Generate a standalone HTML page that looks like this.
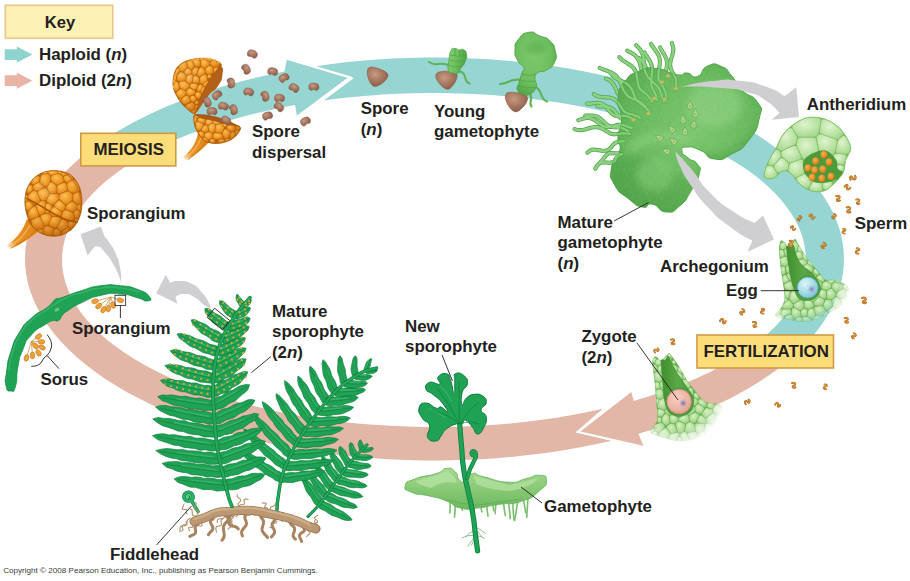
<!DOCTYPE html>
<html><head><meta charset="utf-8"><title>Fern life cycle</title>
<style>
html,body{margin:0;padding:0;background:#fff;}
body{width:910px;height:581px;overflow:hidden;position:relative;}
svg{position:absolute;left:0;top:0;display:block;}
svg text{font-family:"Liberation Sans",sans-serif;fill:#231f20;}
</style></head><body>
<svg width="910" height="581" viewBox="0 0 910 581">
<path d="M611.7 440.7L595.6 444.2L579.2 447.5L562.6 450.4L545.7 452.9L528.5 455.1L511.3 456.9L493.8 458.4L476.3 459.4L458.7 460.1L441.0 460.5L423.3 460.4L405.7 460.0L388.1 459.2L370.6 458.0L353.2 456.5L335.9 454.6L318.9 452.3L302.0 449.7L285.4 446.7L269.1 443.3L253.1 439.7L237.4 435.6L222.1 431.3L207.2 426.6L192.7 421.6L178.7 416.4L165.1 410.8L152.1 404.9L139.6 398.8L127.6 392.4L116.2 385.7L105.3 378.9L95.1 371.8L85.6 364.5L76.6 357.0L68.4 349.3L60.8 341.4L53.9 333.4L47.8 325.2L42.3 317.0L37.6 308.6L33.6 300.1L30.4 291.6L27.9 283.0L26.2 274.3L25.2 265.6L25.0 256.9L25.6 248.2L26.9 239.6L29.0 230.9L31.8 222.3L35.4 213.8L39.8 205.4L44.8 197.1L50.6 188.8L57.1 180.8L64.3 172.8L72.2 165.0L80.8 157.4L90.1 150.0L143.6 155.6L133.4 161.6L123.8 167.8L114.8 174.2L106.5 180.8L98.8 187.5L91.9 194.4L85.6 201.4L80.1 208.6L75.2 215.8L71.2 223.2L67.8 230.6L65.2 238.1L63.4 245.6L62.3 253.1L62.0 260.7L62.5 268.2L63.7 275.8L65.6 283.3L68.4 290.7L71.8 298.1L76.1 305.5L81.0 312.7L86.7 319.8L93.1 326.8L100.2 333.7L107.9 340.4L116.4 346.9L125.5 353.3L135.2 359.5L145.5 365.4L156.4 371.2L167.9 376.7L180.0 382.0L192.5 387.0L205.6 391.8L219.1 396.3L233.1 400.5L247.5 404.5L262.2 408.1L277.3 411.5L292.8 414.5L308.5 417.2L324.5 419.6L340.7 421.7L357.1 423.4L373.6 424.8L390.3 425.8L407.1 426.6L423.9 426.9L440.7 427.0L457.6 426.7L474.4 426.0L491.1 425.0L507.6 423.7L524.1 422.0L540.3 420.0L556.3 417.7L572.1 415.1L587.6 412.1L602.8 408.8L576 432Z" fill="#e2b7a7"/>
<path d="M314.5 66.4L329.8 64.2L345.3 62.3L361.0 60.8L376.8 59.5L392.6 58.6L408.5 57.9L424.5 57.6L440.4 57.5L456.4 57.8L472.3 58.4L488.2 59.2L504.0 60.4L519.7 61.9L535.2 63.7L550.6 65.8L565.8 68.1L580.9 70.8L595.7 73.8L610.2 77.0L624.5 80.5L638.5 84.3L652.2 88.3L665.6 92.6L678.6 97.2L691.2 102.0L703.4 107.0L715.3 112.3L726.7 117.8L737.7 123.5L748.2 129.5L758.2 135.6L767.7 141.9L776.7 148.4L785.2 155.0L793.2 161.8L800.7 168.8L807.5 175.9L813.8 183.1L819.6 190.4L824.7 197.9L829.2 205.4L833.2 213.0L836.5 220.7L839.3 228.4L841.4 236.2L842.9 244.0L843.7 251.9L844.0 259.7L843.6 267.6L842.6 275.4L841.0 283.3L838.8 291.0L835.9 298.8L832.5 306.4L828.4 314.0L823.8 321.6L818.5 329.0L812.7 336.3L806.3 343.5L799.3 350.6L747.5 349.9L755.4 344.1L762.8 338.1L769.6 332.1L775.8 325.9L781.5 319.6L786.6 313.2L791.1 306.7L795.1 300.2L798.4 293.5L801.2 286.9L803.3 280.1L804.8 273.4L805.7 266.6L806.0 259.8L805.7 253.0L804.7 246.2L803.2 239.5L801.0 232.8L798.2 226.1L794.9 219.5L790.9 212.9L786.3 206.4L781.2 200.0L775.5 193.8L769.2 187.6L762.4 181.5L755.0 175.6L747.1 169.8L738.7 164.2L729.7 158.7L720.3 153.4L710.4 148.2L700.1 143.3L689.3 138.5L678.1 134.0L666.4 129.6L654.4 125.5L642.1 121.6L629.4 117.9L616.3 114.4L603.0 111.2L589.4 108.3L575.5 105.6L561.4 103.1L547.1 100.9L532.6 99.0L517.9 97.3L503.1 95.9L488.2 94.8L473.2 93.9L458.1 93.4L443.0 93.0L427.9 93.0L412.8 93.3L397.7 93.8L382.7 94.6L367.7 95.7L352.9 97.0L338.2 98.6L323.7 100.5L354 78Z" fill="#96d5d1"/>
<path d="M748.9 348.9L744.5 352.0L739.9 355.0L735.1 358.1L730.2 361.0L725.2 363.9L720.0 366.8L714.6 369.6L709.2 372.4L703.5 375.1L697.8 377.7L691.9 380.3L685.9 382.9L679.8 385.3L673.6 387.8L667.2 390.1L660.8 392.4L654.2 394.6L647.5 396.8L640.7 398.8L633.8 400.9L631 391L578 432L644 447L638.4 433.8L648.6 430.8L658.6 427.7L668.4 424.4L678.0 421.0L687.4 417.5L696.6 413.8L705.6 410.0L714.3 406.1L722.8 402.1L731.1 397.9L739.2 393.6L746.9 389.3L754.5 384.8L761.7 380.2L768.7 375.5L775.4 370.7L781.8 365.8L787.9 360.8L793.8 355.7L799.3 350.6Z" fill="#e2b7a7"/>
<path d="M631 391L578 432L644 447" fill="none" stroke="#fff" stroke-width="2.2" stroke-linejoin="miter"/>
<path d="M104.4 139.8L111.3 135.3L118.5 130.8L126.0 126.5L133.7 122.3L141.6 118.2L149.7 114.2L158.1 110.3L166.7 106.5L175.6 102.9L184.6 99.4L193.8 96.0L203.2 92.7L212.8 89.6L222.6 86.6L232.5 83.7L242.6 81.0L252.8 78.4L263.2 76.0L273.8 73.7L284.4 71.5L287 58.6L350 77.5L297 117L295.2 105.1L285.8 106.8L276.5 108.7L267.3 110.7L258.3 112.8L249.4 115.0L240.6 117.3L231.9 119.8L223.5 122.3L215.1 125.0L207.0 127.7L199.0 130.5L191.2 133.5L183.5 136.5L176.1 139.6L168.9 142.9L161.8 146.2L155.0 149.6L148.3 153.0L141.9 156.6L135.7 160.2Z" fill="#96d5d1"/>
<path d="M287 58.6L350 77.5L297 117" fill="none" stroke="#fff" stroke-width="2.2" stroke-linejoin="miter"/>
<defs>
<radialGradient id="gMG" cx="0.55" cy="0.45" r="0.65"><stop offset="0" stop-color="#7bc66d"/><stop offset="0.6" stop-color="#66b95b"/><stop offset="1" stop-color="#4fa348"/></radialGradient>
<filter id="fTex" x="0" y="0" width="1" height="1"><feTurbulence type="fractalNoise" baseFrequency="0.35" numOctaves="2" seed="3" result="n"/><feColorMatrix in="n" type="matrix" values="0 0 0 0 1  0 0 0 0 1  0 0 0 0 1  0.9 0 0 0 -0.32" result="a"/><feComposite in="a" in2="SourceGraphic" operator="in"/></filter>
<filter id="fBlur2"><feGaussianBlur stdDeviation="2"/></filter>
<filter id="fBlur1"><feGaussianBlur stdDeviation="1"/></filter>
<filter id="fBlur3"><feGaussianBlur stdDeviation="3.5"/></filter>
</defs>
<defs>
<radialGradient id="gSpA" gradientUnits="userSpaceOnUse" cx="46" cy="192" r="42"><stop offset="0" stop-color="#f7b545"/><stop offset="0.55" stop-color="#ec9422"/><stop offset="1" stop-color="#c96f10"/></radialGradient>
<radialGradient id="gSpB" gradientUnits="userSpaceOnUse" cx="190" cy="78" r="42"><stop offset="0" stop-color="#f7b545"/><stop offset="0.55" stop-color="#ec9422"/><stop offset="1" stop-color="#c96f10"/></radialGradient>
<radialGradient id="gSpC" gradientUnits="userSpaceOnUse" cx="212" cy="124" r="30"><stop offset="0" stop-color="#f5ad3c"/><stop offset="0.6" stop-color="#e88f20"/><stop offset="1" stop-color="#c2690e"/></radialGradient>
<radialGradient id="gCellO" cx="0.4" cy="0.35" r="0.75"><stop offset="0" stop-color="#fbc258"/><stop offset="0.55" stop-color="#f09c28"/><stop offset="1" stop-color="#d97f14"/></radialGradient>
<radialGradient id="shA" gradientUnits="userSpaceOnUse" cx="47" cy="193" r="44"><stop offset="0" stop-color="#fff" stop-opacity="0.12"/><stop offset="0.5" stop-color="#c06008" stop-opacity="0"/><stop offset="1" stop-color="#a04c04" stop-opacity="0.55"/></radialGradient>
<radialGradient id="shB" gradientUnits="userSpaceOnUse" cx="190" cy="76" r="40"><stop offset="0" stop-color="#fff" stop-opacity="0.12"/><stop offset="0.5" stop-color="#c06008" stop-opacity="0"/><stop offset="1" stop-color="#a04c04" stop-opacity="0.55"/></radialGradient>
<radialGradient id="shC" gradientUnits="userSpaceOnUse" cx="212" cy="122" r="30"><stop offset="0" stop-color="#fff" stop-opacity="0.1"/><stop offset="0.5" stop-color="#c06008" stop-opacity="0"/><stop offset="1" stop-color="#a04c04" stop-opacity="0.55"/></radialGradient>
<linearGradient id="gStalk" x1="0" y1="0" x2="1" y2="1"><stop offset="0" stop-color="#f0a030"/><stop offset="1" stop-color="#d07a14"/></linearGradient>
</defs>
<g fill="none" stroke="#4f9f49" stroke-width="4.1" stroke-linecap="round"><path d="M676.0 90.0C676.0 89.3 676.0 89.3 676.0 88.0C676.0 86.7 676.0 87.4 676.1 86.0C676.2 84.7 676.2 85.4 676.2 84.1C676.3 82.7 676.3 83.4 676.2 82.1C676.2 80.8 676.3 81.4 676.1 80.1C675.8 78.8 676.0 79.5 675.6 78.2C675.2 76.9 675.4 77.6 674.8 76.3C674.2 75.1 674.5 75.7 673.8 74.5C673.1 73.3 673.4 73.9 672.7 72.7C672.0 71.4 672.3 72.1 671.7 70.8C671.1 69.6 671.4 70.2 670.9 68.9C670.5 67.7 670.7 68.3 670.4 67.0C670.2 65.7 670.3 66.4 670.2 65.1C670.2 63.8 670.2 64.4 670.3 63.1C670.4 61.8 670.4 62.4 670.6 61.1C670.9 59.7 670.8 60.4 671.1 59.0C671.5 57.7 671.3 58.4 671.8 57.0C672.2 55.6 672.0 56.3 672.4 54.9C672.7 53.6 672.6 54.3 672.9 52.9C673.2 51.5 673.1 52.2 673.2 50.9C673.3 49.6 673.3 50.2 673.3 48.9C673.2 47.6 673.3 48.2 673.1 47.0C672.8 45.7 673.0 46.3 672.5 45.0C672.1 43.8 672.0 43.8 671.8 43.2"/><path d="M666.4 99.0C666.3 98.2 666.4 98.2 666.2 96.6C666.0 95.0 666.1 95.8 665.8 94.2C665.5 92.7 665.7 93.4 665.3 91.9C664.8 90.4 665.1 91.2 664.4 89.7C663.7 88.2 664.1 88.9 663.3 87.5C662.5 86.1 662.9 86.8 662.0 85.4C661.1 83.9 661.5 84.7 660.6 83.2C659.7 81.8 660.0 82.6 659.3 81.1C658.7 79.6 659.0 80.4 658.7 78.8C658.3 77.2 658.5 78.0 658.4 76.4C658.3 74.8 658.3 75.6 658.4 74.0C658.5 72.3 658.4 73.1 658.7 71.4C658.9 69.8 658.8 70.6 659.1 68.9C659.4 67.2 659.3 68.0 659.5 66.3C659.8 64.7 659.7 65.5 659.8 63.8C659.9 62.2 659.9 63.0 659.9 61.4C659.8 59.7 659.9 60.5 659.6 59.0C659.3 57.4 659.5 58.2 659.0 56.7C658.5 55.2 658.8 55.9 658.0 54.4C657.3 53.0 657.7 53.7 656.8 52.3C655.8 50.9 656.3 51.6 655.3 50.2C654.3 48.8 654.8 49.5 653.7 48.1C652.7 46.7 653.2 47.4 652.2 46.0C651.3 44.6 651.4 44.6 650.9 43.9"/><path d="M664.0 102.0C663.7 101.2 663.6 101.2 663.0 99.6C662.3 97.9 662.7 98.7 662.1 97.0C661.6 95.3 661.9 96.2 661.3 94.5C660.8 92.8 661.1 93.6 660.5 91.9C659.9 90.3 660.2 91.1 659.5 89.5C658.7 88.0 659.1 88.7 658.1 87.3C657.1 85.8 657.6 86.5 656.4 85.2C655.2 83.8 655.8 84.5 654.4 83.3C653.0 82.0 653.6 82.7 652.2 81.4C650.8 80.2 651.4 80.8 650.2 79.5C648.9 78.2 649.4 78.9 648.3 77.5C647.2 76.1 647.7 76.8 646.9 75.3C646.0 73.7 646.4 74.5 645.7 72.9C645.1 71.2 645.3 72.1 644.9 70.3C644.5 68.6 644.7 69.5 644.4 67.6C644.1 65.8 644.3 66.7 644.1 64.8C643.9 63.0 644.0 63.9 643.9 62.0C643.7 60.1 643.8 61.0 643.6 59.2C643.3 57.3 643.5 58.2 643.1 56.4C642.7 54.7 643.0 55.5 642.4 53.9C641.8 52.2 642.1 53.0 641.3 51.5C640.5 49.9 640.9 50.7 639.9 49.2C638.8 47.8 639.4 48.5 638.1 47.2C636.9 45.8 636.8 45.9 636.1 45.2"/><path d="M657.0 100.0C656.9 99.3 656.9 99.3 656.6 98.0C656.3 96.6 656.5 97.3 656.0 96.0C655.6 94.7 655.8 95.3 655.3 94.1C654.7 92.8 655.0 93.4 654.4 92.2C653.8 90.9 654.1 91.5 653.5 90.3C652.8 89.0 653.1 89.6 652.5 88.4C652.0 87.1 652.2 87.7 651.8 86.4C651.3 85.1 651.4 85.8 651.2 84.5C651.0 83.1 651.1 83.8 651.1 82.4C651.1 81.0 651.1 81.7 651.2 80.2C651.3 78.8 651.3 79.5 651.4 78.1C651.6 76.6 651.5 77.3 651.7 75.9C651.9 74.5 651.8 75.2 652.0 73.7C652.1 72.3 652.1 73.0 652.1 71.6C652.2 70.2 652.2 70.9 652.1 69.5C652.1 68.1 652.1 68.8 651.9 67.4C651.7 66.1 651.9 66.7 651.5 65.4C651.2 64.1 651.4 64.7 650.9 63.4C650.4 62.1 650.7 62.8 650.1 61.5C649.4 60.3 649.8 60.9 649.0 59.6C648.3 58.4 648.7 59.0 647.9 57.8C647.1 56.6 647.5 57.2 646.7 56.0C645.9 54.7 646.3 55.3 645.5 54.1C644.8 52.9 644.8 52.9 644.5 52.3"/><path d="M652.0 102.0C651.7 101.3 651.7 101.3 651.0 99.9C650.2 98.6 650.6 99.2 649.7 98.0C648.8 96.7 649.3 97.3 648.3 96.2C647.2 95.0 647.8 95.6 646.6 94.5C645.4 93.4 646.0 94.0 644.7 93.0C643.5 91.9 644.0 92.5 642.8 91.4C641.6 90.4 642.1 91.0 641.0 89.9C639.9 88.7 640.3 89.4 639.5 88.1C638.7 86.8 639.1 87.4 638.6 85.9C638.1 84.4 638.3 85.2 638.0 83.6C637.6 82.0 637.8 82.8 637.5 81.1C637.3 79.4 637.4 80.2 637.2 78.6C636.9 76.9 637.1 77.7 636.8 76.1C636.5 74.4 636.7 75.2 636.3 73.6C635.8 72.1 636.1 72.8 635.5 71.4C634.9 70.0 635.2 70.7 634.4 69.4C633.5 68.1 634.0 68.7 632.9 67.5C631.9 66.4 632.4 66.9 631.2 65.9C630.0 64.9 630.6 65.4 629.2 64.5C627.8 63.5 628.5 64.0 627.1 63.1C625.6 62.2 626.3 62.7 624.9 61.8C623.5 60.8 624.1 61.3 622.8 60.3C621.5 59.4 622.1 59.9 620.9 58.8C619.8 57.7 619.9 57.7 619.3 57.1"/><path d="M649.5 112.0C648.9 111.3 648.9 111.3 647.7 109.8C646.6 108.4 647.2 109.1 646.0 107.6C644.9 106.2 645.5 106.8 644.2 105.5C643.0 104.1 643.7 104.8 642.2 103.6C640.8 102.4 641.6 102.9 640.0 101.9C638.4 101.0 639.2 101.4 637.4 100.6C635.7 99.8 636.5 100.2 634.7 99.5C632.8 98.8 633.6 99.3 631.9 98.4C630.1 97.6 630.9 98.1 629.4 97.0C627.8 96.0 628.5 96.6 627.2 95.3C625.9 94.0 626.5 94.7 625.4 93.2C624.3 91.7 624.8 92.5 623.9 90.8C622.9 89.1 623.4 89.9 622.6 88.1C621.8 86.3 622.2 87.2 621.4 85.3C620.6 83.4 621.1 84.3 620.2 82.5C619.4 80.7 619.9 81.5 618.9 79.9C618.0 78.2 618.5 79.0 617.4 77.5C616.3 76.0 616.9 76.7 615.6 75.4C614.2 74.1 614.9 74.7 613.4 73.7C611.8 72.7 612.6 73.1 610.9 72.3C609.1 71.5 610.0 71.9 608.1 71.2C606.3 70.4 607.2 70.8 605.3 70.1C603.4 69.5 604.3 69.8 602.4 69.1C600.6 68.4 600.6 68.4 599.7 68.0"/><path d="M646.0 108.0C645.5 107.5 645.5 107.5 644.4 106.6C643.4 105.7 643.9 106.1 642.8 105.3C641.7 104.4 642.2 104.9 641.1 104.0C639.9 103.2 640.5 103.6 639.4 102.7C638.3 101.8 638.8 102.3 637.8 101.3C636.8 100.3 637.3 100.9 636.4 99.7C635.6 98.6 636.0 99.2 635.3 97.9C634.6 96.7 634.9 97.3 634.4 95.9C633.8 94.6 634.1 95.2 633.6 93.8C633.1 92.4 633.4 93.1 632.8 91.7C632.2 90.3 632.5 91.0 631.9 89.7C631.2 88.4 631.6 89.0 630.8 87.9C630.0 86.7 630.4 87.2 629.5 86.2C628.6 85.2 629.1 85.6 628.0 84.7C626.9 83.8 627.5 84.3 626.3 83.5C625.1 82.7 625.7 83.1 624.4 82.4C623.1 81.7 623.7 82.0 622.4 81.4C621.0 80.7 621.7 81.1 620.3 80.4C618.9 79.8 619.6 80.1 618.3 79.5C616.9 78.8 617.6 79.2 616.3 78.4C615.1 77.7 615.7 78.1 614.5 77.2C613.4 76.4 613.9 76.8 612.9 75.8C611.9 74.8 612.4 75.4 611.6 74.3C610.7 73.1 610.8 73.1 610.4 72.5"/><path d="M640.0 118.0C639.4 117.6 639.4 117.5 638.2 116.8C636.9 116.1 637.6 116.4 636.2 115.9C634.9 115.3 635.6 115.6 634.2 115.1C632.7 114.7 633.4 114.9 632.0 114.5C630.5 114.2 631.2 114.4 629.8 114.0C628.4 113.6 629.0 113.9 627.7 113.3C626.3 112.8 627.0 113.2 625.7 112.4C624.5 111.7 625.0 112.2 624.0 111.1C622.9 110.1 623.4 110.6 622.5 109.3C621.6 108.0 622.1 108.7 621.2 107.3C620.3 106.0 620.8 106.6 619.9 105.3C619.0 103.9 619.5 104.5 618.5 103.3C617.6 102.1 618.1 102.6 617.1 101.6C616.0 100.5 616.6 101.0 615.4 100.1C614.3 99.2 614.9 99.6 613.6 98.9C612.3 98.3 613.0 98.6 611.5 98.1C610.1 97.7 610.8 97.9 609.3 97.6C607.8 97.4 608.6 97.5 607.0 97.4C605.4 97.2 606.2 97.3 604.6 97.2C602.9 97.1 603.7 97.2 602.1 97.0C600.6 96.9 601.3 97.0 599.8 96.7C598.3 96.4 599.0 96.6 597.6 96.1C596.2 95.7 596.9 96.0 595.6 95.3C594.4 94.6 594.4 94.5 593.8 94.1"/><path d="M634.0 120.0C633.4 119.6 633.4 119.6 632.2 118.9C631.0 118.1 631.7 118.5 630.4 117.8C629.2 117.1 629.9 117.4 628.6 116.8C627.3 116.3 628.0 116.5 626.6 116.1C625.3 115.8 626.0 115.9 624.5 115.8C623.1 115.7 623.8 115.7 622.3 115.8C620.8 115.8 621.6 115.8 620.0 115.9C618.5 116.0 619.2 116.2 617.7 116.1C616.3 116.0 617.0 116.1 615.6 115.7C614.3 115.3 614.9 115.6 613.7 114.9C612.5 114.3 613.1 114.6 612.0 113.7C610.9 112.8 611.4 113.3 610.4 112.2C609.4 111.0 609.9 111.6 608.9 110.4C607.9 109.1 608.4 109.7 607.4 108.5C606.4 107.3 606.9 107.8 605.9 106.7C604.9 105.6 605.4 106.1 604.3 105.2C603.2 104.3 603.8 104.7 602.5 104.0C601.3 103.4 601.9 103.6 600.6 103.3C599.3 102.9 600.0 103.0 598.5 102.9C597.1 102.8 597.8 102.8 596.3 102.9C594.8 103.0 595.5 103.0 594.0 103.1C592.4 103.3 593.2 103.3 591.6 103.5C590.0 103.6 590.8 103.6 589.3 103.7C587.8 103.7 587.8 103.6 587.0 103.6"/><path d="M632.0 128.0C631.3 127.8 631.3 127.9 629.8 127.4C628.4 126.9 629.1 127.2 627.6 126.6C626.2 126.1 626.9 126.3 625.5 125.8C624.0 125.3 624.8 125.5 623.3 125.1C621.8 124.8 622.6 124.9 621.1 124.8C619.6 124.6 620.3 124.6 618.8 124.8C617.2 124.9 618.0 124.8 616.4 125.2C614.8 125.6 615.6 125.5 614.0 126.0C612.4 126.4 613.2 126.3 611.6 126.6C610.0 127.0 610.8 126.9 609.2 127.0C607.7 127.1 608.5 127.1 607.0 127.0C605.5 126.8 606.2 126.9 604.7 126.5C603.3 126.0 604.0 126.3 602.6 125.6C601.2 124.8 601.9 125.2 600.5 124.3C599.1 123.4 599.8 123.8 598.5 122.8C597.1 121.8 597.8 122.3 596.4 121.3C595.0 120.4 595.7 120.8 594.3 119.9C592.9 119.1 593.7 119.4 592.2 118.9C590.8 118.3 591.5 118.5 590.0 118.2C588.6 117.9 589.3 117.9 587.8 117.9C586.3 117.9 587.0 117.9 585.5 118.1C583.9 118.3 584.7 118.2 583.1 118.6C581.5 119.1 582.3 118.9 580.7 119.4C579.1 119.9 579.1 119.9 578.3 120.2"/><path d="M630.0 134.0C629.2 133.8 629.3 133.8 627.7 133.5C626.2 133.3 627.0 133.4 625.4 133.3C623.9 133.3 624.6 133.3 623.1 133.4C621.5 133.4 622.3 133.4 620.7 133.6C619.1 133.8 619.9 133.7 618.3 133.9C616.7 134.1 617.5 134.1 616.0 134.2C614.4 134.2 615.2 134.3 613.6 134.2C612.1 134.0 612.8 134.2 611.3 133.8C609.8 133.3 610.6 133.5 609.1 132.7C607.7 132.0 608.4 132.3 606.9 131.5C605.5 130.6 606.2 131.0 604.8 130.2C603.3 129.4 604.1 129.7 602.6 129.0C601.1 128.3 601.9 128.5 600.4 128.0C598.9 127.5 599.6 127.7 598.1 127.4C596.6 127.1 597.4 127.2 595.8 127.1C594.3 127.1 595.0 127.1 593.5 127.2C591.9 127.4 592.7 127.3 591.1 127.7C589.5 128.1 590.3 127.9 588.7 128.3C587.0 128.8 587.8 128.6 586.2 129.1C584.6 129.5 585.4 129.3 583.8 129.7C582.2 130.0 583.0 129.9 581.4 130.1C579.8 130.2 580.6 130.2 579.1 130.1C577.5 130.0 578.3 130.1 576.8 129.8C575.3 129.5 575.3 129.3 574.5 129.1"/><path d="M628.0 131.0C627.4 130.7 627.5 130.7 626.3 130.1C625.2 129.4 625.8 129.7 624.7 129.1C623.5 128.6 624.1 128.8 622.9 128.4C621.8 127.9 622.4 128.1 621.1 127.8C619.9 127.5 620.5 127.6 619.2 127.4C618.0 127.3 618.6 127.3 617.3 127.3C615.9 127.2 616.6 127.3 615.3 127.2C613.9 127.2 614.5 127.4 613.2 127.2C611.9 127.1 612.6 127.2 611.4 126.8C610.1 126.5 610.7 126.7 609.6 126.2C608.4 125.6 609.0 125.9 607.9 125.2C606.8 124.5 607.4 124.9 606.3 124.0C605.3 123.2 605.8 123.6 604.8 122.7C603.8 121.8 604.3 122.2 603.4 121.3C602.4 120.3 602.9 120.8 601.9 119.9C600.9 119.0 601.4 119.4 600.4 118.6C599.3 117.8 599.9 118.1 598.8 117.4C597.7 116.8 598.2 117.1 597.1 116.6C595.9 116.1 596.5 116.3 595.3 116.0C594.0 115.7 594.7 115.8 593.4 115.7C592.1 115.5 592.7 115.6 591.4 115.5C590.1 115.5 590.7 115.5 589.4 115.5C588.0 115.6 588.7 115.6 587.3 115.6C585.9 115.6 585.9 115.6 585.3 115.6"/><path d="M624.0 141.0C623.5 141.1 623.5 141.1 622.4 141.3C621.3 141.4 621.9 141.3 620.8 141.5C619.7 141.6 620.2 141.5 619.1 141.7C618.1 141.9 618.6 141.7 617.6 142.0C616.5 142.3 617.0 142.1 616.0 142.5C615.1 143.0 615.5 142.7 614.7 143.4C613.8 144.0 614.2 143.7 613.4 144.5C612.5 145.4 613.0 145.0 612.2 145.9C611.4 146.8 611.8 146.4 611.0 147.3C610.2 148.2 610.6 147.8 609.7 148.5C608.9 149.3 609.3 149.0 608.4 149.5C607.5 150.1 608.0 149.9 607.0 150.3C606.0 150.7 606.5 150.5 605.4 150.7C604.4 150.9 604.9 150.8 603.8 150.8C602.6 150.9 603.2 150.9 602.0 150.7C600.8 150.6 601.4 150.7 600.2 150.5C599.0 150.3 599.6 150.4 598.4 150.2C597.2 149.9 597.8 150.0 596.6 149.8C595.4 149.7 596.0 149.7 594.8 149.7C593.7 149.6 594.2 149.6 593.1 149.7C592.0 149.8 592.6 149.7 591.5 150.0C590.5 150.3 591.0 150.1 590.1 150.6C589.1 151.1 589.6 150.9 588.7 151.5C587.8 152.2 587.8 152.3 587.4 152.7"/><path d="M622.0 154.0C621.6 154.1 621.6 154.1 620.8 154.4C620.0 154.7 620.3 154.5 619.6 154.9C618.8 155.3 619.2 155.1 618.5 155.6C617.8 156.1 618.2 155.8 617.6 156.5C616.9 157.1 617.2 156.8 616.7 157.5C616.1 158.3 616.4 157.9 615.9 158.7C615.4 159.5 615.6 159.1 615.1 159.9C614.6 160.7 614.9 160.5 614.3 161.1C613.7 161.7 614.0 161.4 613.2 161.8C612.5 162.2 612.9 162.0 612.1 162.3C611.2 162.5 611.7 162.4 610.8 162.6C609.9 162.7 610.3 162.6 609.4 162.7C608.4 162.7 608.9 162.7 607.9 162.6C606.9 162.6 607.4 162.6 606.4 162.5C605.4 162.5 605.9 162.5 604.9 162.5C603.9 162.4 604.4 162.4 603.4 162.4C602.5 162.5 603.0 162.4 602.1 162.5C601.2 162.7 601.6 162.6 600.8 162.8C600.0 163.1 600.3 162.9 599.6 163.4C598.9 163.8 599.2 163.5 598.6 164.1C597.9 164.7 598.2 164.4 597.6 165.0C597.0 165.7 597.3 165.4 596.8 166.2C596.3 167.0 596.5 166.6 596.0 167.4C595.5 168.3 595.6 168.3 595.3 168.7"/><path d="M626.0 148.0C625.6 148.2 625.6 148.1 624.9 148.5C624.3 149.0 624.6 148.7 623.9 149.2C623.3 149.7 623.6 149.5 623.0 150.0C622.4 150.6 622.7 150.3 622.1 150.9C621.5 151.5 621.8 151.2 621.2 151.7C620.5 152.3 620.9 152.0 620.2 152.5C619.5 152.9 619.9 152.7 619.1 153.0C618.4 153.3 618.8 153.3 618.0 153.4C617.2 153.5 617.5 153.4 616.7 153.4C615.8 153.3 616.2 153.4 615.3 153.3C614.4 153.2 614.8 153.2 613.9 153.2C613.0 153.1 613.5 153.1 612.6 153.1C611.7 153.0 612.1 153.0 611.3 153.1C610.4 153.1 610.8 153.1 610.0 153.2C609.2 153.4 609.6 153.2 608.8 153.5C608.1 153.8 608.4 153.6 607.8 154.0C607.1 154.4 607.4 154.2 606.8 154.7C606.1 155.3 606.4 155.0 605.9 155.6C605.3 156.2 605.6 155.9 605.0 156.6C604.5 157.3 604.7 157.0 604.2 157.7C603.7 158.5 603.9 158.1 603.4 158.8C602.9 159.6 603.2 159.2 602.6 159.9C602.0 160.6 602.3 160.3 601.7 160.9C601.2 161.6 601.1 161.5 600.8 161.8"/><path d="M660.0 92.0C659.6 91.4 659.6 91.4 658.9 90.1C658.2 88.8 658.6 89.4 657.8 88.1C657.1 86.8 657.5 87.4 656.7 86.2C655.8 85.0 656.3 85.6 655.3 84.5C654.3 83.4 654.9 83.9 653.7 83.0C652.6 82.0 653.2 82.4 651.9 81.6C650.6 80.7 651.3 81.1 649.9 80.3C648.6 79.5 649.1 80.0 647.9 79.1C646.6 78.2 647.2 78.7 646.1 77.7C645.0 76.7 645.5 77.2 644.6 76.1C643.7 74.9 644.1 75.5 643.4 74.2C642.6 73.0 643.0 73.6 642.4 72.2C641.8 70.8 642.1 71.5 641.6 70.0C641.2 68.5 641.4 69.3 641.0 67.7C640.6 66.2 640.8 66.9 640.4 65.4C640.0 63.9 640.3 64.6 639.8 63.1C639.3 61.7 639.6 62.4 639.0 61.0C638.4 59.6 638.8 60.2 638.0 59.0C637.2 57.7 637.7 58.3 636.7 57.2C635.8 56.1 636.3 56.6 635.2 55.6C634.1 54.6 634.6 55.1 633.4 54.2C632.1 53.3 632.7 53.8 631.4 52.9C630.0 52.1 630.7 52.5 629.3 51.8C627.9 51.0 627.9 51.0 627.2 50.6"/><path d="M643.0 112.0C642.5 111.5 642.5 111.6 641.5 110.6C640.5 109.6 641.0 110.1 640.1 109.0C639.3 107.9 639.7 108.4 638.9 107.3C638.0 106.2 638.5 106.7 637.6 105.6C636.7 104.5 637.2 105.0 636.2 104.0C635.2 103.1 635.7 103.5 634.6 102.7C633.5 101.9 634.1 102.3 632.8 101.6C631.5 101.0 632.1 101.3 630.7 100.9C629.3 100.5 629.9 100.7 628.5 100.3C627.0 100.0 627.7 100.2 626.3 99.7C624.8 99.3 625.5 99.6 624.2 99.0C622.9 98.4 623.5 98.8 622.3 98.0C621.1 97.3 621.6 97.7 620.6 96.8C619.6 95.9 620.1 96.4 619.2 95.3C618.3 94.2 618.7 94.8 618.0 93.5C617.2 92.3 617.6 92.9 616.9 91.5C616.3 90.2 616.6 90.8 616.0 89.4C615.4 88.0 615.7 88.7 615.1 87.3C614.4 86.0 614.8 86.6 614.1 85.3C613.3 84.0 613.7 84.6 612.9 83.5C612.1 82.3 612.5 82.9 611.5 81.9C610.5 80.9 611.1 81.4 609.9 80.6C608.8 79.8 609.4 80.1 608.1 79.5C606.8 78.9 606.7 79.0 606.1 78.7"/><path d="M670.0 94.0C669.9 93.3 670.0 93.3 669.8 92.0C669.7 90.7 669.8 91.3 669.5 90.1C669.2 88.8 669.4 89.4 668.9 88.1C668.5 86.9 668.7 87.5 668.2 86.2C667.6 85.0 667.9 85.6 667.3 84.4C666.7 83.1 667.0 83.8 666.4 82.5C665.9 81.3 666.1 81.9 665.6 80.6C665.1 79.4 665.2 80.0 665.0 78.7C664.8 77.4 664.9 78.1 665.0 76.7C665.0 75.4 665.0 76.0 665.2 74.7C665.4 73.3 665.3 74.0 665.5 72.6C665.8 71.2 665.7 71.9 666.0 70.5C666.3 69.1 666.2 69.8 666.5 68.4C666.7 67.0 666.6 67.7 666.8 66.3C667.0 65.0 667.0 65.6 667.0 64.3C667.1 62.9 667.1 63.6 667.0 62.3C666.9 60.9 667.0 61.6 666.7 60.3C666.4 59.0 666.6 59.7 666.1 58.4C665.6 57.1 665.9 57.8 665.3 56.5C664.7 55.3 665.0 55.9 664.3 54.7C663.6 53.4 663.9 54.1 663.2 52.8C662.4 51.6 662.8 52.2 662.1 51.0C661.3 49.8 661.6 50.4 661.0 49.2C660.3 48.0 660.4 47.9 660.1 47.3"/><path d="M655.0 104.0C654.9 103.3 654.9 103.3 654.7 102.0C654.5 100.6 654.6 101.3 654.4 100.0C654.1 98.6 654.3 99.3 654.0 98.0C653.6 96.7 653.9 97.3 653.4 96.1C652.9 94.8 653.2 95.4 652.5 94.2C651.8 93.0 652.2 93.6 651.3 92.5C650.5 91.3 650.9 91.9 649.9 90.8C649.0 89.7 649.3 90.3 648.4 89.2C647.5 88.1 647.9 88.6 647.2 87.5C646.5 86.3 646.8 86.9 646.3 85.6C645.8 84.4 646.0 85.0 645.7 83.7C645.4 82.4 645.5 83.1 645.4 81.7C645.4 80.3 645.4 81.0 645.4 79.6C645.5 78.1 645.5 78.8 645.6 77.4C645.8 75.9 645.7 76.6 645.9 75.2C646.1 73.7 646.0 74.4 646.1 73.0C646.3 71.5 646.3 72.2 646.2 70.8C646.2 69.4 646.3 70.1 646.1 68.7C645.9 67.4 646.0 68.1 645.6 66.8C645.2 65.5 645.4 66.1 644.8 64.9C644.2 63.7 644.5 64.3 643.7 63.2C642.9 62.0 643.3 62.6 642.4 61.5C641.4 60.4 641.9 60.9 640.9 59.8C639.9 58.8 639.8 58.8 639.3 58.2"/><path d="M637.0 124.0C636.5 123.6 636.5 123.6 635.5 122.9C634.5 122.3 635.0 122.6 633.9 122.0C632.9 121.4 633.4 121.7 632.3 121.2C631.1 120.8 631.7 121.0 630.5 120.7C629.3 120.4 629.9 120.5 628.6 120.3C627.3 120.1 628.0 120.3 626.7 120.1C625.4 119.9 626.0 120.1 624.8 119.9C623.5 119.6 624.1 119.9 622.9 119.5C621.8 119.0 622.3 119.2 621.3 118.5C620.3 117.8 620.8 118.2 619.9 117.4C619.0 116.5 619.4 116.9 618.6 116.0C617.7 115.0 618.1 115.4 617.3 114.4C616.5 113.3 616.9 113.8 616.1 112.8C615.2 111.7 615.7 112.2 614.8 111.2C614.0 110.2 614.4 110.7 613.5 109.8C612.6 108.9 613.1 109.3 612.0 108.6C611.0 107.9 611.6 108.2 610.5 107.7C609.4 107.2 609.9 107.4 608.7 107.1C607.5 106.7 608.2 106.9 606.9 106.7C605.6 106.5 606.2 106.6 604.9 106.5C603.6 106.4 604.3 106.5 602.9 106.4C601.6 106.4 602.2 106.5 600.9 106.4C599.6 106.3 600.2 106.4 598.9 106.2C597.6 106.1 597.7 106.0 597.0 105.9"/></g>
<g fill="none" stroke="#8ad27f" stroke-width="2.7" stroke-linecap="round"><path d="M676.0 90.0C676.0 89.3 676.0 89.3 676.0 88.0C676.0 86.7 676.0 87.4 676.1 86.0C676.2 84.7 676.2 85.4 676.2 84.1C676.3 82.7 676.3 83.4 676.2 82.1C676.2 80.8 676.3 81.4 676.1 80.1C675.8 78.8 676.0 79.5 675.6 78.2C675.2 76.9 675.4 77.6 674.8 76.3C674.2 75.1 674.5 75.7 673.8 74.5C673.1 73.3 673.4 73.9 672.7 72.7C672.0 71.4 672.3 72.1 671.7 70.8C671.1 69.6 671.4 70.2 670.9 68.9C670.5 67.7 670.7 68.3 670.4 67.0C670.2 65.7 670.3 66.4 670.2 65.1C670.2 63.8 670.2 64.4 670.3 63.1C670.4 61.8 670.4 62.4 670.6 61.1C670.9 59.7 670.8 60.4 671.1 59.0C671.5 57.7 671.3 58.4 671.8 57.0C672.2 55.6 672.0 56.3 672.4 54.9C672.7 53.6 672.6 54.3 672.9 52.9C673.2 51.5 673.1 52.2 673.2 50.9C673.3 49.6 673.3 50.2 673.3 48.9C673.2 47.6 673.3 48.2 673.1 47.0C672.8 45.7 673.0 46.3 672.5 45.0C672.1 43.8 672.0 43.8 671.8 43.2"/><path d="M666.4 99.0C666.3 98.2 666.4 98.2 666.2 96.6C666.0 95.0 666.1 95.8 665.8 94.2C665.5 92.7 665.7 93.4 665.3 91.9C664.8 90.4 665.1 91.2 664.4 89.7C663.7 88.2 664.1 88.9 663.3 87.5C662.5 86.1 662.9 86.8 662.0 85.4C661.1 83.9 661.5 84.7 660.6 83.2C659.7 81.8 660.0 82.6 659.3 81.1C658.7 79.6 659.0 80.4 658.7 78.8C658.3 77.2 658.5 78.0 658.4 76.4C658.3 74.8 658.3 75.6 658.4 74.0C658.5 72.3 658.4 73.1 658.7 71.4C658.9 69.8 658.8 70.6 659.1 68.9C659.4 67.2 659.3 68.0 659.5 66.3C659.8 64.7 659.7 65.5 659.8 63.8C659.9 62.2 659.9 63.0 659.9 61.4C659.8 59.7 659.9 60.5 659.6 59.0C659.3 57.4 659.5 58.2 659.0 56.7C658.5 55.2 658.8 55.9 658.0 54.4C657.3 53.0 657.7 53.7 656.8 52.3C655.8 50.9 656.3 51.6 655.3 50.2C654.3 48.8 654.8 49.5 653.7 48.1C652.7 46.7 653.2 47.4 652.2 46.0C651.3 44.6 651.4 44.6 650.9 43.9"/><path d="M664.0 102.0C663.7 101.2 663.6 101.2 663.0 99.6C662.3 97.9 662.7 98.7 662.1 97.0C661.6 95.3 661.9 96.2 661.3 94.5C660.8 92.8 661.1 93.6 660.5 91.9C659.9 90.3 660.2 91.1 659.5 89.5C658.7 88.0 659.1 88.7 658.1 87.3C657.1 85.8 657.6 86.5 656.4 85.2C655.2 83.8 655.8 84.5 654.4 83.3C653.0 82.0 653.6 82.7 652.2 81.4C650.8 80.2 651.4 80.8 650.2 79.5C648.9 78.2 649.4 78.9 648.3 77.5C647.2 76.1 647.7 76.8 646.9 75.3C646.0 73.7 646.4 74.5 645.7 72.9C645.1 71.2 645.3 72.1 644.9 70.3C644.5 68.6 644.7 69.5 644.4 67.6C644.1 65.8 644.3 66.7 644.1 64.8C643.9 63.0 644.0 63.9 643.9 62.0C643.7 60.1 643.8 61.0 643.6 59.2C643.3 57.3 643.5 58.2 643.1 56.4C642.7 54.7 643.0 55.5 642.4 53.9C641.8 52.2 642.1 53.0 641.3 51.5C640.5 49.9 640.9 50.7 639.9 49.2C638.8 47.8 639.4 48.5 638.1 47.2C636.9 45.8 636.8 45.9 636.1 45.2"/><path d="M657.0 100.0C656.9 99.3 656.9 99.3 656.6 98.0C656.3 96.6 656.5 97.3 656.0 96.0C655.6 94.7 655.8 95.3 655.3 94.1C654.7 92.8 655.0 93.4 654.4 92.2C653.8 90.9 654.1 91.5 653.5 90.3C652.8 89.0 653.1 89.6 652.5 88.4C652.0 87.1 652.2 87.7 651.8 86.4C651.3 85.1 651.4 85.8 651.2 84.5C651.0 83.1 651.1 83.8 651.1 82.4C651.1 81.0 651.1 81.7 651.2 80.2C651.3 78.8 651.3 79.5 651.4 78.1C651.6 76.6 651.5 77.3 651.7 75.9C651.9 74.5 651.8 75.2 652.0 73.7C652.1 72.3 652.1 73.0 652.1 71.6C652.2 70.2 652.2 70.9 652.1 69.5C652.1 68.1 652.1 68.8 651.9 67.4C651.7 66.1 651.9 66.7 651.5 65.4C651.2 64.1 651.4 64.7 650.9 63.4C650.4 62.1 650.7 62.8 650.1 61.5C649.4 60.3 649.8 60.9 649.0 59.6C648.3 58.4 648.7 59.0 647.9 57.8C647.1 56.6 647.5 57.2 646.7 56.0C645.9 54.7 646.3 55.3 645.5 54.1C644.8 52.9 644.8 52.9 644.5 52.3"/><path d="M652.0 102.0C651.7 101.3 651.7 101.3 651.0 99.9C650.2 98.6 650.6 99.2 649.7 98.0C648.8 96.7 649.3 97.3 648.3 96.2C647.2 95.0 647.8 95.6 646.6 94.5C645.4 93.4 646.0 94.0 644.7 93.0C643.5 91.9 644.0 92.5 642.8 91.4C641.6 90.4 642.1 91.0 641.0 89.9C639.9 88.7 640.3 89.4 639.5 88.1C638.7 86.8 639.1 87.4 638.6 85.9C638.1 84.4 638.3 85.2 638.0 83.6C637.6 82.0 637.8 82.8 637.5 81.1C637.3 79.4 637.4 80.2 637.2 78.6C636.9 76.9 637.1 77.7 636.8 76.1C636.5 74.4 636.7 75.2 636.3 73.6C635.8 72.1 636.1 72.8 635.5 71.4C634.9 70.0 635.2 70.7 634.4 69.4C633.5 68.1 634.0 68.7 632.9 67.5C631.9 66.4 632.4 66.9 631.2 65.9C630.0 64.9 630.6 65.4 629.2 64.5C627.8 63.5 628.5 64.0 627.1 63.1C625.6 62.2 626.3 62.7 624.9 61.8C623.5 60.8 624.1 61.3 622.8 60.3C621.5 59.4 622.1 59.9 620.9 58.8C619.8 57.7 619.9 57.7 619.3 57.1"/><path d="M649.5 112.0C648.9 111.3 648.9 111.3 647.7 109.8C646.6 108.4 647.2 109.1 646.0 107.6C644.9 106.2 645.5 106.8 644.2 105.5C643.0 104.1 643.7 104.8 642.2 103.6C640.8 102.4 641.6 102.9 640.0 101.9C638.4 101.0 639.2 101.4 637.4 100.6C635.7 99.8 636.5 100.2 634.7 99.5C632.8 98.8 633.6 99.3 631.9 98.4C630.1 97.6 630.9 98.1 629.4 97.0C627.8 96.0 628.5 96.6 627.2 95.3C625.9 94.0 626.5 94.7 625.4 93.2C624.3 91.7 624.8 92.5 623.9 90.8C622.9 89.1 623.4 89.9 622.6 88.1C621.8 86.3 622.2 87.2 621.4 85.3C620.6 83.4 621.1 84.3 620.2 82.5C619.4 80.7 619.9 81.5 618.9 79.9C618.0 78.2 618.5 79.0 617.4 77.5C616.3 76.0 616.9 76.7 615.6 75.4C614.2 74.1 614.9 74.7 613.4 73.7C611.8 72.7 612.6 73.1 610.9 72.3C609.1 71.5 610.0 71.9 608.1 71.2C606.3 70.4 607.2 70.8 605.3 70.1C603.4 69.5 604.3 69.8 602.4 69.1C600.6 68.4 600.6 68.4 599.7 68.0"/><path d="M646.0 108.0C645.5 107.5 645.5 107.5 644.4 106.6C643.4 105.7 643.9 106.1 642.8 105.3C641.7 104.4 642.2 104.9 641.1 104.0C639.9 103.2 640.5 103.6 639.4 102.7C638.3 101.8 638.8 102.3 637.8 101.3C636.8 100.3 637.3 100.9 636.4 99.7C635.6 98.6 636.0 99.2 635.3 97.9C634.6 96.7 634.9 97.3 634.4 95.9C633.8 94.6 634.1 95.2 633.6 93.8C633.1 92.4 633.4 93.1 632.8 91.7C632.2 90.3 632.5 91.0 631.9 89.7C631.2 88.4 631.6 89.0 630.8 87.9C630.0 86.7 630.4 87.2 629.5 86.2C628.6 85.2 629.1 85.6 628.0 84.7C626.9 83.8 627.5 84.3 626.3 83.5C625.1 82.7 625.7 83.1 624.4 82.4C623.1 81.7 623.7 82.0 622.4 81.4C621.0 80.7 621.7 81.1 620.3 80.4C618.9 79.8 619.6 80.1 618.3 79.5C616.9 78.8 617.6 79.2 616.3 78.4C615.1 77.7 615.7 78.1 614.5 77.2C613.4 76.4 613.9 76.8 612.9 75.8C611.9 74.8 612.4 75.4 611.6 74.3C610.7 73.1 610.8 73.1 610.4 72.5"/><path d="M640.0 118.0C639.4 117.6 639.4 117.5 638.2 116.8C636.9 116.1 637.6 116.4 636.2 115.9C634.9 115.3 635.6 115.6 634.2 115.1C632.7 114.7 633.4 114.9 632.0 114.5C630.5 114.2 631.2 114.4 629.8 114.0C628.4 113.6 629.0 113.9 627.7 113.3C626.3 112.8 627.0 113.2 625.7 112.4C624.5 111.7 625.0 112.2 624.0 111.1C622.9 110.1 623.4 110.6 622.5 109.3C621.6 108.0 622.1 108.7 621.2 107.3C620.3 106.0 620.8 106.6 619.9 105.3C619.0 103.9 619.5 104.5 618.5 103.3C617.6 102.1 618.1 102.6 617.1 101.6C616.0 100.5 616.6 101.0 615.4 100.1C614.3 99.2 614.9 99.6 613.6 98.9C612.3 98.3 613.0 98.6 611.5 98.1C610.1 97.7 610.8 97.9 609.3 97.6C607.8 97.4 608.6 97.5 607.0 97.4C605.4 97.2 606.2 97.3 604.6 97.2C602.9 97.1 603.7 97.2 602.1 97.0C600.6 96.9 601.3 97.0 599.8 96.7C598.3 96.4 599.0 96.6 597.6 96.1C596.2 95.7 596.9 96.0 595.6 95.3C594.4 94.6 594.4 94.5 593.8 94.1"/><path d="M634.0 120.0C633.4 119.6 633.4 119.6 632.2 118.9C631.0 118.1 631.7 118.5 630.4 117.8C629.2 117.1 629.9 117.4 628.6 116.8C627.3 116.3 628.0 116.5 626.6 116.1C625.3 115.8 626.0 115.9 624.5 115.8C623.1 115.7 623.8 115.7 622.3 115.8C620.8 115.8 621.6 115.8 620.0 115.9C618.5 116.0 619.2 116.2 617.7 116.1C616.3 116.0 617.0 116.1 615.6 115.7C614.3 115.3 614.9 115.6 613.7 114.9C612.5 114.3 613.1 114.6 612.0 113.7C610.9 112.8 611.4 113.3 610.4 112.2C609.4 111.0 609.9 111.6 608.9 110.4C607.9 109.1 608.4 109.7 607.4 108.5C606.4 107.3 606.9 107.8 605.9 106.7C604.9 105.6 605.4 106.1 604.3 105.2C603.2 104.3 603.8 104.7 602.5 104.0C601.3 103.4 601.9 103.6 600.6 103.3C599.3 102.9 600.0 103.0 598.5 102.9C597.1 102.8 597.8 102.8 596.3 102.9C594.8 103.0 595.5 103.0 594.0 103.1C592.4 103.3 593.2 103.3 591.6 103.5C590.0 103.6 590.8 103.6 589.3 103.7C587.8 103.7 587.8 103.6 587.0 103.6"/><path d="M632.0 128.0C631.3 127.8 631.3 127.9 629.8 127.4C628.4 126.9 629.1 127.2 627.6 126.6C626.2 126.1 626.9 126.3 625.5 125.8C624.0 125.3 624.8 125.5 623.3 125.1C621.8 124.8 622.6 124.9 621.1 124.8C619.6 124.6 620.3 124.6 618.8 124.8C617.2 124.9 618.0 124.8 616.4 125.2C614.8 125.6 615.6 125.5 614.0 126.0C612.4 126.4 613.2 126.3 611.6 126.6C610.0 127.0 610.8 126.9 609.2 127.0C607.7 127.1 608.5 127.1 607.0 127.0C605.5 126.8 606.2 126.9 604.7 126.5C603.3 126.0 604.0 126.3 602.6 125.6C601.2 124.8 601.9 125.2 600.5 124.3C599.1 123.4 599.8 123.8 598.5 122.8C597.1 121.8 597.8 122.3 596.4 121.3C595.0 120.4 595.7 120.8 594.3 119.9C592.9 119.1 593.7 119.4 592.2 118.9C590.8 118.3 591.5 118.5 590.0 118.2C588.6 117.9 589.3 117.9 587.8 117.9C586.3 117.9 587.0 117.9 585.5 118.1C583.9 118.3 584.7 118.2 583.1 118.6C581.5 119.1 582.3 118.9 580.7 119.4C579.1 119.9 579.1 119.9 578.3 120.2"/><path d="M630.0 134.0C629.2 133.8 629.3 133.8 627.7 133.5C626.2 133.3 627.0 133.4 625.4 133.3C623.9 133.3 624.6 133.3 623.1 133.4C621.5 133.4 622.3 133.4 620.7 133.6C619.1 133.8 619.9 133.7 618.3 133.9C616.7 134.1 617.5 134.1 616.0 134.2C614.4 134.2 615.2 134.3 613.6 134.2C612.1 134.0 612.8 134.2 611.3 133.8C609.8 133.3 610.6 133.5 609.1 132.7C607.7 132.0 608.4 132.3 606.9 131.5C605.5 130.6 606.2 131.0 604.8 130.2C603.3 129.4 604.1 129.7 602.6 129.0C601.1 128.3 601.9 128.5 600.4 128.0C598.9 127.5 599.6 127.7 598.1 127.4C596.6 127.1 597.4 127.2 595.8 127.1C594.3 127.1 595.0 127.1 593.5 127.2C591.9 127.4 592.7 127.3 591.1 127.7C589.5 128.1 590.3 127.9 588.7 128.3C587.0 128.8 587.8 128.6 586.2 129.1C584.6 129.5 585.4 129.3 583.8 129.7C582.2 130.0 583.0 129.9 581.4 130.1C579.8 130.2 580.6 130.2 579.1 130.1C577.5 130.0 578.3 130.1 576.8 129.8C575.3 129.5 575.3 129.3 574.5 129.1"/><path d="M628.0 131.0C627.4 130.7 627.5 130.7 626.3 130.1C625.2 129.4 625.8 129.7 624.7 129.1C623.5 128.6 624.1 128.8 622.9 128.4C621.8 127.9 622.4 128.1 621.1 127.8C619.9 127.5 620.5 127.6 619.2 127.4C618.0 127.3 618.6 127.3 617.3 127.3C615.9 127.2 616.6 127.3 615.3 127.2C613.9 127.2 614.5 127.4 613.2 127.2C611.9 127.1 612.6 127.2 611.4 126.8C610.1 126.5 610.7 126.7 609.6 126.2C608.4 125.6 609.0 125.9 607.9 125.2C606.8 124.5 607.4 124.9 606.3 124.0C605.3 123.2 605.8 123.6 604.8 122.7C603.8 121.8 604.3 122.2 603.4 121.3C602.4 120.3 602.9 120.8 601.9 119.9C600.9 119.0 601.4 119.4 600.4 118.6C599.3 117.8 599.9 118.1 598.8 117.4C597.7 116.8 598.2 117.1 597.1 116.6C595.9 116.1 596.5 116.3 595.3 116.0C594.0 115.7 594.7 115.8 593.4 115.7C592.1 115.5 592.7 115.6 591.4 115.5C590.1 115.5 590.7 115.5 589.4 115.5C588.0 115.6 588.7 115.6 587.3 115.6C585.9 115.6 585.9 115.6 585.3 115.6"/><path d="M624.0 141.0C623.5 141.1 623.5 141.1 622.4 141.3C621.3 141.4 621.9 141.3 620.8 141.5C619.7 141.6 620.2 141.5 619.1 141.7C618.1 141.9 618.6 141.7 617.6 142.0C616.5 142.3 617.0 142.1 616.0 142.5C615.1 143.0 615.5 142.7 614.7 143.4C613.8 144.0 614.2 143.7 613.4 144.5C612.5 145.4 613.0 145.0 612.2 145.9C611.4 146.8 611.8 146.4 611.0 147.3C610.2 148.2 610.6 147.8 609.7 148.5C608.9 149.3 609.3 149.0 608.4 149.5C607.5 150.1 608.0 149.9 607.0 150.3C606.0 150.7 606.5 150.5 605.4 150.7C604.4 150.9 604.9 150.8 603.8 150.8C602.6 150.9 603.2 150.9 602.0 150.7C600.8 150.6 601.4 150.7 600.2 150.5C599.0 150.3 599.6 150.4 598.4 150.2C597.2 149.9 597.8 150.0 596.6 149.8C595.4 149.7 596.0 149.7 594.8 149.7C593.7 149.6 594.2 149.6 593.1 149.7C592.0 149.8 592.6 149.7 591.5 150.0C590.5 150.3 591.0 150.1 590.1 150.6C589.1 151.1 589.6 150.9 588.7 151.5C587.8 152.2 587.8 152.3 587.4 152.7"/><path d="M622.0 154.0C621.6 154.1 621.6 154.1 620.8 154.4C620.0 154.7 620.3 154.5 619.6 154.9C618.8 155.3 619.2 155.1 618.5 155.6C617.8 156.1 618.2 155.8 617.6 156.5C616.9 157.1 617.2 156.8 616.7 157.5C616.1 158.3 616.4 157.9 615.9 158.7C615.4 159.5 615.6 159.1 615.1 159.9C614.6 160.7 614.9 160.5 614.3 161.1C613.7 161.7 614.0 161.4 613.2 161.8C612.5 162.2 612.9 162.0 612.1 162.3C611.2 162.5 611.7 162.4 610.8 162.6C609.9 162.7 610.3 162.6 609.4 162.7C608.4 162.7 608.9 162.7 607.9 162.6C606.9 162.6 607.4 162.6 606.4 162.5C605.4 162.5 605.9 162.5 604.9 162.5C603.9 162.4 604.4 162.4 603.4 162.4C602.5 162.5 603.0 162.4 602.1 162.5C601.2 162.7 601.6 162.6 600.8 162.8C600.0 163.1 600.3 162.9 599.6 163.4C598.9 163.8 599.2 163.5 598.6 164.1C597.9 164.7 598.2 164.4 597.6 165.0C597.0 165.7 597.3 165.4 596.8 166.2C596.3 167.0 596.5 166.6 596.0 167.4C595.5 168.3 595.6 168.3 595.3 168.7"/><path d="M626.0 148.0C625.6 148.2 625.6 148.1 624.9 148.5C624.3 149.0 624.6 148.7 623.9 149.2C623.3 149.7 623.6 149.5 623.0 150.0C622.4 150.6 622.7 150.3 622.1 150.9C621.5 151.5 621.8 151.2 621.2 151.7C620.5 152.3 620.9 152.0 620.2 152.5C619.5 152.9 619.9 152.7 619.1 153.0C618.4 153.3 618.8 153.3 618.0 153.4C617.2 153.5 617.5 153.4 616.7 153.4C615.8 153.3 616.2 153.4 615.3 153.3C614.4 153.2 614.8 153.2 613.9 153.2C613.0 153.1 613.5 153.1 612.6 153.1C611.7 153.0 612.1 153.0 611.3 153.1C610.4 153.1 610.8 153.1 610.0 153.2C609.2 153.4 609.6 153.2 608.8 153.5C608.1 153.8 608.4 153.6 607.8 154.0C607.1 154.4 607.4 154.2 606.8 154.7C606.1 155.3 606.4 155.0 605.9 155.6C605.3 156.2 605.6 155.9 605.0 156.6C604.5 157.3 604.7 157.0 604.2 157.7C603.7 158.5 603.9 158.1 603.4 158.8C602.9 159.6 603.2 159.2 602.6 159.9C602.0 160.6 602.3 160.3 601.7 160.9C601.2 161.6 601.1 161.5 600.8 161.8"/><path d="M660.0 92.0C659.6 91.4 659.6 91.4 658.9 90.1C658.2 88.8 658.6 89.4 657.8 88.1C657.1 86.8 657.5 87.4 656.7 86.2C655.8 85.0 656.3 85.6 655.3 84.5C654.3 83.4 654.9 83.9 653.7 83.0C652.6 82.0 653.2 82.4 651.9 81.6C650.6 80.7 651.3 81.1 649.9 80.3C648.6 79.5 649.1 80.0 647.9 79.1C646.6 78.2 647.2 78.7 646.1 77.7C645.0 76.7 645.5 77.2 644.6 76.1C643.7 74.9 644.1 75.5 643.4 74.2C642.6 73.0 643.0 73.6 642.4 72.2C641.8 70.8 642.1 71.5 641.6 70.0C641.2 68.5 641.4 69.3 641.0 67.7C640.6 66.2 640.8 66.9 640.4 65.4C640.0 63.9 640.3 64.6 639.8 63.1C639.3 61.7 639.6 62.4 639.0 61.0C638.4 59.6 638.8 60.2 638.0 59.0C637.2 57.7 637.7 58.3 636.7 57.2C635.8 56.1 636.3 56.6 635.2 55.6C634.1 54.6 634.6 55.1 633.4 54.2C632.1 53.3 632.7 53.8 631.4 52.9C630.0 52.1 630.7 52.5 629.3 51.8C627.9 51.0 627.9 51.0 627.2 50.6"/><path d="M643.0 112.0C642.5 111.5 642.5 111.6 641.5 110.6C640.5 109.6 641.0 110.1 640.1 109.0C639.3 107.9 639.7 108.4 638.9 107.3C638.0 106.2 638.5 106.7 637.6 105.6C636.7 104.5 637.2 105.0 636.2 104.0C635.2 103.1 635.7 103.5 634.6 102.7C633.5 101.9 634.1 102.3 632.8 101.6C631.5 101.0 632.1 101.3 630.7 100.9C629.3 100.5 629.9 100.7 628.5 100.3C627.0 100.0 627.7 100.2 626.3 99.7C624.8 99.3 625.5 99.6 624.2 99.0C622.9 98.4 623.5 98.8 622.3 98.0C621.1 97.3 621.6 97.7 620.6 96.8C619.6 95.9 620.1 96.4 619.2 95.3C618.3 94.2 618.7 94.8 618.0 93.5C617.2 92.3 617.6 92.9 616.9 91.5C616.3 90.2 616.6 90.8 616.0 89.4C615.4 88.0 615.7 88.7 615.1 87.3C614.4 86.0 614.8 86.6 614.1 85.3C613.3 84.0 613.7 84.6 612.9 83.5C612.1 82.3 612.5 82.9 611.5 81.9C610.5 80.9 611.1 81.4 609.9 80.6C608.8 79.8 609.4 80.1 608.1 79.5C606.8 78.9 606.7 79.0 606.1 78.7"/><path d="M670.0 94.0C669.9 93.3 670.0 93.3 669.8 92.0C669.7 90.7 669.8 91.3 669.5 90.1C669.2 88.8 669.4 89.4 668.9 88.1C668.5 86.9 668.7 87.5 668.2 86.2C667.6 85.0 667.9 85.6 667.3 84.4C666.7 83.1 667.0 83.8 666.4 82.5C665.9 81.3 666.1 81.9 665.6 80.6C665.1 79.4 665.2 80.0 665.0 78.7C664.8 77.4 664.9 78.1 665.0 76.7C665.0 75.4 665.0 76.0 665.2 74.7C665.4 73.3 665.3 74.0 665.5 72.6C665.8 71.2 665.7 71.9 666.0 70.5C666.3 69.1 666.2 69.8 666.5 68.4C666.7 67.0 666.6 67.7 666.8 66.3C667.0 65.0 667.0 65.6 667.0 64.3C667.1 62.9 667.1 63.6 667.0 62.3C666.9 60.9 667.0 61.6 666.7 60.3C666.4 59.0 666.6 59.7 666.1 58.4C665.6 57.1 665.9 57.8 665.3 56.5C664.7 55.3 665.0 55.9 664.3 54.7C663.6 53.4 663.9 54.1 663.2 52.8C662.4 51.6 662.8 52.2 662.1 51.0C661.3 49.8 661.6 50.4 661.0 49.2C660.3 48.0 660.4 47.9 660.1 47.3"/><path d="M655.0 104.0C654.9 103.3 654.9 103.3 654.7 102.0C654.5 100.6 654.6 101.3 654.4 100.0C654.1 98.6 654.3 99.3 654.0 98.0C653.6 96.7 653.9 97.3 653.4 96.1C652.9 94.8 653.2 95.4 652.5 94.2C651.8 93.0 652.2 93.6 651.3 92.5C650.5 91.3 650.9 91.9 649.9 90.8C649.0 89.7 649.3 90.3 648.4 89.2C647.5 88.1 647.9 88.6 647.2 87.5C646.5 86.3 646.8 86.9 646.3 85.6C645.8 84.4 646.0 85.0 645.7 83.7C645.4 82.4 645.5 83.1 645.4 81.7C645.4 80.3 645.4 81.0 645.4 79.6C645.5 78.1 645.5 78.8 645.6 77.4C645.8 75.9 645.7 76.6 645.9 75.2C646.1 73.7 646.0 74.4 646.1 73.0C646.3 71.5 646.3 72.2 646.2 70.8C646.2 69.4 646.3 70.1 646.1 68.7C645.9 67.4 646.0 68.1 645.6 66.8C645.2 65.5 645.4 66.1 644.8 64.9C644.2 63.7 644.5 64.3 643.7 63.2C642.9 62.0 643.3 62.6 642.4 61.5C641.4 60.4 641.9 60.9 640.9 59.8C639.9 58.8 639.8 58.8 639.3 58.2"/><path d="M637.0 124.0C636.5 123.6 636.5 123.6 635.5 122.9C634.5 122.3 635.0 122.6 633.9 122.0C632.9 121.4 633.4 121.7 632.3 121.2C631.1 120.8 631.7 121.0 630.5 120.7C629.3 120.4 629.9 120.5 628.6 120.3C627.3 120.1 628.0 120.3 626.7 120.1C625.4 119.9 626.0 120.1 624.8 119.9C623.5 119.6 624.1 119.9 622.9 119.5C621.8 119.0 622.3 119.2 621.3 118.5C620.3 117.8 620.8 118.2 619.9 117.4C619.0 116.5 619.4 116.9 618.6 116.0C617.7 115.0 618.1 115.4 617.3 114.4C616.5 113.3 616.9 113.8 616.1 112.8C615.2 111.7 615.7 112.2 614.8 111.2C614.0 110.2 614.4 110.7 613.5 109.8C612.6 108.9 613.1 109.3 612.0 108.6C611.0 107.9 611.6 108.2 610.5 107.7C609.4 107.2 609.9 107.4 608.7 107.1C607.5 106.7 608.2 106.9 606.9 106.7C605.6 106.5 606.2 106.6 604.9 106.5C603.6 106.4 604.3 106.5 602.9 106.4C601.6 106.4 602.2 106.5 600.9 106.4C599.6 106.3 600.2 106.4 598.9 106.2C597.6 106.1 597.7 106.0 597.0 105.9"/></g>
<path d="M687.0 147.0C693.3 146.8 691.6 146.5 700.8 150.5C710.0 154.5 704.3 157.8 714.6 159.0C724.9 160.2 720.3 160.3 731.8 154.0C743.3 147.7 739.8 152.0 749.0 140.0C758.2 128.0 756.4 130.6 759.3 118.0C762.2 105.4 763.4 111.6 757.6 102.3C751.8 93.0 750.6 98.8 742.0 90.0C733.4 81.2 738.6 83.8 731.8 76.0C725.0 68.2 729.5 69.8 721.5 66.5C713.5 63.2 715.7 62.7 707.7 66.0C699.7 69.3 704.3 74.2 697.4 76.5C690.5 78.8 693.9 73.6 687.0 73.0C680.1 72.4 687.0 76.2 676.7 74.7C666.4 73.2 668.6 69.6 656.0 68.5C643.4 67.4 649.1 66.9 638.8 71.3C628.5 75.7 631.9 72.4 625.0 81.6C618.1 90.8 619.1 86.2 618.0 98.8C616.9 111.4 621.6 106.9 621.6 119.5C621.6 132.1 618.7 125.9 618.0 136.7C617.3 147.5 621.8 141.7 619.6 152.0C617.4 162.3 613.1 156.7 611.5 167.7C609.9 178.7 609.0 174.7 614.7 185.0C620.4 195.3 619.3 191.4 628.5 198.7C637.7 206.0 634.3 205.2 642.3 207.0C650.3 208.8 644.6 202.5 652.6 204.2C660.6 205.9 657.3 211.5 666.4 212.0C675.5 212.5 672.0 212.3 680.0 205.6C688.0 198.9 684.2 202.1 690.5 191.8C696.8 181.5 696.7 183.8 699.0 174.6C701.3 165.4 701.1 169.7 697.4 164.2C693.7 158.7 693.1 162.4 688.0 158.0C682.9 153.6 682.3 154.7 682.0 151.0C681.7 147.3 680.7 147.2 687.0 147.0Z" fill="url(#gMG)" stroke="#4fa548" stroke-width="1"/>
<clipPath id="cMG"><path d="M687.0 147.0C693.3 146.8 691.6 146.5 700.8 150.5C710.0 154.5 704.3 157.8 714.6 159.0C724.9 160.2 720.3 160.3 731.8 154.0C743.3 147.7 739.8 152.0 749.0 140.0C758.2 128.0 756.4 130.6 759.3 118.0C762.2 105.4 763.4 111.6 757.6 102.3C751.8 93.0 750.6 98.8 742.0 90.0C733.4 81.2 738.6 83.8 731.8 76.0C725.0 68.2 729.5 69.8 721.5 66.5C713.5 63.2 715.7 62.7 707.7 66.0C699.7 69.3 704.3 74.2 697.4 76.5C690.5 78.8 693.9 73.6 687.0 73.0C680.1 72.4 687.0 76.2 676.7 74.7C666.4 73.2 668.6 69.6 656.0 68.5C643.4 67.4 649.1 66.9 638.8 71.3C628.5 75.7 631.9 72.4 625.0 81.6C618.1 90.8 619.1 86.2 618.0 98.8C616.9 111.4 621.6 106.9 621.6 119.5C621.6 132.1 618.7 125.9 618.0 136.7C617.3 147.5 621.8 141.7 619.6 152.0C617.4 162.3 613.1 156.7 611.5 167.7C609.9 178.7 609.0 174.7 614.7 185.0C620.4 195.3 619.3 191.4 628.5 198.7C637.7 206.0 634.3 205.2 642.3 207.0C650.3 208.8 644.6 202.5 652.6 204.2C660.6 205.9 657.3 211.5 666.4 212.0C675.5 212.5 672.0 212.3 680.0 205.6C688.0 198.9 684.2 202.1 690.5 191.8C696.8 181.5 696.7 183.8 699.0 174.6C701.3 165.4 701.1 169.7 697.4 164.2C693.7 158.7 693.1 162.4 688.0 158.0C682.9 153.6 682.3 154.7 682.0 151.0C681.7 147.3 680.7 147.2 687.0 147.0Z"/></clipPath>
<g clip-path="url(#cMG)"><g filter="url(#fBlur3)"><path d="M612 160Q640 150 660 165Q690 185 700 170L700 215L610 215Z" fill="#4ea148" opacity="0.45"/><path d="M700 152Q730 160 760 120L765 160L700 170Z" fill="#4ea148" opacity="0.5"/><ellipse cx="715" cy="105" rx="28" ry="22" fill="#93d486" opacity="0.55"/><ellipse cx="655" cy="175" rx="18" ry="16" fill="#8fd182" opacity="0.45"/><path d="M628 150Q650 130 690 140" stroke="#93d486" stroke-width="10" fill="none" opacity="0.5"/></g><rect x="600" y="55" width="170" height="165" fill="#fff" opacity="0.16" filter="url(#fTex)"/></g>
<g clip-path="url(#cMG)" fill="none" stroke="#4f9f49" stroke-width="3.4" stroke-linecap="round" opacity="0.75"><path d="M676.0 90.0C676.0 89.3 676.0 89.3 676.0 88.0C676.0 86.7 676.0 87.4 676.1 86.0C676.2 84.7 676.2 85.4 676.2 84.1C676.3 82.7 676.3 83.4 676.2 82.1C676.2 80.8 676.3 81.4 676.1 80.1C675.8 78.8 676.0 79.5 675.6 78.2C675.2 76.9 675.4 77.6 674.8 76.3C674.2 75.1 674.5 75.7 673.8 74.5C673.1 73.3 673.4 73.9 672.7 72.7C672.0 71.4 672.3 72.1 671.7 70.8C671.1 69.6 671.4 70.2 670.9 68.9C670.5 67.7 670.7 68.3 670.4 67.0C670.2 65.7 670.3 66.4 670.2 65.1C670.2 63.8 670.2 64.4 670.3 63.1C670.4 61.8 670.4 62.4 670.6 61.1C670.9 59.7 670.8 60.4 671.1 59.0C671.5 57.7 671.3 58.4 671.8 57.0C672.2 55.6 672.0 56.3 672.4 54.9C672.7 53.6 672.6 54.3 672.9 52.9C673.2 51.5 673.1 52.2 673.2 50.9C673.3 49.6 673.3 50.2 673.3 48.9C673.2 47.6 673.3 48.2 673.1 47.0C672.8 45.7 673.0 46.3 672.5 45.0C672.1 43.8 672.0 43.8 671.8 43.2"/><path d="M666.4 99.0C666.3 98.2 666.4 98.2 666.2 96.6C666.0 95.0 666.1 95.8 665.8 94.2C665.5 92.7 665.7 93.4 665.3 91.9C664.8 90.4 665.1 91.2 664.4 89.7C663.7 88.2 664.1 88.9 663.3 87.5C662.5 86.1 662.9 86.8 662.0 85.4C661.1 83.9 661.5 84.7 660.6 83.2C659.7 81.8 660.0 82.6 659.3 81.1C658.7 79.6 659.0 80.4 658.7 78.8C658.3 77.2 658.5 78.0 658.4 76.4C658.3 74.8 658.3 75.6 658.4 74.0C658.5 72.3 658.4 73.1 658.7 71.4C658.9 69.8 658.8 70.6 659.1 68.9C659.4 67.2 659.3 68.0 659.5 66.3C659.8 64.7 659.7 65.5 659.8 63.8C659.9 62.2 659.9 63.0 659.9 61.4C659.8 59.7 659.9 60.5 659.6 59.0C659.3 57.4 659.5 58.2 659.0 56.7C658.5 55.2 658.8 55.9 658.0 54.4C657.3 53.0 657.7 53.7 656.8 52.3C655.8 50.9 656.3 51.6 655.3 50.2C654.3 48.8 654.8 49.5 653.7 48.1C652.7 46.7 653.2 47.4 652.2 46.0C651.3 44.6 651.4 44.6 650.9 43.9"/><path d="M664.0 102.0C663.7 101.2 663.6 101.2 663.0 99.6C662.3 97.9 662.7 98.7 662.1 97.0C661.6 95.3 661.9 96.2 661.3 94.5C660.8 92.8 661.1 93.6 660.5 91.9C659.9 90.3 660.2 91.1 659.5 89.5C658.7 88.0 659.1 88.7 658.1 87.3C657.1 85.8 657.6 86.5 656.4 85.2C655.2 83.8 655.8 84.5 654.4 83.3C653.0 82.0 653.6 82.7 652.2 81.4C650.8 80.2 651.4 80.8 650.2 79.5C648.9 78.2 649.4 78.9 648.3 77.5C647.2 76.1 647.7 76.8 646.9 75.3C646.0 73.7 646.4 74.5 645.7 72.9C645.1 71.2 645.3 72.1 644.9 70.3C644.5 68.6 644.7 69.5 644.4 67.6C644.1 65.8 644.3 66.7 644.1 64.8C643.9 63.0 644.0 63.9 643.9 62.0C643.7 60.1 643.8 61.0 643.6 59.2C643.3 57.3 643.5 58.2 643.1 56.4C642.7 54.7 643.0 55.5 642.4 53.9C641.8 52.2 642.1 53.0 641.3 51.5C640.5 49.9 640.9 50.7 639.9 49.2C638.8 47.8 639.4 48.5 638.1 47.2C636.9 45.8 636.8 45.9 636.1 45.2"/><path d="M657.0 100.0C656.9 99.3 656.9 99.3 656.6 98.0C656.3 96.6 656.5 97.3 656.0 96.0C655.6 94.7 655.8 95.3 655.3 94.1C654.7 92.8 655.0 93.4 654.4 92.2C653.8 90.9 654.1 91.5 653.5 90.3C652.8 89.0 653.1 89.6 652.5 88.4C652.0 87.1 652.2 87.7 651.8 86.4C651.3 85.1 651.4 85.8 651.2 84.5C651.0 83.1 651.1 83.8 651.1 82.4C651.1 81.0 651.1 81.7 651.2 80.2C651.3 78.8 651.3 79.5 651.4 78.1C651.6 76.6 651.5 77.3 651.7 75.9C651.9 74.5 651.8 75.2 652.0 73.7C652.1 72.3 652.1 73.0 652.1 71.6C652.2 70.2 652.2 70.9 652.1 69.5C652.1 68.1 652.1 68.8 651.9 67.4C651.7 66.1 651.9 66.7 651.5 65.4C651.2 64.1 651.4 64.7 650.9 63.4C650.4 62.1 650.7 62.8 650.1 61.5C649.4 60.3 649.8 60.9 649.0 59.6C648.3 58.4 648.7 59.0 647.9 57.8C647.1 56.6 647.5 57.2 646.7 56.0C645.9 54.7 646.3 55.3 645.5 54.1C644.8 52.9 644.8 52.9 644.5 52.3"/><path d="M652.0 102.0C651.7 101.3 651.7 101.3 651.0 99.9C650.2 98.6 650.6 99.2 649.7 98.0C648.8 96.7 649.3 97.3 648.3 96.2C647.2 95.0 647.8 95.6 646.6 94.5C645.4 93.4 646.0 94.0 644.7 93.0C643.5 91.9 644.0 92.5 642.8 91.4C641.6 90.4 642.1 91.0 641.0 89.9C639.9 88.7 640.3 89.4 639.5 88.1C638.7 86.8 639.1 87.4 638.6 85.9C638.1 84.4 638.3 85.2 638.0 83.6C637.6 82.0 637.8 82.8 637.5 81.1C637.3 79.4 637.4 80.2 637.2 78.6C636.9 76.9 637.1 77.7 636.8 76.1C636.5 74.4 636.7 75.2 636.3 73.6C635.8 72.1 636.1 72.8 635.5 71.4C634.9 70.0 635.2 70.7 634.4 69.4C633.5 68.1 634.0 68.7 632.9 67.5C631.9 66.4 632.4 66.9 631.2 65.9C630.0 64.9 630.6 65.4 629.2 64.5C627.8 63.5 628.5 64.0 627.1 63.1C625.6 62.2 626.3 62.7 624.9 61.8C623.5 60.8 624.1 61.3 622.8 60.3C621.5 59.4 622.1 59.9 620.9 58.8C619.8 57.7 619.9 57.7 619.3 57.1"/><path d="M649.5 112.0C648.9 111.3 648.9 111.3 647.7 109.8C646.6 108.4 647.2 109.1 646.0 107.6C644.9 106.2 645.5 106.8 644.2 105.5C643.0 104.1 643.7 104.8 642.2 103.6C640.8 102.4 641.6 102.9 640.0 101.9C638.4 101.0 639.2 101.4 637.4 100.6C635.7 99.8 636.5 100.2 634.7 99.5C632.8 98.8 633.6 99.3 631.9 98.4C630.1 97.6 630.9 98.1 629.4 97.0C627.8 96.0 628.5 96.6 627.2 95.3C625.9 94.0 626.5 94.7 625.4 93.2C624.3 91.7 624.8 92.5 623.9 90.8C622.9 89.1 623.4 89.9 622.6 88.1C621.8 86.3 622.2 87.2 621.4 85.3C620.6 83.4 621.1 84.3 620.2 82.5C619.4 80.7 619.9 81.5 618.9 79.9C618.0 78.2 618.5 79.0 617.4 77.5C616.3 76.0 616.9 76.7 615.6 75.4C614.2 74.1 614.9 74.7 613.4 73.7C611.8 72.7 612.6 73.1 610.9 72.3C609.1 71.5 610.0 71.9 608.1 71.2C606.3 70.4 607.2 70.8 605.3 70.1C603.4 69.5 604.3 69.8 602.4 69.1C600.6 68.4 600.6 68.4 599.7 68.0"/><path d="M646.0 108.0C645.5 107.5 645.5 107.5 644.4 106.6C643.4 105.7 643.9 106.1 642.8 105.3C641.7 104.4 642.2 104.9 641.1 104.0C639.9 103.2 640.5 103.6 639.4 102.7C638.3 101.8 638.8 102.3 637.8 101.3C636.8 100.3 637.3 100.9 636.4 99.7C635.6 98.6 636.0 99.2 635.3 97.9C634.6 96.7 634.9 97.3 634.4 95.9C633.8 94.6 634.1 95.2 633.6 93.8C633.1 92.4 633.4 93.1 632.8 91.7C632.2 90.3 632.5 91.0 631.9 89.7C631.2 88.4 631.6 89.0 630.8 87.9C630.0 86.7 630.4 87.2 629.5 86.2C628.6 85.2 629.1 85.6 628.0 84.7C626.9 83.8 627.5 84.3 626.3 83.5C625.1 82.7 625.7 83.1 624.4 82.4C623.1 81.7 623.7 82.0 622.4 81.4C621.0 80.7 621.7 81.1 620.3 80.4C618.9 79.8 619.6 80.1 618.3 79.5C616.9 78.8 617.6 79.2 616.3 78.4C615.1 77.7 615.7 78.1 614.5 77.2C613.4 76.4 613.9 76.8 612.9 75.8C611.9 74.8 612.4 75.4 611.6 74.3C610.7 73.1 610.8 73.1 610.4 72.5"/><path d="M640.0 118.0C639.4 117.6 639.4 117.5 638.2 116.8C636.9 116.1 637.6 116.4 636.2 115.9C634.9 115.3 635.6 115.6 634.2 115.1C632.7 114.7 633.4 114.9 632.0 114.5C630.5 114.2 631.2 114.4 629.8 114.0C628.4 113.6 629.0 113.9 627.7 113.3C626.3 112.8 627.0 113.2 625.7 112.4C624.5 111.7 625.0 112.2 624.0 111.1C622.9 110.1 623.4 110.6 622.5 109.3C621.6 108.0 622.1 108.7 621.2 107.3C620.3 106.0 620.8 106.6 619.9 105.3C619.0 103.9 619.5 104.5 618.5 103.3C617.6 102.1 618.1 102.6 617.1 101.6C616.0 100.5 616.6 101.0 615.4 100.1C614.3 99.2 614.9 99.6 613.6 98.9C612.3 98.3 613.0 98.6 611.5 98.1C610.1 97.7 610.8 97.9 609.3 97.6C607.8 97.4 608.6 97.5 607.0 97.4C605.4 97.2 606.2 97.3 604.6 97.2C602.9 97.1 603.7 97.2 602.1 97.0C600.6 96.9 601.3 97.0 599.8 96.7C598.3 96.4 599.0 96.6 597.6 96.1C596.2 95.7 596.9 96.0 595.6 95.3C594.4 94.6 594.4 94.5 593.8 94.1"/><path d="M634.0 120.0C633.4 119.6 633.4 119.6 632.2 118.9C631.0 118.1 631.7 118.5 630.4 117.8C629.2 117.1 629.9 117.4 628.6 116.8C627.3 116.3 628.0 116.5 626.6 116.1C625.3 115.8 626.0 115.9 624.5 115.8C623.1 115.7 623.8 115.7 622.3 115.8C620.8 115.8 621.6 115.8 620.0 115.9C618.5 116.0 619.2 116.2 617.7 116.1C616.3 116.0 617.0 116.1 615.6 115.7C614.3 115.3 614.9 115.6 613.7 114.9C612.5 114.3 613.1 114.6 612.0 113.7C610.9 112.8 611.4 113.3 610.4 112.2C609.4 111.0 609.9 111.6 608.9 110.4C607.9 109.1 608.4 109.7 607.4 108.5C606.4 107.3 606.9 107.8 605.9 106.7C604.9 105.6 605.4 106.1 604.3 105.2C603.2 104.3 603.8 104.7 602.5 104.0C601.3 103.4 601.9 103.6 600.6 103.3C599.3 102.9 600.0 103.0 598.5 102.9C597.1 102.8 597.8 102.8 596.3 102.9C594.8 103.0 595.5 103.0 594.0 103.1C592.4 103.3 593.2 103.3 591.6 103.5C590.0 103.6 590.8 103.6 589.3 103.7C587.8 103.7 587.8 103.6 587.0 103.6"/><path d="M632.0 128.0C631.3 127.8 631.3 127.9 629.8 127.4C628.4 126.9 629.1 127.2 627.6 126.6C626.2 126.1 626.9 126.3 625.5 125.8C624.0 125.3 624.8 125.5 623.3 125.1C621.8 124.8 622.6 124.9 621.1 124.8C619.6 124.6 620.3 124.6 618.8 124.8C617.2 124.9 618.0 124.8 616.4 125.2C614.8 125.6 615.6 125.5 614.0 126.0C612.4 126.4 613.2 126.3 611.6 126.6C610.0 127.0 610.8 126.9 609.2 127.0C607.7 127.1 608.5 127.1 607.0 127.0C605.5 126.8 606.2 126.9 604.7 126.5C603.3 126.0 604.0 126.3 602.6 125.6C601.2 124.8 601.9 125.2 600.5 124.3C599.1 123.4 599.8 123.8 598.5 122.8C597.1 121.8 597.8 122.3 596.4 121.3C595.0 120.4 595.7 120.8 594.3 119.9C592.9 119.1 593.7 119.4 592.2 118.9C590.8 118.3 591.5 118.5 590.0 118.2C588.6 117.9 589.3 117.9 587.8 117.9C586.3 117.9 587.0 117.9 585.5 118.1C583.9 118.3 584.7 118.2 583.1 118.6C581.5 119.1 582.3 118.9 580.7 119.4C579.1 119.9 579.1 119.9 578.3 120.2"/><path d="M630.0 134.0C629.2 133.8 629.3 133.8 627.7 133.5C626.2 133.3 627.0 133.4 625.4 133.3C623.9 133.3 624.6 133.3 623.1 133.4C621.5 133.4 622.3 133.4 620.7 133.6C619.1 133.8 619.9 133.7 618.3 133.9C616.7 134.1 617.5 134.1 616.0 134.2C614.4 134.2 615.2 134.3 613.6 134.2C612.1 134.0 612.8 134.2 611.3 133.8C609.8 133.3 610.6 133.5 609.1 132.7C607.7 132.0 608.4 132.3 606.9 131.5C605.5 130.6 606.2 131.0 604.8 130.2C603.3 129.4 604.1 129.7 602.6 129.0C601.1 128.3 601.9 128.5 600.4 128.0C598.9 127.5 599.6 127.7 598.1 127.4C596.6 127.1 597.4 127.2 595.8 127.1C594.3 127.1 595.0 127.1 593.5 127.2C591.9 127.4 592.7 127.3 591.1 127.7C589.5 128.1 590.3 127.9 588.7 128.3C587.0 128.8 587.8 128.6 586.2 129.1C584.6 129.5 585.4 129.3 583.8 129.7C582.2 130.0 583.0 129.9 581.4 130.1C579.8 130.2 580.6 130.2 579.1 130.1C577.5 130.0 578.3 130.1 576.8 129.8C575.3 129.5 575.3 129.3 574.5 129.1"/><path d="M628.0 131.0C627.4 130.7 627.5 130.7 626.3 130.1C625.2 129.4 625.8 129.7 624.7 129.1C623.5 128.6 624.1 128.8 622.9 128.4C621.8 127.9 622.4 128.1 621.1 127.8C619.9 127.5 620.5 127.6 619.2 127.4C618.0 127.3 618.6 127.3 617.3 127.3C615.9 127.2 616.6 127.3 615.3 127.2C613.9 127.2 614.5 127.4 613.2 127.2C611.9 127.1 612.6 127.2 611.4 126.8C610.1 126.5 610.7 126.7 609.6 126.2C608.4 125.6 609.0 125.9 607.9 125.2C606.8 124.5 607.4 124.9 606.3 124.0C605.3 123.2 605.8 123.6 604.8 122.7C603.8 121.8 604.3 122.2 603.4 121.3C602.4 120.3 602.9 120.8 601.9 119.9C600.9 119.0 601.4 119.4 600.4 118.6C599.3 117.8 599.9 118.1 598.8 117.4C597.7 116.8 598.2 117.1 597.1 116.6C595.9 116.1 596.5 116.3 595.3 116.0C594.0 115.7 594.7 115.8 593.4 115.7C592.1 115.5 592.7 115.6 591.4 115.5C590.1 115.5 590.7 115.5 589.4 115.5C588.0 115.6 588.7 115.6 587.3 115.6C585.9 115.6 585.9 115.6 585.3 115.6"/><path d="M624.0 141.0C623.5 141.1 623.5 141.1 622.4 141.3C621.3 141.4 621.9 141.3 620.8 141.5C619.7 141.6 620.2 141.5 619.1 141.7C618.1 141.9 618.6 141.7 617.6 142.0C616.5 142.3 617.0 142.1 616.0 142.5C615.1 143.0 615.5 142.7 614.7 143.4C613.8 144.0 614.2 143.7 613.4 144.5C612.5 145.4 613.0 145.0 612.2 145.9C611.4 146.8 611.8 146.4 611.0 147.3C610.2 148.2 610.6 147.8 609.7 148.5C608.9 149.3 609.3 149.0 608.4 149.5C607.5 150.1 608.0 149.9 607.0 150.3C606.0 150.7 606.5 150.5 605.4 150.7C604.4 150.9 604.9 150.8 603.8 150.8C602.6 150.9 603.2 150.9 602.0 150.7C600.8 150.6 601.4 150.7 600.2 150.5C599.0 150.3 599.6 150.4 598.4 150.2C597.2 149.9 597.8 150.0 596.6 149.8C595.4 149.7 596.0 149.7 594.8 149.7C593.7 149.6 594.2 149.6 593.1 149.7C592.0 149.8 592.6 149.7 591.5 150.0C590.5 150.3 591.0 150.1 590.1 150.6C589.1 151.1 589.6 150.9 588.7 151.5C587.8 152.2 587.8 152.3 587.4 152.7"/><path d="M622.0 154.0C621.6 154.1 621.6 154.1 620.8 154.4C620.0 154.7 620.3 154.5 619.6 154.9C618.8 155.3 619.2 155.1 618.5 155.6C617.8 156.1 618.2 155.8 617.6 156.5C616.9 157.1 617.2 156.8 616.7 157.5C616.1 158.3 616.4 157.9 615.9 158.7C615.4 159.5 615.6 159.1 615.1 159.9C614.6 160.7 614.9 160.5 614.3 161.1C613.7 161.7 614.0 161.4 613.2 161.8C612.5 162.2 612.9 162.0 612.1 162.3C611.2 162.5 611.7 162.4 610.8 162.6C609.9 162.7 610.3 162.6 609.4 162.7C608.4 162.7 608.9 162.7 607.9 162.6C606.9 162.6 607.4 162.6 606.4 162.5C605.4 162.5 605.9 162.5 604.9 162.5C603.9 162.4 604.4 162.4 603.4 162.4C602.5 162.5 603.0 162.4 602.1 162.5C601.2 162.7 601.6 162.6 600.8 162.8C600.0 163.1 600.3 162.9 599.6 163.4C598.9 163.8 599.2 163.5 598.6 164.1C597.9 164.7 598.2 164.4 597.6 165.0C597.0 165.7 597.3 165.4 596.8 166.2C596.3 167.0 596.5 166.6 596.0 167.4C595.5 168.3 595.6 168.3 595.3 168.7"/></g>
<g clip-path="url(#cMG)" fill="none" stroke="#86cf7b" stroke-width="2.2" stroke-linecap="round"><path d="M676.0 90.0C676.0 89.3 676.0 89.3 676.0 88.0C676.0 86.7 676.0 87.4 676.1 86.0C676.2 84.7 676.2 85.4 676.2 84.1C676.3 82.7 676.3 83.4 676.2 82.1C676.2 80.8 676.3 81.4 676.1 80.1C675.8 78.8 676.0 79.5 675.6 78.2C675.2 76.9 675.4 77.6 674.8 76.3C674.2 75.1 674.5 75.7 673.8 74.5C673.1 73.3 673.4 73.9 672.7 72.7C672.0 71.4 672.3 72.1 671.7 70.8C671.1 69.6 671.4 70.2 670.9 68.9C670.5 67.7 670.7 68.3 670.4 67.0C670.2 65.7 670.3 66.4 670.2 65.1C670.2 63.8 670.2 64.4 670.3 63.1C670.4 61.8 670.4 62.4 670.6 61.1C670.9 59.7 670.8 60.4 671.1 59.0C671.5 57.7 671.3 58.4 671.8 57.0C672.2 55.6 672.0 56.3 672.4 54.9C672.7 53.6 672.6 54.3 672.9 52.9C673.2 51.5 673.1 52.2 673.2 50.9C673.3 49.6 673.3 50.2 673.3 48.9C673.2 47.6 673.3 48.2 673.1 47.0C672.8 45.7 673.0 46.3 672.5 45.0C672.1 43.8 672.0 43.8 671.8 43.2"/><path d="M666.4 99.0C666.3 98.2 666.4 98.2 666.2 96.6C666.0 95.0 666.1 95.8 665.8 94.2C665.5 92.7 665.7 93.4 665.3 91.9C664.8 90.4 665.1 91.2 664.4 89.7C663.7 88.2 664.1 88.9 663.3 87.5C662.5 86.1 662.9 86.8 662.0 85.4C661.1 83.9 661.5 84.7 660.6 83.2C659.7 81.8 660.0 82.6 659.3 81.1C658.7 79.6 659.0 80.4 658.7 78.8C658.3 77.2 658.5 78.0 658.4 76.4C658.3 74.8 658.3 75.6 658.4 74.0C658.5 72.3 658.4 73.1 658.7 71.4C658.9 69.8 658.8 70.6 659.1 68.9C659.4 67.2 659.3 68.0 659.5 66.3C659.8 64.7 659.7 65.5 659.8 63.8C659.9 62.2 659.9 63.0 659.9 61.4C659.8 59.7 659.9 60.5 659.6 59.0C659.3 57.4 659.5 58.2 659.0 56.7C658.5 55.2 658.8 55.9 658.0 54.4C657.3 53.0 657.7 53.7 656.8 52.3C655.8 50.9 656.3 51.6 655.3 50.2C654.3 48.8 654.8 49.5 653.7 48.1C652.7 46.7 653.2 47.4 652.2 46.0C651.3 44.6 651.4 44.6 650.9 43.9"/><path d="M664.0 102.0C663.7 101.2 663.6 101.2 663.0 99.6C662.3 97.9 662.7 98.7 662.1 97.0C661.6 95.3 661.9 96.2 661.3 94.5C660.8 92.8 661.1 93.6 660.5 91.9C659.9 90.3 660.2 91.1 659.5 89.5C658.7 88.0 659.1 88.7 658.1 87.3C657.1 85.8 657.6 86.5 656.4 85.2C655.2 83.8 655.8 84.5 654.4 83.3C653.0 82.0 653.6 82.7 652.2 81.4C650.8 80.2 651.4 80.8 650.2 79.5C648.9 78.2 649.4 78.9 648.3 77.5C647.2 76.1 647.7 76.8 646.9 75.3C646.0 73.7 646.4 74.5 645.7 72.9C645.1 71.2 645.3 72.1 644.9 70.3C644.5 68.6 644.7 69.5 644.4 67.6C644.1 65.8 644.3 66.7 644.1 64.8C643.9 63.0 644.0 63.9 643.9 62.0C643.7 60.1 643.8 61.0 643.6 59.2C643.3 57.3 643.5 58.2 643.1 56.4C642.7 54.7 643.0 55.5 642.4 53.9C641.8 52.2 642.1 53.0 641.3 51.5C640.5 49.9 640.9 50.7 639.9 49.2C638.8 47.8 639.4 48.5 638.1 47.2C636.9 45.8 636.8 45.9 636.1 45.2"/><path d="M657.0 100.0C656.9 99.3 656.9 99.3 656.6 98.0C656.3 96.6 656.5 97.3 656.0 96.0C655.6 94.7 655.8 95.3 655.3 94.1C654.7 92.8 655.0 93.4 654.4 92.2C653.8 90.9 654.1 91.5 653.5 90.3C652.8 89.0 653.1 89.6 652.5 88.4C652.0 87.1 652.2 87.7 651.8 86.4C651.3 85.1 651.4 85.8 651.2 84.5C651.0 83.1 651.1 83.8 651.1 82.4C651.1 81.0 651.1 81.7 651.2 80.2C651.3 78.8 651.3 79.5 651.4 78.1C651.6 76.6 651.5 77.3 651.7 75.9C651.9 74.5 651.8 75.2 652.0 73.7C652.1 72.3 652.1 73.0 652.1 71.6C652.2 70.2 652.2 70.9 652.1 69.5C652.1 68.1 652.1 68.8 651.9 67.4C651.7 66.1 651.9 66.7 651.5 65.4C651.2 64.1 651.4 64.7 650.9 63.4C650.4 62.1 650.7 62.8 650.1 61.5C649.4 60.3 649.8 60.9 649.0 59.6C648.3 58.4 648.7 59.0 647.9 57.8C647.1 56.6 647.5 57.2 646.7 56.0C645.9 54.7 646.3 55.3 645.5 54.1C644.8 52.9 644.8 52.9 644.5 52.3"/><path d="M652.0 102.0C651.7 101.3 651.7 101.3 651.0 99.9C650.2 98.6 650.6 99.2 649.7 98.0C648.8 96.7 649.3 97.3 648.3 96.2C647.2 95.0 647.8 95.6 646.6 94.5C645.4 93.4 646.0 94.0 644.7 93.0C643.5 91.9 644.0 92.5 642.8 91.4C641.6 90.4 642.1 91.0 641.0 89.9C639.9 88.7 640.3 89.4 639.5 88.1C638.7 86.8 639.1 87.4 638.6 85.9C638.1 84.4 638.3 85.2 638.0 83.6C637.6 82.0 637.8 82.8 637.5 81.1C637.3 79.4 637.4 80.2 637.2 78.6C636.9 76.9 637.1 77.7 636.8 76.1C636.5 74.4 636.7 75.2 636.3 73.6C635.8 72.1 636.1 72.8 635.5 71.4C634.9 70.0 635.2 70.7 634.4 69.4C633.5 68.1 634.0 68.7 632.9 67.5C631.9 66.4 632.4 66.9 631.2 65.9C630.0 64.9 630.6 65.4 629.2 64.5C627.8 63.5 628.5 64.0 627.1 63.1C625.6 62.2 626.3 62.7 624.9 61.8C623.5 60.8 624.1 61.3 622.8 60.3C621.5 59.4 622.1 59.9 620.9 58.8C619.8 57.7 619.9 57.7 619.3 57.1"/><path d="M649.5 112.0C648.9 111.3 648.9 111.3 647.7 109.8C646.6 108.4 647.2 109.1 646.0 107.6C644.9 106.2 645.5 106.8 644.2 105.5C643.0 104.1 643.7 104.8 642.2 103.6C640.8 102.4 641.6 102.9 640.0 101.9C638.4 101.0 639.2 101.4 637.4 100.6C635.7 99.8 636.5 100.2 634.7 99.5C632.8 98.8 633.6 99.3 631.9 98.4C630.1 97.6 630.9 98.1 629.4 97.0C627.8 96.0 628.5 96.6 627.2 95.3C625.9 94.0 626.5 94.7 625.4 93.2C624.3 91.7 624.8 92.5 623.9 90.8C622.9 89.1 623.4 89.9 622.6 88.1C621.8 86.3 622.2 87.2 621.4 85.3C620.6 83.4 621.1 84.3 620.2 82.5C619.4 80.7 619.9 81.5 618.9 79.9C618.0 78.2 618.5 79.0 617.4 77.5C616.3 76.0 616.9 76.7 615.6 75.4C614.2 74.1 614.9 74.7 613.4 73.7C611.8 72.7 612.6 73.1 610.9 72.3C609.1 71.5 610.0 71.9 608.1 71.2C606.3 70.4 607.2 70.8 605.3 70.1C603.4 69.5 604.3 69.8 602.4 69.1C600.6 68.4 600.6 68.4 599.7 68.0"/><path d="M646.0 108.0C645.5 107.5 645.5 107.5 644.4 106.6C643.4 105.7 643.9 106.1 642.8 105.3C641.7 104.4 642.2 104.9 641.1 104.0C639.9 103.2 640.5 103.6 639.4 102.7C638.3 101.8 638.8 102.3 637.8 101.3C636.8 100.3 637.3 100.9 636.4 99.7C635.6 98.6 636.0 99.2 635.3 97.9C634.6 96.7 634.9 97.3 634.4 95.9C633.8 94.6 634.1 95.2 633.6 93.8C633.1 92.4 633.4 93.1 632.8 91.7C632.2 90.3 632.5 91.0 631.9 89.7C631.2 88.4 631.6 89.0 630.8 87.9C630.0 86.7 630.4 87.2 629.5 86.2C628.6 85.2 629.1 85.6 628.0 84.7C626.9 83.8 627.5 84.3 626.3 83.5C625.1 82.7 625.7 83.1 624.4 82.4C623.1 81.7 623.7 82.0 622.4 81.4C621.0 80.7 621.7 81.1 620.3 80.4C618.9 79.8 619.6 80.1 618.3 79.5C616.9 78.8 617.6 79.2 616.3 78.4C615.1 77.7 615.7 78.1 614.5 77.2C613.4 76.4 613.9 76.8 612.9 75.8C611.9 74.8 612.4 75.4 611.6 74.3C610.7 73.1 610.8 73.1 610.4 72.5"/><path d="M640.0 118.0C639.4 117.6 639.4 117.5 638.2 116.8C636.9 116.1 637.6 116.4 636.2 115.9C634.9 115.3 635.6 115.6 634.2 115.1C632.7 114.7 633.4 114.9 632.0 114.5C630.5 114.2 631.2 114.4 629.8 114.0C628.4 113.6 629.0 113.9 627.7 113.3C626.3 112.8 627.0 113.2 625.7 112.4C624.5 111.7 625.0 112.2 624.0 111.1C622.9 110.1 623.4 110.6 622.5 109.3C621.6 108.0 622.1 108.7 621.2 107.3C620.3 106.0 620.8 106.6 619.9 105.3C619.0 103.9 619.5 104.5 618.5 103.3C617.6 102.1 618.1 102.6 617.1 101.6C616.0 100.5 616.6 101.0 615.4 100.1C614.3 99.2 614.9 99.6 613.6 98.9C612.3 98.3 613.0 98.6 611.5 98.1C610.1 97.7 610.8 97.9 609.3 97.6C607.8 97.4 608.6 97.5 607.0 97.4C605.4 97.2 606.2 97.3 604.6 97.2C602.9 97.1 603.7 97.2 602.1 97.0C600.6 96.9 601.3 97.0 599.8 96.7C598.3 96.4 599.0 96.6 597.6 96.1C596.2 95.7 596.9 96.0 595.6 95.3C594.4 94.6 594.4 94.5 593.8 94.1"/><path d="M634.0 120.0C633.4 119.6 633.4 119.6 632.2 118.9C631.0 118.1 631.7 118.5 630.4 117.8C629.2 117.1 629.9 117.4 628.6 116.8C627.3 116.3 628.0 116.5 626.6 116.1C625.3 115.8 626.0 115.9 624.5 115.8C623.1 115.7 623.8 115.7 622.3 115.8C620.8 115.8 621.6 115.8 620.0 115.9C618.5 116.0 619.2 116.2 617.7 116.1C616.3 116.0 617.0 116.1 615.6 115.7C614.3 115.3 614.9 115.6 613.7 114.9C612.5 114.3 613.1 114.6 612.0 113.7C610.9 112.8 611.4 113.3 610.4 112.2C609.4 111.0 609.9 111.6 608.9 110.4C607.9 109.1 608.4 109.7 607.4 108.5C606.4 107.3 606.9 107.8 605.9 106.7C604.9 105.6 605.4 106.1 604.3 105.2C603.2 104.3 603.8 104.7 602.5 104.0C601.3 103.4 601.9 103.6 600.6 103.3C599.3 102.9 600.0 103.0 598.5 102.9C597.1 102.8 597.8 102.8 596.3 102.9C594.8 103.0 595.5 103.0 594.0 103.1C592.4 103.3 593.2 103.3 591.6 103.5C590.0 103.6 590.8 103.6 589.3 103.7C587.8 103.7 587.8 103.6 587.0 103.6"/><path d="M632.0 128.0C631.3 127.8 631.3 127.9 629.8 127.4C628.4 126.9 629.1 127.2 627.6 126.6C626.2 126.1 626.9 126.3 625.5 125.8C624.0 125.3 624.8 125.5 623.3 125.1C621.8 124.8 622.6 124.9 621.1 124.8C619.6 124.6 620.3 124.6 618.8 124.8C617.2 124.9 618.0 124.8 616.4 125.2C614.8 125.6 615.6 125.5 614.0 126.0C612.4 126.4 613.2 126.3 611.6 126.6C610.0 127.0 610.8 126.9 609.2 127.0C607.7 127.1 608.5 127.1 607.0 127.0C605.5 126.8 606.2 126.9 604.7 126.5C603.3 126.0 604.0 126.3 602.6 125.6C601.2 124.8 601.9 125.2 600.5 124.3C599.1 123.4 599.8 123.8 598.5 122.8C597.1 121.8 597.8 122.3 596.4 121.3C595.0 120.4 595.7 120.8 594.3 119.9C592.9 119.1 593.7 119.4 592.2 118.9C590.8 118.3 591.5 118.5 590.0 118.2C588.6 117.9 589.3 117.9 587.8 117.9C586.3 117.9 587.0 117.9 585.5 118.1C583.9 118.3 584.7 118.2 583.1 118.6C581.5 119.1 582.3 118.9 580.7 119.4C579.1 119.9 579.1 119.9 578.3 120.2"/><path d="M630.0 134.0C629.2 133.8 629.3 133.8 627.7 133.5C626.2 133.3 627.0 133.4 625.4 133.3C623.9 133.3 624.6 133.3 623.1 133.4C621.5 133.4 622.3 133.4 620.7 133.6C619.1 133.8 619.9 133.7 618.3 133.9C616.7 134.1 617.5 134.1 616.0 134.2C614.4 134.2 615.2 134.3 613.6 134.2C612.1 134.0 612.8 134.2 611.3 133.8C609.8 133.3 610.6 133.5 609.1 132.7C607.7 132.0 608.4 132.3 606.9 131.5C605.5 130.6 606.2 131.0 604.8 130.2C603.3 129.4 604.1 129.7 602.6 129.0C601.1 128.3 601.9 128.5 600.4 128.0C598.9 127.5 599.6 127.7 598.1 127.4C596.6 127.1 597.4 127.2 595.8 127.1C594.3 127.1 595.0 127.1 593.5 127.2C591.9 127.4 592.7 127.3 591.1 127.7C589.5 128.1 590.3 127.9 588.7 128.3C587.0 128.8 587.8 128.6 586.2 129.1C584.6 129.5 585.4 129.3 583.8 129.7C582.2 130.0 583.0 129.9 581.4 130.1C579.8 130.2 580.6 130.2 579.1 130.1C577.5 130.0 578.3 130.1 576.8 129.8C575.3 129.5 575.3 129.3 574.5 129.1"/><path d="M628.0 131.0C627.4 130.7 627.5 130.7 626.3 130.1C625.2 129.4 625.8 129.7 624.7 129.1C623.5 128.6 624.1 128.8 622.9 128.4C621.8 127.9 622.4 128.1 621.1 127.8C619.9 127.5 620.5 127.6 619.2 127.4C618.0 127.3 618.6 127.3 617.3 127.3C615.9 127.2 616.6 127.3 615.3 127.2C613.9 127.2 614.5 127.4 613.2 127.2C611.9 127.1 612.6 127.2 611.4 126.8C610.1 126.5 610.7 126.7 609.6 126.2C608.4 125.6 609.0 125.9 607.9 125.2C606.8 124.5 607.4 124.9 606.3 124.0C605.3 123.2 605.8 123.6 604.8 122.7C603.8 121.8 604.3 122.2 603.4 121.3C602.4 120.3 602.9 120.8 601.9 119.9C600.9 119.0 601.4 119.4 600.4 118.6C599.3 117.8 599.9 118.1 598.8 117.4C597.7 116.8 598.2 117.1 597.1 116.6C595.9 116.1 596.5 116.3 595.3 116.0C594.0 115.7 594.7 115.8 593.4 115.7C592.1 115.5 592.7 115.6 591.4 115.5C590.1 115.5 590.7 115.5 589.4 115.5C588.0 115.6 588.7 115.6 587.3 115.6C585.9 115.6 585.9 115.6 585.3 115.6"/><path d="M624.0 141.0C623.5 141.1 623.5 141.1 622.4 141.3C621.3 141.4 621.9 141.3 620.8 141.5C619.7 141.6 620.2 141.5 619.1 141.7C618.1 141.9 618.6 141.7 617.6 142.0C616.5 142.3 617.0 142.1 616.0 142.5C615.1 143.0 615.5 142.7 614.7 143.4C613.8 144.0 614.2 143.7 613.4 144.5C612.5 145.4 613.0 145.0 612.2 145.9C611.4 146.8 611.8 146.4 611.0 147.3C610.2 148.2 610.6 147.8 609.7 148.5C608.9 149.3 609.3 149.0 608.4 149.5C607.5 150.1 608.0 149.9 607.0 150.3C606.0 150.7 606.5 150.5 605.4 150.7C604.4 150.9 604.9 150.8 603.8 150.8C602.6 150.9 603.2 150.9 602.0 150.7C600.8 150.6 601.4 150.7 600.2 150.5C599.0 150.3 599.6 150.4 598.4 150.2C597.2 149.9 597.8 150.0 596.6 149.8C595.4 149.7 596.0 149.7 594.8 149.7C593.7 149.6 594.2 149.6 593.1 149.7C592.0 149.8 592.6 149.7 591.5 150.0C590.5 150.3 591.0 150.1 590.1 150.6C589.1 151.1 589.6 150.9 588.7 151.5C587.8 152.2 587.8 152.3 587.4 152.7"/><path d="M622.0 154.0C621.6 154.1 621.6 154.1 620.8 154.4C620.0 154.7 620.3 154.5 619.6 154.9C618.8 155.3 619.2 155.1 618.5 155.6C617.8 156.1 618.2 155.8 617.6 156.5C616.9 157.1 617.2 156.8 616.7 157.5C616.1 158.3 616.4 157.9 615.9 158.7C615.4 159.5 615.6 159.1 615.1 159.9C614.6 160.7 614.9 160.5 614.3 161.1C613.7 161.7 614.0 161.4 613.2 161.8C612.5 162.2 612.9 162.0 612.1 162.3C611.2 162.5 611.7 162.4 610.8 162.6C609.9 162.7 610.3 162.6 609.4 162.7C608.4 162.7 608.9 162.7 607.9 162.6C606.9 162.6 607.4 162.6 606.4 162.5C605.4 162.5 605.9 162.5 604.9 162.5C603.9 162.4 604.4 162.4 603.4 162.4C602.5 162.5 603.0 162.4 602.1 162.5C601.2 162.7 601.6 162.6 600.8 162.8C600.0 163.1 600.3 162.9 599.6 163.4C598.9 163.8 599.2 163.5 598.6 164.1C597.9 164.7 598.2 164.4 597.6 165.0C597.0 165.7 597.3 165.4 596.8 166.2C596.3 167.0 596.5 166.6 596.0 167.4C595.5 168.3 595.6 168.3 595.3 168.7"/></g>
<ellipse cx="662.0" cy="82.0" rx="2.4" ry="2" fill="#bcbf62" stroke="#7fae55" stroke-width="0.6"/>
<ellipse cx="676.0" cy="88.5" rx="2.4" ry="2" fill="#bcbf62" stroke="#7fae55" stroke-width="0.6"/>
<ellipse cx="654.0" cy="98.5" rx="2.4" ry="2" fill="#bcbf62" stroke="#7fae55" stroke-width="0.6"/>
<ellipse cx="664.5" cy="99.5" rx="2.4" ry="2" fill="#bcbf62" stroke="#7fae55" stroke-width="0.6"/>
<ellipse cx="648.5" cy="113.5" rx="2.4" ry="2" fill="#bcbf62" stroke="#7fae55" stroke-width="0.6"/>
<ellipse cx="633.5" cy="119.8" rx="2.4" ry="2" fill="#bcbf62" stroke="#7fae55" stroke-width="0.6"/>
<ellipse cx="668.0" cy="76.0" rx="2.4" ry="2" fill="#bcbf62" stroke="#7fae55" stroke-width="0.6"/>
<g transform="translate(695.5 113.0) rotate(0)"><path d="M0 -4.5Q3.2 1 2.6 3.5Q0 4.6 -2.6 3.5Q-3.2 1 0 -4.5Z" fill="#a9dc8f" stroke="#5aa650" stroke-width="0.6"/><circle cx="0" cy="1.2" r="1" fill="#c9a040"/></g>
<g transform="translate(683.0 119.0) rotate(-10)"><path d="M0 -4.5Q3.2 1 2.6 3.5Q0 4.6 -2.6 3.5Q-3.2 1 0 -4.5Z" fill="#a9dc8f" stroke="#5aa650" stroke-width="0.6"/><circle cx="0" cy="1.2" r="1" fill="#c9a040"/></g>
<g transform="translate(694.0 124.0) rotate(10)"><path d="M0 -4.5Q3.2 1 2.6 3.5Q0 4.6 -2.6 3.5Q-3.2 1 0 -4.5Z" fill="#a9dc8f" stroke="#5aa650" stroke-width="0.6"/><circle cx="0" cy="1.2" r="1" fill="#c9a040"/></g>
<g transform="translate(671.5 129.0) rotate(-40)"><path d="M0 -4.5Q3.2 1 2.6 3.5Q0 4.6 -2.6 3.5Q-3.2 1 0 -4.5Z" fill="#a9dc8f" stroke="#5aa650" stroke-width="0.6"/><circle cx="0" cy="1.2" r="1" fill="#c9a040"/></g>
<g transform="translate(685.0 131.0) rotate(0)"><path d="M0 -4.5Q3.2 1 2.6 3.5Q0 4.6 -2.6 3.5Q-3.2 1 0 -4.5Z" fill="#a9dc8f" stroke="#5aa650" stroke-width="0.6"/><circle cx="0" cy="1.2" r="1" fill="#c9a040"/></g>
<g transform="translate(659.0 137.5) rotate(-60)"><path d="M0 -4.5Q3.2 1 2.6 3.5Q0 4.6 -2.6 3.5Q-3.2 1 0 -4.5Z" fill="#a9dc8f" stroke="#5aa650" stroke-width="0.6"/><circle cx="0" cy="1.2" r="1" fill="#c9a040"/></g>
<g transform="translate(673.0 141.0) rotate(-50)"><path d="M0 -4.5Q3.2 1 2.6 3.5Q0 4.6 -2.6 3.5Q-3.2 1 0 -4.5Z" fill="#a9dc8f" stroke="#5aa650" stroke-width="0.6"/><circle cx="0" cy="1.2" r="1" fill="#c9a040"/></g>
<g transform="translate(666.0 151.0) rotate(-70)"><path d="M0 -4.5Q3.2 1 2.6 3.5Q0 4.6 -2.6 3.5Q-3.2 1 0 -4.5Z" fill="#a9dc8f" stroke="#5aa650" stroke-width="0.6"/><circle cx="0" cy="1.2" r="1" fill="#c9a040"/></g>
<g transform="translate(690.0 105.0) rotate(5)"><path d="M0 -4.5Q3.2 1 2.6 3.5Q0 4.6 -2.6 3.5Q-3.2 1 0 -4.5Z" fill="#a9dc8f" stroke="#5aa650" stroke-width="0.6"/><circle cx="0" cy="1.2" r="1" fill="#c9a040"/></g>
<path d="M682.0 86.4C692.2 84.6 693.7 82.9 712.7 81.0C731.7 79.1 721.4 78.9 739.0 80.7C756.6 82.5 750.2 81.3 765.5 86.4C780.8 91.5 778.5 92.8 785.0 96.0L796.3 87.3L799 117L771.6 119.8L779.6 112.7C774.9 108.6 776.0 107.1 765.5 100.4C755.0 93.7 762.7 96.6 748.0 92.5C733.3 88.4 743.5 90.0 721.5 88.0C699.5 86.0 695.2 86.9 682.0 86.4Z" fill="#cfcfd1"/>
<path d="M675.3 151.2C680.5 157.0 679.4 154.8 691.0 168.6C702.6 182.4 695.7 178.2 710.0 192.7C724.3 207.2 719.2 201.9 734.0 212.0C748.8 222.1 747.7 219.3 754.5 223.0L763 215.5L774 239.6L747.6 251.7L752.4 240.8C744.8 236.0 744.4 237.7 729.5 226.4C714.6 215.1 720.6 220.7 707.8 207.0C695.0 193.3 700.3 199.1 691.0 185.4C681.7 171.7 685.2 177.4 680.0 166.0C674.8 154.6 676.9 156.1 675.3 151.2Z" fill="#cfcfd1"/>
<path d="M121.3 283.6C120.9 278.3 122.0 277.7 120.1 267.7C118.2 257.7 119.2 261.9 115.7 253.7C112.2 245.5 113.4 249.0 109.6 243.1C105.8 237.2 106.1 238.4 104.3 236.1L100.8 226.4L80.5 234.3L87.6 255.4L93.0 248.5C94.7 247.9 94.0 245.2 98.1 246.6C102.2 248.0 100.5 247.5 105.2 252.8C109.9 258.1 107.8 255.2 112.2 262.5C116.6 269.8 115.4 267.8 118.4 274.8C121.4 281.8 120.3 280.7 121.3 283.6Z" fill="#cfcfd1"/>
<path d="M210.7 308.2C208.3 307.0 208.9 308.2 203.6 304.7C198.3 301.2 201.2 301.1 194.8 297.6C188.4 294.1 190.7 294.4 184.3 294.1C177.9 293.8 178.4 295.9 175.5 296.8L177.3 303.8L156.2 293.2L165.8 274.8L170.2 282.7C173.1 282.1 172.0 280.7 179.0 281.0C186.0 281.3 183.7 279.8 191.3 283.6C198.9 287.4 196.0 286.0 201.9 292.4C207.8 298.8 206.0 297.6 208.9 302.9C211.8 308.2 210.1 306.4 210.7 308.2Z" fill="#cfcfd1"/>
<defs><linearGradient id="gStk" gradientUnits="userSpaceOnUse" x1="34" y1="226" x2="8" y2="247"><stop offset="0" stop-color="#e18618"/><stop offset="0.75" stop-color="#e9962a"/><stop offset="1" stop-color="#f2b866" stop-opacity="0.25"/></linearGradient><linearGradient id="gStk2" gradientUnits="userSpaceOnUse" x1="205" y1="138" x2="184" y2="158"><stop offset="0" stop-color="#e18618"/><stop offset="0.75" stop-color="#e9962a"/><stop offset="1" stop-color="#f2b866" stop-opacity="0.25"/></linearGradient></defs>
<path d="M27 219C23 231 15 240 6.500 245.500L9.500 249.500C20 245 31 238 40 230Z" fill="url(#gStk)"/>
<path d="M30 225C25 235 17 242 9 246.500" stroke="#f6be62" stroke-width="1.3" fill="none" opacity="0.8"/>
<path d="M36 230C28 238 19 244 11 248" stroke="#bf6a10" stroke-width="0.9" fill="none" opacity="0.8"/>
<path d="M25.0 205.0L24.9 199.2L25.6 193.5L27.1 188.3L29.6 183.5L32.8 179.2L36.6 175.8L41.2 173.3L46.0 171.5L51.2 170.6L58.3 170.8L64.8 172.2L69.4 174.2L73.2 177.1L76.3 180.9L78.8 185.4L80.6 190.3L81.8 197.4L81.9 204.8L81.0 212.4L78.7 219.3L75.1 225.4L71.8 229.2L66.4 233.0L60.5 235.5L53.9 236.3L47.4 235.7L41.2 233.5L35.8 230.0L31.5 225.4L29.0 221.0L26.4 213.3Z" fill="#b9620d"/>
<g fill="url(#gCellO)"><path d="M43.0 172.7L42.5 173.3L43.1 173.9L47.3 173.6L47.8 173.2L47.8 172.0L47.1 171.4Z"/><path d="M48.2 171.6L48.5 173.8L51.0 175.3L57.4 173.4L57.8 172.9L57.8 171.3L57.2 170.8L54.8 170.7L48.7 171.1Z"/><path d="M58.8 171.0L58.1 171.5L58.1 172.9L58.5 173.4L60.6 174.0L62.2 172.4L61.9 171.6Z"/><path d="M61.4 173.8L61.3 174.6L62.7 175.9L67.4 174.6L67.9 174.0L67.5 173.4L63.4 171.9Z"/><path d="M31.7 181.0L31.3 182.1L31.5 183.2L32.3 184.1L33.4 184.5L34.6 184.2L39.0 181.4L39.8 177.7L39.3 176.7L38.4 176.1L37.3 176.0L34.3 178.2Z"/><path d="M41.0 176.1L40.0 181.5L40.6 182.5L44.2 185.9L45.4 186.5L46.7 186.3L47.6 185.4L50.1 181.2L50.4 180.1L50.2 175.8L48.6 174.4L47.2 174.1L43.0 174.4L41.8 174.9Z"/><path d="M60.0 174.4L57.3 173.9L52.7 175.3L51.5 176.0L51.1 177.3L51.3 180.5L55.8 184.3L56.9 184.8L58.1 184.6L62.5 182.6L63.4 181.9L63.8 180.9L63.6 179.8L61.9 176.0Z"/><path d="M65.3 175.7L64.2 176.3L63.7 177.4L63.8 178.6L65.5 182.0L66.7 182.4L67.9 182.2L72.5 179.4L72.9 178.5L72.8 177.4L70.2 175.1L68.5 174.8Z"/><path d="M26.7 190.4L26.7 191.5L27.2 192.5L28.2 193.1L29.3 193.1L30.3 192.6L32.8 189.8L32.9 188.7L32.0 185.8L31.2 185.2L30.1 185.1L29.1 185.5L28.1 186.7Z"/><path d="M40.5 183.2L39.3 182.6L37.9 182.9L34.3 185.1L33.4 186.1L33.2 187.4L34.0 189.7L36.4 190.9L41.9 188.9L42.8 188.2L43.3 187.2L43.2 186.2Z"/><path d="M52.8 182.7L51.6 182.3L50.4 182.5L49.5 183.3L47.2 187.8L49.2 192.2L50.1 193.1L51.3 193.4L55.5 192.9L56.3 192.1L56.5 191.1L56.3 185.7Z"/><path d="M57.1 187.1L57.4 192.4L58.1 193.2L59.1 193.6L60.1 193.4L66.8 190.6L67.3 188.6L66.3 184.4L65.7 183.3L64.5 182.8L63.3 182.9L58.4 185.1L57.5 185.9Z"/><path d="M74.4 180.1L72.7 180.3L68.2 182.6L67.1 184.1L68.1 189.6L69.1 190.9L73.1 193.1L78.3 191.1L79.3 190.3L79.6 189.0L79.2 187.1L77.0 182.5L76.2 181.3Z"/><path d="M26.3 195.1L25.5 195.4L25.2 197.2L25.0 201.3L25.6 201.8L27.9 200.2L27.4 195.9Z"/><path d="M33.8 204.1L35.1 204.4L36.4 204.0L39.3 201.8L40.1 200.1L36.5 192.3L35.5 191.3L33.6 190.8L32.5 191.4L28.7 195.0L28.0 196.8L28.6 200.2Z"/><path d="M48.8 192.7L46.4 188.8L45.4 188.4L44.4 188.6L39.1 190.6L38.1 191.4L37.7 192.5L37.9 193.7L40.7 199.3L41.5 200.2L42.7 200.5L45.5 200.1L48.8 194.8L49.1 193.8Z"/><path d="M49.3 195.1L46.8 200.0L47.0 201.1L47.7 201.9L51.2 204.3L53.1 204.6L58.8 199.0L58.5 195.7L58.1 194.7L57.3 194.0L51.1 194.0L50.0 194.3Z"/><path d="M71.4 201.1L72.2 199.6L72.6 195.3L72.4 194.1L69.0 191.6L67.0 191.4L60.6 193.9L59.3 195.3L59.5 198.3L60.1 199.6L65.5 204.6L66.6 204.6L67.5 204.2Z"/><path d="M81.3 195.2L79.2 192.3L77.3 192.2L74.5 193.4L73.6 194.2L73.2 195.3L73.0 200.4L77.3 204.2L80.7 203.8L81.4 203.0L81.7 201.9Z"/><path d="M26.2 202.2L25.5 203.0L25.2 204.1L25.7 208.5L26.2 209.6L27.3 210.3L28.5 210.3L29.5 209.7L32.2 206.8L32.8 205.7L32.7 204.4L31.9 203.5L29.4 201.7L28.1 201.3Z"/><path d="M41.9 201.1L40.7 201.5L37.2 204.1L36.4 205.3L36.5 206.7L38.9 213.2L39.6 214.2L40.7 214.6L41.9 214.5L44.1 213.2L44.5 212.2L45.6 203.5L45.4 202.3L44.5 201.4Z"/><path d="M49.4 203.8L48.4 203.4L47.3 203.6L46.4 204.3L46.0 205.3L45.2 210.9L45.4 212.1L46.2 213.0L47.3 213.4L48.8 213.1L49.7 212.1L51.6 207.4L51.5 205.5Z"/><path d="M64.8 208.7L65.3 206.0L64.7 205.0L59.9 200.6L58.8 200.6L57.8 201.2L55.2 203.8L54.6 204.9L54.7 206.2L55.5 207.2L61.7 211.1L63.6 210.4Z"/><path d="M71.7 211.6L72.9 211.7L74.0 211.2L76.2 209.2L76.9 207.6L76.7 204.9L72.9 201.8L71.0 202.2L66.8 205.6L65.9 207.2L65.9 208.2L66.3 209.2Z"/><path d="M79.9 211.6L80.8 211.7L81.2 210.5L81.8 205.1L81.2 204.5L77.9 204.8L77.3 205.3L77.4 208.6Z"/><path d="M28.2 212.9L28.6 218.2L29.3 219.0L30.3 219.3L37.3 216.7L38.2 216.0L38.6 215.0L38.5 213.9L35.7 207.0L34.7 206.6L33.6 206.6L28.8 211.3Z"/><path d="M41.9 215.1L41.0 215.8L40.6 217.0L40.9 218.1L44.2 224.4L45.1 225.2L46.3 225.5L47.4 225.1L48.2 224.2L51.0 217.8L51.1 216.5L49.8 214.7L48.4 214.1L45.2 213.9Z"/><path d="M55.1 207.6L53.8 207.2L52.6 207.6L51.8 208.6L50.2 212.3L50.1 213.6L50.8 214.8L52.9 216.1L60.3 216.0L61.6 214.5L61.6 212.5L60.8 211.5Z"/><path d="M63.0 211.9L61.9 216.0L62.1 217.4L63.0 218.6L66.8 220.8L68.5 221.1L72.8 220.0L73.8 219.4L74.4 218.4L74.3 217.2L72.6 212.8L66.5 210.2L65.2 210.1Z"/><path d="M73.8 213.9L75.4 217.6L76.4 218.1L78.0 217.9L79.5 216.6L80.2 213.1L78.6 210.8L77.7 210.2L76.5 210.1L75.5 210.6L73.8 212.6Z"/><path d="M32.4 225.8L35.2 229.1L37.0 229.7L42.5 228.6L43.7 227.2L44.1 226.1L43.8 224.9L40.3 218.2L39.5 217.4L38.5 217.1L37.5 217.2L31.7 220.0L31.2 220.9L31.3 222.0Z"/><path d="M60.6 220.2L60.9 219.1L60.7 218.0L59.9 217.2L53.6 216.7L52.4 217.0L51.6 218.0L49.2 223.4L49.0 224.5L49.5 225.6L53.9 227.6L56.0 227.3Z"/><path d="M57.6 226.2L57.4 228.1L58.0 228.9L59.9 230.7L61.8 231.3L66.9 227.5L67.6 226.6L67.7 225.5L67.1 221.9L64.0 219.9L63.0 219.6L61.9 219.8Z"/><path d="M69.4 227.8L70.4 228.5L71.6 228.5L72.6 228.0L74.9 225.3L75.5 224.0L75.3 222.9L74.4 221.2L72.4 220.7L68.9 221.8L68.3 222.7L68.1 223.8L68.4 226.1Z"/><path d="M75.6 219.1L74.8 220.3L75.7 222.6L76.4 222.9L78.5 219.0L77.8 218.5Z"/><path d="M37.8 230.0L37.3 230.8L38.4 231.8L42.8 234.1L43.7 233.9L42.5 229.4Z"/><path d="M50.0 235.8L51.8 235.1L52.3 234.3L53.5 230.3L53.6 229.2L53.1 228.2L48.4 226.2L45.1 226.6L43.3 229.2L44.3 233.4L44.8 234.4L45.7 234.9Z"/><path d="M53.3 233.1L53.3 234.2L53.7 235.2L54.6 235.8L55.6 235.9L59.0 235.5L60.1 234.9L60.7 233.9L60.7 232.7L60.1 231.7L56.7 229.0L55.6 229.0L54.7 229.5Z"/><path d="M68.6 227.6L67.7 227.4L61.7 232.2L61.5 232.8L62.1 234.4L62.7 234.6L64.9 233.6L70.2 230.3L70.3 229.6Z"/></g>
<path d="M25.0 205.0L24.9 199.2L25.6 193.5L27.1 188.3L29.6 183.5L32.8 179.2L36.6 175.8L41.2 173.3L46.0 171.5L51.2 170.6L58.3 170.8L64.8 172.2L69.4 174.2L73.2 177.1L76.3 180.9L78.8 185.4L80.6 190.3L81.8 197.4L81.9 204.8L81.0 212.4L78.7 219.3L75.1 225.4L71.8 229.2L66.4 233.0L60.5 235.5L53.9 236.3L47.4 235.7L41.2 233.5L35.8 230.0L31.5 225.4L29.0 221.0L26.4 213.3Z" fill="url(#shA)"/>
<path d="M26 198Q40 205 54 214Q68 222 78 222" stroke="#a9560a" stroke-width="1.5" fill="none"/>
<path d="M60 171Q78 178 81 201Q81 220 70 231" stroke="#c26a10" stroke-width="1.2" fill="none" opacity="0.7"/>
<path d="M25.0 205.0L24.9 199.2L25.6 193.5L27.1 188.3L29.6 183.5L32.8 179.2L36.6 175.8L41.2 173.3L46.0 171.5L51.2 170.6L58.3 170.8L64.8 172.2L69.4 174.2L73.2 177.1L76.3 180.9L78.8 185.4L80.6 190.3L81.8 197.4L81.9 204.8L81.0 212.4L78.7 219.3L75.1 225.4L71.8 229.2L66.4 233.0L60.5 235.5L53.9 236.3L47.4 235.7L41.2 233.5L35.8 230.0L31.5 225.4L29.0 221.0L26.4 213.3Z" fill="none" stroke="#b25c0c" stroke-width="0.8"/>
<path d="M198 133C196 144 190 152 182.500 157L186 161C196 155 204 148 211 140Z" fill="url(#gStk2)"/>
<path d="M201 138C198 147 192 153 185.500 158" stroke="#f6be62" stroke-width="1.3" fill="none" opacity="0.8"/>
<path d="M207 141C201 149 194 155 188 159.500" stroke="#bf6a10" stroke-width="0.9" fill="none" opacity="0.8"/>
<path d="M221.0 66.0C223.2 68.7 223.5 67.3 222.5 74.0C221.5 80.7 222.5 79.0 218.0 86.0C213.5 93.0 214.8 88.0 209.0 95.0C203.2 102.0 204.5 101.7 200.5 107.0C196.5 112.3 197.5 113.3 197.0 111.0C196.5 108.7 196.7 107.7 199.0 100.0C201.3 92.3 200.0 96.0 204.0 88.0C208.0 80.0 207.0 83.3 211.0 76.0C215.0 68.7 212.7 69.3 216.0 66.0C219.3 62.7 218.8 63.3 221.0 66.0Z" fill="#b2601a"/>
<path d="M194.4 113.7L192.6 113.1L190.4 111.7L183.2 105.3L179.0 100.0L175.5 93.8L173.7 88.8L172.9 83.8L173.4 77.2L174.9 71.5L176.7 67.9L180.1 64.5L183.9 62.0L188.9 60.1L195.5 58.8L202.1 58.4L209.0 59.2L215.1 60.6L220.3 63.3L221.3 64.4L221.4 65.6L217.0 70.0L214.1 73.7L206.4 85.4L202.9 92.1L200.0 99.0L196.3 111.8L195.6 113.2Z" fill="#b9620d"/>
<g fill="url(#gCellO)"><path d="M199.2 58.6L198.7 59.4L199.9 60.1L201.3 59.3L200.9 58.6Z"/><path d="M207.4 59.1L206.8 59.3L206.9 60.0L209.8 61.5L210.3 61.4L211.1 60.3L210.8 59.6Z"/><path d="M179.6 65.3L179.0 66.2L179.0 67.2L179.8 70.2L180.3 71.1L181.3 71.5L183.2 71.2L187.2 67.3L186.6 63.5L185.6 62.2L183.9 62.3Z"/><path d="M188.3 60.6L187.1 61.8L187.9 66.6L188.7 67.7L190.6 68.9L192.1 69.1L194.3 67.1L194.2 65.6L191.3 60.5L189.8 60.2Z"/><path d="M196.4 66.6L199.5 66.5L200.2 65.7L200.4 64.7L199.7 60.7L197.0 59.2L196.0 59.0L194.0 59.5L193.2 60.1L192.8 61.1L194.9 65.7Z"/><path d="M208.6 61.4L203.2 58.8L202.3 59.2L200.8 60.6L200.6 61.5L201.4 66.4L203.7 67.8L204.7 68.0L208.8 65.0L209.6 63.3L209.4 62.2Z"/><path d="M210.7 61.6L210.2 63.4L210.3 64.4L213.4 66.7L217.7 66.9L219.2 66.0L219.4 64.4L219.2 63.5L218.4 62.8L213.2 60.3L212.1 60.4Z"/><path d="M176.9 75.4L176.7 74.9L175.0 73.6L174.3 73.8L173.9 75.2L174.2 75.7L176.3 76.3Z"/><path d="M175.3 71.2L175.2 72.2L175.7 73.1L176.5 73.6L177.6 73.6L178.4 73.0L179.3 71.5L178.8 69.6L177.2 69.0L176.4 69.3Z"/><path d="M189.0 68.6L187.9 68.3L186.8 68.8L184.2 71.5L184.2 72.5L184.7 73.4L186.8 74.9L190.3 74.1L191.4 73.1L191.3 70.3Z"/><path d="M196.1 67.2L194.8 67.7L192.3 70.3L192.4 73.7L193.3 74.7L194.4 75.1L195.5 74.9L196.2 74.1L198.1 69.8L198.0 68.1L197.4 67.5Z"/><path d="M197.0 73.7L197.2 75.5L199.4 76.5L204.2 73.8L204.9 73.0L205.1 72.0L204.4 69.0L201.9 67.5L200.9 67.3L200.0 67.7Z"/><path d="M205.9 68.2L205.3 69.9L205.8 72.5L206.5 73.7L207.7 74.1L211.3 74.0L212.8 73.1L213.3 68.5L213.2 67.6L212.5 66.9L209.7 65.5L208.6 65.9Z"/><path d="M213.5 72.6L213.7 73.2L214.4 73.1L218.6 68.2L218.5 67.5L214.0 67.6Z"/><path d="M173.1 81.0L173.4 81.5L174.2 81.5L176.2 80.6L176.3 76.7L174.3 76.1L173.8 76.3Z"/><path d="M176.8 79.2L177.1 80.2L177.8 80.9L183.9 80.7L184.9 80.2L185.5 79.3L186.1 75.7L183.0 72.7L182.0 72.2L180.1 72.2L177.3 75.5Z"/><path d="M188.0 75.4L186.7 76.7L186.1 80.7L188.6 83.2L190.3 83.6L191.5 82.3L193.0 75.8L191.7 74.6Z"/><path d="M195.4 75.8L193.9 76.4L193.5 77.1L192.6 81.8L193.2 82.6L194.2 83.0L198.5 82.9L199.2 82.2L199.4 81.2L198.9 77.5Z"/><path d="M206.8 75.8L205.8 74.5L204.9 74.3L200.7 76.7L200.0 77.4L200.1 82.1L200.4 83.0L201.1 83.6L202.7 84.0L203.7 83.6L206.8 80.7L207.3 79.1Z"/><path d="M207.6 76.9L208.6 78.3L210.2 78.2L211.3 76.5L211.1 75.6L210.4 74.9L209.5 74.6L208.3 75.0L207.7 75.7Z"/><path d="M173.9 88.2L174.3 90.0L175.6 91.2L177.3 90.8L179.6 88.1L179.5 87.1L177.4 82.0L176.5 81.6L175.6 81.7L174.8 82.3Z"/><path d="M180.2 87.3L181.2 88.4L184.9 89.9L186.0 90.0L188.6 87.6L189.1 86.6L189.1 84.8L185.3 81.3L180.6 81.6L179.8 81.8L178.9 83.2Z"/><path d="M192.3 83.5L191.2 83.8L190.1 84.8L189.9 87.0L193.9 89.6L194.8 89.8L195.8 89.5L197.7 86.3L197.7 84.6L196.2 83.7Z"/><path d="M197.0 88.9L197.0 90.5L197.5 91.1L198.8 91.6L200.0 91.5L200.8 90.7L202.6 87.1L202.8 86.1L202.5 85.2L201.3 84.4L199.6 84.5Z"/><path d="M204.8 86.8L205.6 86.6L208.6 81.4L208.2 80.6L207.6 80.6L203.2 84.7L203.6 85.9Z"/><path d="M176.3 94.5L177.4 96.8L178.2 97.6L180.8 98.6L181.8 98.1L185.6 94.5L185.8 92.2L185.5 91.2L184.7 90.5L180.4 89.0L176.8 92.1L176.3 92.8Z"/><path d="M195.1 92.7L194.9 91.0L194.3 90.5L189.8 88.2L188.4 88.8L186.9 90.4L186.4 91.6L186.4 93.5L187.3 95.1L189.3 95.7L194.2 94.5Z"/><path d="M195.2 94.1L195.3 95.6L196.5 97.7L197.2 98.5L198.3 98.6L199.7 98.2L200.3 97.5L201.3 94.5L200.6 93.1L199.5 92.4L197.6 92.0L196.0 92.4Z"/><path d="M201.3 93.4L202.2 93.4L205.0 87.8L204.9 87.2L203.9 86.6L203.3 86.8L200.6 92.0Z"/><path d="M179.6 98.8L179.0 98.9L178.9 99.5L180.1 101.3L180.7 101.4L181.0 100.9L180.8 99.6Z"/><path d="M188.6 96.8L187.3 95.8L186.2 95.5L185.2 96.0L182.0 98.8L181.4 100.4L181.7 102.1L182.4 103.3L184.8 104.6L190.2 102.0L190.3 100.2Z"/><path d="M195.8 100.0L196.2 99.1L195.9 98.0L194.2 95.7L191.3 95.9L190.1 96.9L190.1 98.5L191.4 101.1L192.4 102.0L193.7 102.1Z"/><path d="M196.2 100.9L194.7 102.6L195.3 104.3L197.1 104.6L198.0 104.1L198.5 103.0L198.5 102.1L198.0 101.3L197.1 100.8Z"/><path d="M185.8 107.2L188.9 110.1L190.3 110.6L191.5 110.5L193.7 109.3L194.4 108.6L194.7 107.6L194.5 105.5L193.9 103.8L192.8 102.8L191.6 102.4L186.6 104.7L185.6 106.1Z"/><path d="M195.4 105.7L195.1 106.1L195.2 108.0L197.1 108.2L198.0 105.3L197.4 105.0Z"/><path d="M194.7 109.9L194.0 109.7L191.4 111.0L191.2 112.0L193.6 113.4L195.0 113.4L196.0 112.0Z"/><path d="M194.8 109.0L195.6 110.8L196.4 110.9L196.8 108.8L195.3 108.5Z"/></g>
<path d="M194.4 113.7L192.6 113.1L190.4 111.7L183.2 105.3L179.0 100.0L175.5 93.8L173.7 88.8L172.9 83.8L173.4 77.2L174.9 71.5L176.7 67.9L180.1 64.5L183.9 62.0L188.9 60.1L195.5 58.8L202.1 58.4L209.0 59.2L215.1 60.6L220.3 63.3L221.3 64.4L221.4 65.6L217.0 70.0L214.1 73.7L206.4 85.4L202.9 92.1L200.0 99.0L196.3 111.8L195.6 113.2Z" fill="url(#shB)"/>
<path d="M194.4 113.7L192.6 113.1L190.4 111.7L183.2 105.3L179.0 100.0L175.5 93.8L173.7 88.8L172.9 83.8L173.4 77.2L174.9 71.5L176.7 67.9L180.1 64.5L183.9 62.0L188.9 60.1L195.5 58.8L202.1 58.4L209.0 59.2L215.1 60.6L220.3 63.3L221.3 64.4L221.4 65.6L217.0 70.0L214.1 73.7L206.4 85.4L202.9 92.1L200.0 99.0L196.3 111.8L195.6 113.2Z" fill="none" stroke="#b25c0c" stroke-width="0.8"/>
<path d="M174 88Q172 66 195 59.500Q212 56.500 221 64" stroke="#f0a83c" stroke-width="2.2" fill="none" stroke-dasharray="3.2 1.2" opacity="0.9"/>
<path d="M195 114Q215 113 239.500 126L236 130Q214 119 197 119Z" fill="#a9581a"/>
<path d="M194.0 115.0L194.9 114.7L200.0 117.5L212.0 120.0L226.0 124.0L238.5 126.1L240.1 127.0L240.5 129.0L238.5 132.8L235.7 136.2L232.0 139.1L227.6 141.3L222.8 142.8L217.7 143.5L212.8 143.4L208.1 142.4L205.0 141.0L202.3 138.8L199.2 135.0L196.7 130.8L194.8 126.2L194.0 122.3L193.6 117.9Z" fill="#b9620d"/>
<g fill="url(#gCellO)"><path d="M195.6 115.2L195.0 115.3L194.8 115.9L196.7 118.3L197.2 118.4L198.3 117.7L198.3 116.9Z"/><path d="M194.1 122.2L194.5 122.7L195.3 122.5L196.5 120.7L196.7 119.1L194.6 116.6L193.7 117.2Z"/><path d="M198.5 118.2L197.9 118.9L197.7 119.8L198.0 120.7L198.7 121.3L203.4 123.2L204.8 122.4L205.2 120.7L204.6 119.0L200.1 117.8Z"/><path d="M205.5 122.7L206.0 124.2L207.7 125.0L211.9 122.9L212.2 121.2L210.9 120.0L207.0 119.5L206.2 120.0Z"/><path d="M213.9 120.7L213.2 121.1L213.5 122.6L215.7 124.2L220.3 123.2L220.0 122.5Z"/><path d="M223.1 123.4L222.6 123.6L222.5 124.2L225.0 127.0L228.1 125.2L227.7 124.5Z"/><path d="M196.3 129.4L197.1 130.2L198.2 130.5L200.0 130.1L203.0 126.3L203.4 125.3L203.1 124.3L202.3 123.6L198.2 121.7L196.6 121.8L195.9 122.4L195.6 123.6Z"/><path d="M201.9 128.8L201.5 129.7L201.7 130.7L204.4 132.4L207.1 131.7L208.3 130.5L207.6 126.6L207.3 125.8L206.3 125.2L204.7 125.2Z"/><path d="M209.2 130.5L210.1 131.7L211.9 132.7L212.7 132.9L214.2 132.1L215.3 125.7L215.2 124.7L214.6 124.0L213.3 123.4L212.4 123.5L208.7 125.5L208.4 127.0Z"/><path d="M222.2 124.5L220.5 123.9L217.3 124.5L216.4 125.0L215.9 126.0L215.3 130.5L215.4 131.4L216.0 132.2L220.6 132.8L221.6 132.5L222.3 131.9L224.3 127.6Z"/><path d="M227.6 126.2L227.0 126.8L227.0 128.5L230.5 131.2L231.9 131.5L234.0 130.9L235.2 129.8L235.0 126.9L234.5 125.9L233.4 125.4L230.2 125.0Z"/><path d="M238.1 126.3L236.4 126.7L235.8 128.3L236.4 129.5L238.0 130.0L239.0 129.8L239.8 129.2L240.0 128.2L239.7 127.2Z"/><path d="M203.1 132.5L200.3 131.2L199.4 131.5L198.8 132.2L198.6 133.1L200.7 136.6L202.3 137.3L203.7 136.4L204.0 134.1L203.8 133.2Z"/><path d="M212.6 135.1L212.5 134.0L211.7 133.3L209.7 132.2L208.3 132.0L205.0 133.4L204.5 136.0L205.2 137.4L207.6 139.4L209.1 139.8L212.1 137.5Z"/><path d="M221.5 138.4L222.4 137.9L222.9 136.9L222.8 135.9L221.5 133.7L215.4 133.0L214.2 133.3L213.6 134.0L213.1 137.6L214.6 139.1L216.1 139.5Z"/><path d="M222.7 132.4L222.6 134.0L224.6 138.2L226.3 138.7L228.2 138.1L230.2 133.4L230.3 132.6L229.6 131.3L225.8 129.0L224.8 129.2L224.1 129.9Z"/><path d="M231.5 132.4L229.6 137.3L230.6 138.7L232.4 138.6L233.7 137.6L235.5 135.7L234.8 132.3L234.0 131.8L233.1 131.8Z"/><path d="M236.2 130.3L235.3 131.2L236.0 134.5L236.5 134.9L237.8 133.5L239.3 131.0L238.8 130.6Z"/><path d="M202.6 137.9L202.4 138.7L204.2 140.2L207.1 141.9L208.0 141.8L208.3 140.5L204.4 137.4Z"/><path d="M210.5 139.6L209.9 140.5L209.8 141.5L210.4 142.4L213.3 143.1L214.9 142.4L215.1 140.7L213.6 139.1L212.1 138.7Z"/><path d="M223.3 138.9L218.8 139.8L218.2 141.5L219.3 142.8L223.2 142.4L224.1 141.9L224.5 141.0L224.5 140.1Z"/><path d="M225.0 141.2L225.3 141.9L226.3 141.6L229.9 140.1L230.2 139.5L228.5 138.7L225.6 139.4Z"/></g>
<path d="M194.0 115.0L194.9 114.7L200.0 117.5L212.0 120.0L226.0 124.0L238.5 126.1L240.1 127.0L240.5 129.0L238.5 132.8L235.7 136.2L232.0 139.1L227.6 141.3L222.8 142.8L217.7 143.5L212.8 143.4L208.1 142.4L205.0 141.0L202.3 138.8L199.2 135.0L196.7 130.8L194.8 126.2L194.0 122.3L193.6 117.9Z" fill="url(#shC)"/>
<path d="M194.0 115.0L194.9 114.7L200.0 117.5L212.0 120.0L226.0 124.0L238.5 126.1L240.1 127.0L240.5 129.0L238.5 132.8L235.7 136.2L232.0 139.1L227.6 141.3L222.8 142.8L217.7 143.5L212.8 143.4L208.1 142.4L205.0 141.0L202.3 138.8L199.2 135.0L196.7 130.8L194.8 126.2L194.0 122.3L193.6 117.9Z" fill="none" stroke="#b25c0c" stroke-width="0.8"/>
<defs><radialGradient id="gSpore" cx="0.4" cy="0.35" r="0.7"><stop offset="0" stop-color="#c79a82"/><stop offset="0.6" stop-color="#a3735c"/><stop offset="1" stop-color="#8a5a46"/></radialGradient><path id="spo" d="M-5 0C-5 -3.400 -2.400 -4.100 0 -3.900C2.600 -3.900 5.200 -3 5.200 0C5.200 3 3 4.100 1.300 3.100C0.400 2.500 -0.400 2.500 -1.300 3.100C-3 4.100 -5 3 -5 0Z" stroke="#80503e" stroke-width="0.4" fill="url(#gSpore)"/></defs>
<use href="#spo" transform="translate(252.3 54.0) rotate(20)"/>
<use href="#spo" transform="translate(246.0 69.2) rotate(60)"/>
<use href="#spo" transform="translate(272.6 71.7) rotate(10)"/>
<use href="#spo" transform="translate(284.0 78.0) rotate(-30)"/>
<use href="#spo" transform="translate(230.9 83.0) rotate(80)"/>
<use href="#spo" transform="translate(294.0 88.0) rotate(30)"/>
<use href="#spo" transform="translate(313.8 86.9) rotate(0)"/>
<use href="#spo" transform="translate(248.6 92.0) rotate(10)"/>
<use href="#spo" transform="translate(265.0 96.2) rotate(70)"/>
<use href="#spo" transform="translate(279.4 98.2) rotate(0)"/>
<use href="#spo" transform="translate(217.0 95.2) rotate(-40)"/>
<use href="#spo" transform="translate(206.9 102.0) rotate(60)"/>
<use href="#spo" transform="translate(223.3 106.3) rotate(10)"/>
<use href="#spo" transform="translate(233.4 109.6) rotate(70)"/>
<use href="#spo" transform="translate(212.0 111.4) rotate(0)"/>
<use href="#spo" transform="translate(278.9 107.0) rotate(40)"/>
<use href="#spo" transform="translate(267.5 116.0) rotate(-20)"/>
<use href="#spo" transform="translate(225.8 120.5) rotate(30)"/>
<use href="#spo" transform="translate(305.4 121.5) rotate(-30)"/>
<g transform="translate(376.3 77.2) rotate(18) scale(1.00)"><path d="M-10.600 -5C-10.200 -8.600 -6 -9 0 -8.800C6 -8.600 10.400 -8 10.800 -4.500C11.200 -0.500 6 7.500 1.500 9.300C-3 10.500 -11.200 0 -10.600 -5Z" fill="url(#gSpore)" stroke="#8a5a46" stroke-width="0.5"/></g>
<defs><linearGradient id="gYG" x1="0" y1="0" x2="1" y2="0.3"><stop offset="0" stop-color="#86d076"/><stop offset="0.5" stop-color="#6fc160"/><stop offset="1" stop-color="#4fa447"/></linearGradient><radialGradient id="gYG2" cx="0.45" cy="0.4" r="0.7"><stop offset="0" stop-color="#7cc86c"/><stop offset="0.6" stop-color="#6dbf5e"/><stop offset="1" stop-color="#4c9e44"/></radialGradient></defs>
<g fill="none" stroke="#5fb355" stroke-width="2" stroke-linecap="round"><path d="M451 66Q444 63 438 64Q433 65 429 62"/><path d="M459 71.500Q464 72 465 77Q466 82 469.500 83.500"/></g>
<g transform="translate(446.6 80.0) rotate(-4) scale(1.00)"><path d="M-10.600 -5C-10.200 -8.600 -6 -9 0 -8.800C6 -8.600 10.400 -8 10.800 -4.500C11.200 -0.500 6 7.500 1.500 9.300C-3 10.500 -11.200 0 -10.600 -5Z" fill="url(#gSpore)" stroke="#8a5a46" stroke-width="0.5"/></g>
<path d="M448.5 70.5C447.2 66.2 448.2 66.7 449.0 60.0C449.8 53.3 449.0 54.3 451.0 50.5C453.0 46.7 452.3 48.7 455.0 48.5C457.7 48.3 456.3 49.7 459.0 50.0C461.7 50.3 460.5 48.2 463.0 49.5C465.5 50.8 465.8 49.8 466.5 54.0C467.2 58.2 466.8 57.3 465.0 62.0C463.2 66.7 463.3 64.3 461.0 68.0C458.7 71.7 460.7 71.3 458.0 73.0C455.3 74.7 456.2 73.8 453.0 73.0C449.8 72.2 449.8 74.8 448.5 70.5Z" fill="url(#gYG)" stroke="#4c9e44" stroke-width="0.7"/>
<g fill="none" stroke="#4c9e44" stroke-width="0.8" opacity="0.8"><path d="M449 65.500Q456 68 462.500 66"/><path d="M449.500 60Q457 62.500 465 60.500"/><path d="M450.500 55Q458 57.500 466 55.500"/><path d="M455 49V55"/><path d="M459.500 50V56"/><path d="M463 50.500V56"/></g>
<g fill="none" stroke="#5fb355" stroke-width="2.2" stroke-linecap="round"><path d="M521 80Q514 79 509 81.500Q504 84 500 84"/><path d="M534 86Q539 88 541 94Q543 100 547 101.500"/><path d="M530 93Q532 98 530.500 102Q530 105 531.500 106.500"/></g>
<g transform="translate(515.8 102.0) rotate(7) scale(1.05)"><path d="M-10.600 -5C-10.200 -8.600 -6 -9 0 -8.800C6 -8.600 10.400 -8 10.800 -4.500C11.200 -0.500 6 7.500 1.500 9.300C-3 10.500 -11.200 0 -10.600 -5Z" fill="url(#gSpore)" stroke="#8a5a46" stroke-width="0.5"/></g>
<path d="M518.5 39.3C523.2 33.4 522.0 33.5 529.0 32.3C536.0 31.1 532.6 32.9 539.6 35.8C546.6 38.7 544.7 35.7 550.0 41.0C555.3 46.3 553.9 44.5 555.4 51.6C556.9 58.7 557.4 56.1 554.5 62.2C551.6 68.3 552.2 66.5 546.6 70.0C541.0 73.5 541.7 70.0 537.8 72.7C533.9 75.4 535.6 73.3 535.0 78.0C534.4 82.7 537.7 81.5 536.0 86.8C534.3 92.1 534.1 91.6 530.0 94.0C525.9 96.4 527.8 95.2 523.7 94.0C519.6 92.8 519.1 94.5 517.6 90.3C516.1 86.1 517.8 87.4 519.3 81.5C520.8 75.6 520.5 77.4 522.0 72.7C523.5 68.0 525.2 71.6 523.7 67.5C522.2 63.4 520.5 66.3 517.6 60.4C514.7 54.5 514.7 56.9 515.0 49.9C515.3 42.9 513.8 45.2 518.5 39.3Z" fill="url(#gYG2)" stroke="#4c9e44" stroke-width="0.8"/>
<ellipse cx="536" cy="48" rx="9" ry="6" fill="#4c9e44" opacity="0.35" filter="url(#fBlur2)"/>
<g fill="none" stroke="#4c9e44" stroke-width="0.8" opacity="0.8"><path d="M518.500 86Q526 89 534.500 87.500"/><path d="M520 80Q527 83 535.500 81"/><path d="M522 74Q529 77 536.500 74"/></g>
<defs>
<radialGradient id="gCellG" cx="0.42" cy="0.36" r="0.78"><stop offset="0" stop-color="#dff4d0"/><stop offset="0.5" stop-color="#bfe5a8"/><stop offset="1" stop-color="#9ed388"/></radialGradient>
<radialGradient id="gCellG2" cx="0.42" cy="0.36" r="0.78"><stop offset="0" stop-color="#d6f0c2"/><stop offset="0.5" stop-color="#b3de9b"/><stop offset="1" stop-color="#90cb79"/></radialGradient>
<radialGradient id="gEgg" cx="0.38" cy="0.32" r="0.75"><stop offset="0" stop-color="#dff4f6"/><stop offset="0.5" stop-color="#a9dfe8"/><stop offset="1" stop-color="#79c3d6"/></radialGradient>
<radialGradient id="gZyg" cx="0.4" cy="0.35" r="0.75"><stop offset="0" stop-color="#f6cfc2"/><stop offset="0.6" stop-color="#eeb5a4"/><stop offset="1" stop-color="#dc9886"/></radialGradient>
<radialGradient id="gSperm" cx="0.4" cy="0.35" r="0.7"><stop offset="0" stop-color="#f6b050"/><stop offset="0.7" stop-color="#e88a24"/><stop offset="1" stop-color="#c86e14"/></radialGradient>
<linearGradient id="gCanal" x1="0" y1="0" x2="1" y2="0"><stop offset="0" stop-color="#3f8f30"/><stop offset="0.5" stop-color="#5aa846"/><stop offset="1" stop-color="#47973a"/></linearGradient>
<radialGradient id="mFade"><stop offset="0.74" stop-color="#fff"/><stop offset="1" stop-color="#000"/></radialGradient>
<mask id="mkA" maskUnits="userSpaceOnUse" x="740" y="210" width="130" height="130"><rect x="746" y="214" width="108" height="114" fill="url(#mFade)"/></mask>
<mask id="mkZ" maskUnits="userSpaceOnUse" x="620" y="320" width="120" height="130"><rect x="624" y="323" width="104" height="122" fill="url(#mFade)"/></mask>
</defs>
<path d="M764.0 174.3L765.4 168.8L768.0 162.0L776.4 147.5L780.3 138.9L782.6 135.0L787.3 129.6L791.0 126.3L797.4 121.8L804.7 118.2L810.0 117.1L818.4 117.4L823.9 118.6L831.6 122.0L838.3 126.8L842.0 130.7L846.5 137.2L850.1 144.5L850.7 147.8L850.3 151.2L845.5 160.0L844.1 170.3L842.3 174.3L837.6 180.2L832.6 185.1L827.5 189.2L823.9 191.0L819.9 191.8L815.7 191.8L811.5 191.0L807.2 189.2L802.9 186.6L799.0 183.6L795.9 180.1L792.1 174.6L789.4 172.3L786.7 171.1L784.0 170.8L782.6 171.0L779.8 172.9L775.7 177.1L774.3 178.0L771.3 178.8L768.3 178.8L765.2 178.1L764.0 176.4Z" fill="#7dbb62"/>
<path d="M843.1 172.8L844.5 168.2L845.5 160.0L849.5 152.9L850.7 149.5L850.7 147.8L850.1 144.5L847.6 139.2L842.0 130.7L838.3 126.8L834.0 123.5L829.1 120.7L823.9 118.6L818.4 117.4L812.7 117.0L807.3 117.5L804.7 118.2L799.8 120.4L791.0 126.3L787.3 129.6L784.0 133.1L781.3 136.9L776.4 147.5L768.0 162.0L765.4 168.8L763.9 175.5L764.2 177.1L766.0 178.4L769.8 178.9L772.8 178.5L775.7 177.1L781.2 171.7L784.0 170.8L786.7 171.1L789.4 172.3L792.1 174.6L795.9 180.1L799.0 183.6L802.9 186.6L807.2 189.2L811.5 191.0L815.7 191.8L819.9 191.8L823.9 191.0L829.2 188.0L838.6 179.1L834.8 178.5L833.5 178.8L830.9 180.7L823.0 182.0L818.0 182.0L815.9 181.6L812.1 179.8L807.3 175.4L805.3 172.0L803.8 165.9L804.2 162.3L804.8 160.8L805.8 159.4L808.5 156.7L812.0 154.6L816.4 152.8L821.4 151.5L823.7 151.3L825.7 151.6L827.6 152.3L831.2 155.2L834.2 158.8L835.9 161.8L836.4 167.9L837.2 169.6L840.5 171.8Z" fill="#7dbb62"/>
<g fill="url(#gCellG)"><path d="M781.6 137.2L777.2 147.3L777.5 148.4L779.4 150.2L780.6 150.6L781.9 150.4L795.5 144.0L797.3 137.2L792.5 129.3L791.4 128.3L790.0 128.1L788.7 128.8L784.3 133.4Z"/><path d="M793.4 124.9L792.6 125.9L792.3 127.1L792.7 128.3L797.4 135.6L798.3 136.5L799.5 136.8L814.5 136.8L815.6 136.5L816.5 135.8L818.7 132.4L820.7 120.7L820.6 119.4L819.9 118.4L818.3 117.7L812.6 117.3L807.5 117.8L802.3 119.6Z"/><path d="M821.4 121.2L819.8 132.0L820.4 133.0L821.4 133.7L836.6 138.9L837.8 138.9L839.0 138.4L843.0 134.6L843.2 133.3L842.7 132.2L838.0 127.0L831.5 122.3L824.7 119.2L823.2 119.2L822.0 119.9Z"/><path d="M838.9 139.4L838.1 140.7L835.9 150.1L836.0 151.5L836.9 152.7L838.2 153.2L846.9 153.8L848.3 153.5L849.3 152.4L850.0 150.9L850.4 149.2L850.2 146.4L849.0 142.8L846.0 137.1L845.0 136.2L843.6 136.0L842.3 136.5Z"/><path d="M768.5 161.7L768.3 163.2L768.9 164.5L770.2 165.3L772.9 165.5L774.0 164.8L780.9 156.4L780.4 152.6L779.4 151.0L777.1 149.8L775.8 150.1L774.8 151.0Z"/><path d="M802.3 157.5L803.0 158.5L804.2 158.9L805.4 158.8L810.0 155.3L817.5 151.7L818.2 150.7L818.2 149.4L816.0 139.5L815.6 138.5L814.7 137.8L800.1 137.5L798.6 138.0L797.7 139.3L796.6 143.5L796.7 145.2Z"/><path d="M818.9 149.2L819.4 150.3L820.3 151.0L825.8 151.2L827.7 152.0L831.4 154.5L832.6 154.5L834.0 153.6L834.7 152.3L837.0 142.1L837.0 140.9L836.4 139.9L835.4 139.2L820.8 134.2L819.3 134.2L818.0 135.0L816.5 137.3Z"/><path d="M799.4 159.4L800.5 158.6L801.0 157.3L800.8 156.0L796.8 147.2L796.0 146.2L794.8 145.7L793.5 145.9L782.7 150.8L781.3 152.4L781.7 155.6L782.5 157.0L788.2 162.1L789.4 162.7L790.8 162.6Z"/><path d="M834.2 154.4L833.5 155.4L833.4 156.7L836.9 163.0L838.1 163.7L841.5 164.6L842.9 164.6L844.1 163.8L846.3 156.8L846.0 155.6L845.1 154.7L844.0 154.3L836.1 153.7Z"/><path d="M769.1 165.8L767.9 165.8L766.9 166.4L766.2 167.4L764.4 174.2L764.3 175.8L764.8 177.1L765.9 178.0L768.5 178.5L771.4 178.4L773.9 177.8L775.6 176.7L776.8 175.2L776.7 173.0L772.8 166.8Z"/><path d="M788.5 169.4L788.7 171.0L794.6 176.9L795.8 177.2L796.9 177.0L803.2 173.8L804.1 173.0L804.5 171.9L803.5 165.9L803.7 161.3L802.9 160.2L801.7 159.6L800.4 159.8L790.9 163.3L789.9 164.0L789.3 165.2Z"/><path d="M797.9 177.3L796.9 178.3L796.6 179.7L797.8 181.8L801.0 184.8L805.2 187.7L807.0 188.3L808.3 187.9L809.2 186.9L811.4 182.3L811.7 181.2L811.4 180.1L810.7 179.2L805.8 174.4L804.7 174.1Z"/><path d="M809.9 187.1L809.6 188.5L810.2 189.7L811.3 190.5L813.5 191.1L820.0 191.5L821.5 190.9L822.2 190.0L822.4 188.7L821.7 183.6L820.9 182.8L819.7 182.5L813.9 181.5L812.7 182.0Z"/><path d="M825.0 182.1L823.8 182.6L823.0 183.5L822.8 184.8L823.4 188.5L824.3 189.3L825.5 189.6L827.4 188.9L831.3 185.8L832.0 184.7L832.1 183.5L831.6 182.3L830.5 181.6Z"/><path d="M839.9 164.9L838.5 165.0L837.3 165.7L836.8 167.0L837.0 168.4L837.9 169.7L839.1 170.7L841.4 171.6L842.5 171.4L843.4 170.6L843.9 169.6L844.0 167.2L843.4 166.2L842.3 165.6Z"/><path d="M776.5 171.4L777.6 172.4L779.0 172.6L782.5 170.7L786.6 170.2L787.5 169.5L788.0 168.4L788.6 163.8L787.8 162.7L783.5 158.8L782.3 158.2L781.0 158.3L779.9 159.0L774.7 165.0L774.1 166.4L774.5 167.9Z"/></g>
<path d="M843.5 171.9L839.2 170.0L838.0 169.0L837.4 167.7L836.9 161.5L836.2 159.9L833.6 156.4L830.0 152.8L826.0 150.6L823.8 150.3L818.6 151.0L811.5 153.7L806.3 157.3L803.9 160.3L803.2 162.0L802.9 163.9L803.1 168.2L804.4 172.4L805.3 174.3L809.7 179.3L813.6 181.8L815.6 182.6L820.4 183.1L825.7 182.7L831.3 181.6L834.0 179.7L835.0 179.5L837.8 179.9L842.3 174.3Z" fill="#4e9a3a"/>
<ellipse cx="823.9" cy="154.7" rx="3.3" ry="3.7" fill="url(#gSperm)"/>
<ellipse cx="815.6" cy="160.9" rx="3.3" ry="3.7" fill="url(#gSperm)"/>
<ellipse cx="829.0" cy="162.0" rx="3.3" ry="3.7" fill="url(#gSperm)"/>
<ellipse cx="807.8" cy="168.0" rx="3.3" ry="3.7" fill="url(#gSperm)"/>
<ellipse cx="814.6" cy="170.0" rx="3.3" ry="3.7" fill="url(#gSperm)"/>
<ellipse cx="822.8" cy="169.2" rx="3.3" ry="3.7" fill="url(#gSperm)"/>
<ellipse cx="821.8" cy="178.4" rx="3.3" ry="3.7" fill="url(#gSperm)"/>
<ellipse cx="831.0" cy="176.4" rx="3.3" ry="3.7" fill="url(#gSperm)"/>
<ellipse cx="812.0" cy="177.5" rx="3.3" ry="3.7" fill="url(#gSperm)"/>
<path d="M764.0 174.3L765.4 168.8L768.0 162.0L776.4 147.5L780.3 138.9L782.6 135.0L787.3 129.6L791.0 126.3L797.4 121.8L804.7 118.2L810.0 117.1L818.4 117.4L823.9 118.6L831.6 122.0L838.3 126.8L842.0 130.7L846.5 137.2L850.1 144.5L850.7 147.8L850.3 151.2L845.5 160.0L844.1 170.3L842.3 174.3L837.6 180.2L832.6 185.1L827.5 189.2L823.9 191.0L819.9 191.8L815.7 191.8L811.5 191.0L807.2 189.2L802.9 186.6L799.0 183.6L795.9 180.1L792.1 174.6L789.4 172.3L786.7 171.1L784.0 170.8L782.6 171.0L779.8 172.9L775.7 177.1L774.3 178.0L771.3 178.8L768.3 178.8L765.2 178.1L764.0 176.4Z" fill="none" stroke="#86c46c" stroke-width="0.9"/>
<g mask="url(#mkA)">
<path d="M781.0 240.5L781.7 240.3L783.4 241.4L785.0 243.0L787.0 246.2L787.5 246.5L788.8 245.6L794.2 239.2L795.0 239.0L795.8 239.5L802.0 250.4L807.0 257.9L811.6 263.9L818.0 271.0L823.4 278.3L825.0 279.5L826.8 280.0L832.9 279.7L837.2 280.7L844.2 283.7L847.4 286.3L849.6 289.4L850.1 291.1L850.0 293.0L847.9 297.7L842.0 305.0L835.2 310.1L824.0 316.1L815.0 320.0L808.1 321.7L801.0 321.9L795.6 321.1L779.6 318.0L776.7 317.1L775.0 316.0L774.9 314.7L779.6 309.8L782.0 306.2L783.7 302.5L784.7 298.0L784.3 292.1L780.9 269.7L779.1 252.9L779.2 245.9L779.9 242.5Z" fill="#69b052"/>
<g fill="url(#gCellG2)"><path d="M781.2 242.8L780.3 244.2L780.1 247.5L780.7 248.8L783.2 249.6L785.8 248.3L786.7 246.8L784.8 243.3L783.3 242.2Z"/><path d="M789.3 245.6L789.0 247.1L789.4 247.7L793.6 251.8L795.0 252.3L796.8 251.2L797.4 250.1L798.3 245.1L797.5 243.2L795.0 241.0L793.4 240.8Z"/><path d="M797.8 250.5L798.1 251.0L802.0 252.4L802.7 252.1L799.1 245.8L798.6 246.2Z"/><path d="M781.4 249.8L780.0 250.0L779.3 251.4L779.7 255.8L780.0 256.6L780.8 257.1L783.8 256.4L784.9 255.1L783.3 250.9L782.9 250.4Z"/><path d="M786.0 255.4L786.7 256.1L788.6 256.9L789.5 256.5L793.0 253.4L792.6 251.7L789.2 248.4L788.3 248.0L784.9 249.4L784.1 250.7Z"/><path d="M802.1 253.7L801.1 252.5L798.4 251.6L797.0 251.8L795.9 252.8L795.8 254.2L798.1 259.0L799.5 259.3L802.3 258.5L802.8 257.0Z"/><path d="M807.4 260.9L808.0 259.6L803.3 252.8L802.6 252.7L802.4 253.2L803.6 258.7L807.0 261.0Z"/><path d="M781.1 257.9L780.1 258.9L780.0 259.6L780.9 264.8L785.4 266.2L787.9 264.4L788.5 263.1L788.4 258.7L787.6 257.3L785.9 256.5Z"/><path d="M797.5 259.4L794.9 254.3L793.9 254.1L793.0 254.4L789.2 257.8L789.1 262.6L789.5 263.6L790.3 264.1L794.6 265.2L795.4 265.2L796.5 264.1L797.6 260.5Z"/><path d="M803.9 259.5L802.7 259.3L798.5 260.4L797.2 264.0L797.5 265.5L801.2 266.8L806.2 263.7L806.7 263.2L806.7 261.6Z"/><path d="M807.6 262.9L812.6 266.8L813.2 266.7L813.3 266.0L808.5 260.4L808.0 260.5L807.5 261.4Z"/><path d="M783.1 266.3L781.6 266.6L781.0 268.0L781.7 273.2L782.6 274.4L783.4 274.6L784.7 274.0L785.5 272.5L784.9 267.1Z"/><path d="M794.3 271.9L795.0 266.7L793.9 265.7L789.7 264.6L788.3 264.9L786.0 266.9L786.2 272.0L787.5 272.7L793.4 273.0Z"/><path d="M800.8 267.7L796.9 266.4L796.1 266.8L795.7 267.7L794.7 272.9L794.9 274.1L796.8 277.0L798.2 277.7L802.1 275.5L802.7 274.7L802.7 273.7Z"/><path d="M808.4 264.2L807.5 263.9L806.6 264.2L802.6 266.8L801.9 267.6L801.9 268.6L803.4 273.8L804.6 274.9L806.2 274.9L811.9 271.9L812.7 270.6L812.8 267.8Z"/><path d="M816.1 269.4L815.4 268.9L814.5 268.9L813.7 269.5L813.4 271.5L816.0 274.6L816.8 275.1L817.7 275.0L818.6 274.5L819.0 273.1Z"/><path d="M782.4 276.4L783.2 282.5L784.4 283.2L788.7 281.1L789.0 280.2L788.7 279.3L785.5 275.1L784.0 275.1Z"/><path d="M788.6 273.4L787.0 274.2L786.8 275.1L790.1 280.3L793.0 281.6L794.7 281.2L796.3 279.6L796.7 278.3L794.5 274.6L793.3 273.8Z"/><path d="M803.0 275.6L799.0 278.5L798.9 279.4L802.7 283.5L804.4 283.8L807.4 282.4L807.7 280.8L805.4 275.9L804.1 275.4Z"/><path d="M816.5 278.3L815.9 275.5L813.7 273.0L812.4 272.4L807.4 274.9L806.6 276.1L808.7 281.8L809.4 282.6L811.5 283.7L812.9 283.2L816.1 279.4Z"/><path d="M818.1 275.6L817.3 276.2L817.0 277.2L817.3 278.7L817.8 279.3L822.5 281.9L824.0 281.2L824.3 279.6L821.0 275.8L820.2 275.1Z"/><path d="M832.9 279.9L827.0 280.5L827.1 281.0L831.7 283.7L834.5 281.6L834.7 280.6L834.4 280.1Z"/><path d="M835.6 280.3L835.0 280.6L835.2 281.6L840.9 283.3L841.4 283.0L841.2 282.3Z"/><path d="M785.0 288.3L791.1 290.9L793.0 289.9L793.7 288.6L793.7 283.7L793.4 282.7L790.9 281.5L789.7 281.6L784.8 283.9L783.9 285.1Z"/><path d="M794.3 283.1L794.5 289.2L795.2 289.8L796.1 289.9L801.0 289.2L801.9 288.8L802.4 287.9L802.8 284.7L798.6 280.4L797.1 280.0L794.8 281.9Z"/><path d="M811.9 285.5L811.1 284.4L808.6 283.0L804.4 284.4L803.4 285.6L803.1 289.1L807.0 291.9L808.0 292.2L808.9 291.8L812.2 288.7Z"/><path d="M820.3 289.4L821.1 288.3L821.8 282.7L818.0 280.1L816.6 280.0L812.5 284.8L812.8 287.8L813.8 289.0L817.5 290.3L818.8 290.2Z"/><path d="M830.5 288.2L831.4 286.8L831.3 284.3L830.7 283.7L826.4 281.3L822.9 282.7L821.8 287.5L822.3 289.0L825.7 290.0L826.7 289.9Z"/><path d="M837.0 291.7L842.4 288.0L842.5 287.1L842.2 285.1L841.8 284.3L841.1 283.8L834.8 282.2L832.3 284.2L832.0 287.2L832.4 288.3L835.5 291.8Z"/><path d="M845.6 285.1L844.7 284.8L843.8 285.0L843.2 285.7L843.2 287.4L844.0 288.5L846.4 289.6L847.9 288.7L848.0 287.8L847.3 286.6Z"/><path d="M789.4 291.0L785.9 289.7L784.6 290.7L785.0 296.4L785.3 297.3L786.1 297.9L787.8 298.2L789.0 297.1L790.4 292.2Z"/><path d="M789.3 298.0L789.6 299.6L792.6 302.8L793.9 303.2L799.0 300.5L799.8 299.2L795.7 291.0L794.9 290.3L794.0 290.2L791.9 291.3L791.2 292.2Z"/><path d="M802.9 290.0L801.8 289.7L798.4 290.2L797.2 291.1L797.0 291.8L800.5 298.8L801.1 299.4L803.3 299.7L806.8 298.0L807.6 294.1L807.4 293.2L806.9 292.5Z"/><path d="M818.1 292.0L817.1 290.8L813.6 289.6L812.0 289.9L808.8 292.7L808.2 293.7L807.8 298.0L812.0 301.2L812.6 301.5L814.0 301.1L818.7 296.4Z"/><path d="M823.9 298.8L825.5 298.7L826.1 298.1L826.0 291.8L825.6 290.9L824.8 290.4L821.9 289.7L820.7 289.8L818.9 291.2L819.3 295.6L820.2 296.8Z"/><path d="M834.9 296.7L835.5 295.4L835.5 293.5L835.1 292.5L832.3 289.2L831.5 288.7L830.5 288.8L826.8 290.8L826.9 297.6L827.6 298.9L831.4 299.4Z"/><path d="M839.5 298.1L840.6 298.3L844.8 297.1L845.8 291.4L845.7 290.5L843.9 289.1L842.2 289.2L836.3 293.1L836.3 296.0Z"/><path d="M846.2 293.5L846.7 294.9L848.2 295.2L848.8 294.8L849.7 292.7L849.5 290.9L848.8 290.3L847.9 290.2L846.8 290.7Z"/><path d="M784.0 302.1L784.2 302.6L784.8 302.6L787.9 299.6L787.9 299.0L785.0 298.2Z"/><path d="M782.1 306.6L782.2 308.2L782.8 308.8L791.0 308.5L792.7 307.2L793.1 304.8L792.6 303.7L789.8 300.7L788.2 300.2L783.2 304.7Z"/><path d="M793.7 305.8L794.5 307.2L799.4 310.1L800.3 310.3L801.2 309.9L803.6 307.8L803.3 301.0L802.1 300.2L800.4 300.4L794.5 303.8L793.9 304.3Z"/><path d="M808.0 299.2L806.3 299.1L804.4 300.4L804.3 306.7L804.6 307.6L805.4 308.1L808.7 308.9L813.5 307.1L813.8 305.5L812.4 302.2Z"/><path d="M820.3 297.5L819.3 297.3L818.4 297.7L814.2 301.7L813.7 302.5L813.7 303.4L814.8 305.6L815.8 305.8L821.6 305.6L823.0 304.6L824.3 301.3L824.2 299.8Z"/><path d="M823.4 305.0L823.6 306.5L825.3 309.2L826.0 309.7L827.6 309.6L832.3 306.2L831.5 301.2L831.1 300.4L830.1 299.9L826.1 299.8L825.2 300.7Z"/><path d="M833.0 305.6L833.8 306.6L837.1 308.2L840.0 306.4L840.5 304.9L839.6 299.0L836.8 297.2L835.9 297.0L832.6 299.3L832.1 300.9Z"/><path d="M840.8 302.1L841.9 303.4L843.5 302.9L845.6 300.1L845.1 298.7L843.7 298.2L841.1 299.0L840.5 300.4Z"/><path d="M779.8 314.4L781.9 309.4L781.4 308.3L776.1 313.3L775.1 314.9L775.6 315.4Z"/><path d="M781.9 310.6L780.9 314.3L781.4 315.1L782.8 316.0L789.9 314.1L790.7 313.6L791.1 312.7L791.1 310.1L790.5 309.4L789.6 309.2L783.4 309.6L782.5 309.9Z"/><path d="M792.4 308.6L791.6 313.5L791.8 314.4L793.7 317.7L795.1 317.9L800.3 316.0L800.8 314.6L800.0 311.3L794.6 308.0L793.2 307.9Z"/><path d="M801.5 315.1L802.4 316.2L803.2 316.4L806.1 315.9L806.7 315.0L807.5 311.0L807.1 309.5L804.1 308.5L801.4 310.5L800.9 312.0Z"/><path d="M815.0 316.1L815.4 314.7L813.7 308.8L812.1 308.4L808.6 309.8L807.3 315.0L807.6 316.4L811.6 318.3L812.6 318.5Z"/><path d="M821.7 306.1L815.1 306.8L814.5 307.5L814.4 308.4L815.8 314.1L816.4 315.0L817.3 315.4L822.2 315.4L825.1 311.9L825.4 311.0L823.1 306.9Z"/><path d="M832.9 307.1L827.9 310.3L827.9 311.8L829.3 312.8L834.2 310.3L835.0 308.9L834.2 307.5Z"/><path d="M776.1 315.6L775.8 316.2L776.8 317.0L782.5 318.4L783.0 318.1L782.5 316.6L780.2 314.7Z"/><path d="M786.0 315.9L784.9 317.1L785.4 318.6L791.0 319.9L791.9 319.8L792.6 319.3L793.0 318.5L792.8 317.6L791.2 315.0L789.8 314.8Z"/><path d="M796.8 318.0L795.7 319.2L796.3 320.7L800.2 321.5L801.0 321.3L801.7 320.7L801.9 318.5L801.2 317.2L799.8 317.0Z"/><path d="M802.5 320.1L803.4 321.5L805.9 321.6L810.1 320.9L810.7 319.4L809.7 318.2L807.0 316.9L804.0 316.9L802.7 317.8Z"/><path d="M822.0 316.9L822.3 316.4L821.9 316.0L816.0 315.8L813.0 319.2L812.9 320.0L813.4 320.3L814.9 319.9Z"/><path d="M822.9 315.5L822.9 316.1L823.5 316.2L828.4 313.7L828.5 313.1L826.0 311.5Z"/></g>
</g>
<path d="M786.5 247.0L786.8 246.0L787.5 246.0L790.0 247.5L792.1 245.0L792.8 244.6L793.5 245.0L796.1 255.4L798.1 260.1L800.8 263.7L804.0 267.0L812.2 273.1L814.0 275.0L818.9 282.5L820.5 287.6L820.4 289.9L818.6 294.2L816.0 297.5L814.6 298.6L813.0 299.4L809.4 300.3L804.0 300.4L800.5 299.4L799.0 298.5L796.8 295.7L793.0 285.9L790.4 276.5L787.4 257.2Z" fill="url(#gCanal)" stroke="#3c8a2e" stroke-width="0.6"/>
<circle cx="807.7" cy="287.6" r="12.3" fill="#4f9a40"/>
<circle cx="807.7" cy="287.6" r="10.5" fill="url(#gEgg)" stroke="#5aa7bd" stroke-width="0.7"/>
<circle cx="811.7" cy="289.1" r="2.6" fill="#9d7cc8" opacity="0.75" filter="url(#fBlur1)"/>
<circle cx="811.7" cy="289.1" r="1.2" fill="#9d7cc8"/>
<g mask="url(#mkZ)">
<path d="M654.2 357.0L655.4 356.6L657.5 357.5L660.1 360.3L660.8 360.5L662.4 359.6L668.6 353.5L669.4 353.3L670.2 353.7L677.9 364.6L687.3 380.7L702.7 400.4L704.4 401.6L706.5 402.4L715.8 403.5L719.8 404.8L723.1 406.6L724.0 408.0L724.4 410.0L724.3 412.4L723.1 417.6L720.6 422.2L716.6 426.2L709.6 431.8L701.4 436.7L692.2 440.1L685.4 441.3L678.4 441.3L671.0 439.9L657.1 436.0L651.4 433.6L650.0 432.0L650.2 430.1L651.6 427.9L655.7 423.2L657.0 421.0L657.6 417.6L655.0 385.4L652.3 362.7L652.7 359.4Z" fill="#69b052"/>
<g fill="url(#gCellG2)"><path d="M667.7 355.3L671.5 358.2L672.4 357.9L670.0 353.7L668.6 353.7L667.8 354.4Z"/><path d="M652.5 362.5L652.9 363.0L654.3 362.8L656.4 358.8L656.3 358.2L653.8 357.7L652.9 359.5Z"/><path d="M659.9 360.5L658.4 359.1L656.9 359.3L655.2 362.0L655.1 362.9L655.4 363.8L657.3 365.7L658.7 365.7L662.5 363.4L662.4 361.6L661.9 361.1Z"/><path d="M663.5 358.9L663.1 360.1L663.3 362.9L663.8 364.0L666.8 366.5L668.2 366.1L671.4 363.2L671.2 358.7L668.3 356.5L666.6 356.5Z"/><path d="M675.0 360.9L673.5 360.3L672.3 361.2L672.1 362.3L672.9 363.6L674.2 364.1L675.6 363.2L675.8 362.4Z"/><path d="M656.7 366.3L655.0 364.6L653.5 364.8L652.9 366.3L653.5 370.3L653.7 371.0L655.0 371.7L656.1 371.4L656.9 370.1L657.1 367.4Z"/><path d="M662.5 373.0L664.2 372.7L666.2 371.1L666.7 369.9L666.7 367.7L663.8 364.8L663.0 364.4L662.0 364.6L657.9 367.0L657.5 369.8L657.8 370.7L658.5 371.4Z"/><path d="M667.6 367.7L667.6 370.4L668.3 371.0L673.8 373.3L676.8 371.0L677.7 368.3L677.6 367.3L677.0 366.6L671.9 364.1L668.0 367.2Z"/><path d="M679.3 367.2L678.9 367.0L678.4 367.3L677.8 370.7L682.3 373.7L682.6 373.0Z"/><path d="M655.6 380.7L659.6 382.1L660.4 381.7L663.0 378.9L663.2 375.0L662.9 374.1L662.2 373.5L657.2 371.6L654.9 372.7L654.2 373.4L654.7 379.4Z"/><path d="M664.4 373.4L663.8 374.6L663.8 377.8L664.0 378.7L664.8 379.3L669.7 381.2L670.7 381.3L673.5 378.1L673.9 377.1L673.7 375.1L672.8 373.7L667.1 371.4Z"/><path d="M674.4 376.5L675.4 377.9L680.6 379.9L682.1 379.7L682.8 378.9L682.1 374.5L677.9 371.6L676.6 372.0L674.4 374.1Z"/><path d="M683.8 375.1L683.2 374.9L682.9 375.3L683.4 378.7L685.4 379.0L685.7 378.4Z"/><path d="M657.3 382.1L655.7 382.3L655.1 383.7L655.7 388.4L656.9 389.1L658.8 388.6L659.6 387.9L659.9 386.9L659.2 383.1Z"/><path d="M661.8 389.2L663.5 389.5L670.8 386.1L671.2 384.8L670.5 382.4L664.5 379.8L663.6 379.8L662.8 380.2L660.6 382.3L660.1 383.6L660.5 387.5Z"/><path d="M671.7 381.5L671.4 382.8L671.9 385.5L672.4 386.4L674.8 388.4L676.0 388.8L679.8 387.9L680.3 387.0L681.0 382.0L680.5 380.7L675.4 378.6L674.4 378.5Z"/><path d="M682.2 380.4L681.6 381.4L680.9 387.3L681.0 388.2L681.6 388.8L682.9 389.6L684.3 389.8L689.4 387.6L690.2 387.0L690.4 386.0L690.1 385.1L686.1 379.8L684.1 379.5Z"/><path d="M658.8 399.1L660.1 399.1L662.7 398.0L663.6 396.9L662.4 390.9L661.9 390.1L660.2 388.9L656.9 390.0L656.1 390.6L655.9 391.6L656.6 397.9Z"/><path d="M667.1 398.8L668.7 398.7L671.8 396.8L672.4 396.0L674.5 389.4L674.0 388.6L671.6 386.8L664.1 389.9L663.2 391.0L664.6 397.3Z"/><path d="M676.4 389.3L675.1 390.4L673.3 396.0L674.2 397.2L678.7 399.0L679.7 399.1L680.5 398.6L683.6 394.7L683.3 391.3L682.6 390.2L680.8 389.1L679.8 388.8Z"/><path d="M692.9 389.6L692.1 388.3L690.8 387.8L685.0 390.1L684.2 390.8L684.0 391.8L684.5 394.6L689.1 397.9L692.8 397.0L693.4 395.6Z"/><path d="M699.3 397.3L696.1 393.0L694.6 393.1L693.9 394.6L694.1 396.3L694.8 397.5L697.7 399.0L699.2 398.1Z"/><path d="M656.7 403.9L657.0 404.3L657.6 404.1L659.1 400.1L658.9 399.6L656.8 398.7L656.3 399.2Z"/><path d="M657.4 405.7L657.7 407.3L658.3 407.8L663.4 409.8L664.9 409.7L668.2 404.6L668.4 403.5L667.6 399.9L664.2 398.1L660.3 399.7L659.4 400.6Z"/><path d="M679.8 400.9L678.8 399.7L672.5 397.3L669.2 399.1L668.6 399.8L668.5 400.8L669.3 403.8L676.6 407.5L679.5 406.6L680.4 405.6Z"/><path d="M682.6 406.6L684.0 406.5L686.4 405.1L687.1 404.2L688.4 399.5L688.4 398.6L687.8 397.8L684.6 395.8L683.2 396.4L680.3 400.0L681.2 405.3L681.5 406.0Z"/><path d="M697.7 401.0L697.0 399.5L694.3 397.9L693.1 397.7L690.2 398.4L689.0 399.5L688.0 404.0L689.2 405.1L694.7 406.1L697.3 403.1Z"/><path d="M700.1 399.1L698.5 400.1L698.3 401.8L698.9 403.2L704.1 407.0L705.0 407.3L706.5 406.5L706.6 403.8L706.3 402.9L704.3 401.9L700.8 399.1Z"/><path d="M708.9 403.0L707.5 403.8L707.3 406.3L707.7 407.2L708.5 407.8L712.1 408.4L714.2 405.8L714.4 404.2L713.0 403.3Z"/><path d="M663.7 410.6L658.6 408.8L657.4 409.7L657.6 415.1L658.0 416.0L658.9 416.5L661.4 416.8L664.4 413.6L664.7 411.7Z"/><path d="M675.0 407.6L669.5 405.0L668.2 405.8L665.5 410.2L665.2 411.3L665.7 412.8L666.2 413.3L668.7 414.7L669.9 414.8L674.4 413.5L675.8 408.7Z"/><path d="M683.3 408.2L682.5 407.2L680.5 406.9L677.5 408.0L676.6 409.0L675.3 413.8L678.2 417.2L679.7 417.0L684.6 413.4L684.8 412.1Z"/><path d="M688.2 414.7L689.0 415.0L689.9 414.8L694.6 411.5L694.7 408.2L694.3 407.3L693.4 406.7L687.9 405.5L686.7 405.6L684.3 407.3L684.2 408.7L685.6 412.7Z"/><path d="M699.4 413.8L701.0 413.8L701.6 413.3L704.2 408.8L703.6 407.4L698.5 403.9L697.0 404.5L695.6 406.4L695.2 407.4L695.4 410.8L696.2 412.1Z"/><path d="M712.1 412.8L712.7 412.1L712.7 411.1L712.0 409.5L706.7 408.1L705.1 409.0L702.3 413.3L702.1 414.7L704.6 417.2L706.0 417.6Z"/><path d="M713.1 408.5L712.9 409.9L713.5 411.7L716.2 414.5L717.4 414.9L720.6 414.4L721.2 413.6L722.5 407.9L719.9 405.2L717.4 404.3L716.4 404.3L715.6 404.9Z"/><path d="M724.0 408.6L723.5 408.2L723.0 408.5L721.4 414.6L723.0 415.9L723.5 415.6L724.2 412.4Z"/><path d="M659.7 417.3L658.8 417.3L658.1 417.9L657.8 418.8L657.4 421.6L658.5 422.7L660.4 422.4L661.4 421.4L661.4 418.8L661.0 417.9Z"/><path d="M666.9 425.1L669.8 423.1L669.9 422.2L668.8 415.6L666.5 414.1L665.1 414.0L662.0 417.5L662.2 421.5L662.7 422.5L665.5 425.2Z"/><path d="M675.3 415.0L673.7 414.5L670.9 415.2L669.8 416.2L670.5 421.9L670.9 422.8L671.8 423.3L674.6 423.5L677.5 420.9L678.0 419.9L677.7 417.8Z"/><path d="M679.3 417.9L678.6 419.2L678.9 420.3L684.8 423.5L686.5 423.3L689.2 421.0L688.6 415.9L686.4 414.3L685.5 414.0L684.6 414.3Z"/><path d="M689.9 420.2L690.8 421.4L693.6 422.8L695.2 422.7L698.9 416.0L698.8 414.4L695.2 412.4L690.2 415.3L689.6 416.0L689.5 416.8Z"/><path d="M702.0 415.6L700.7 415.2L699.5 416.1L697.2 420.6L697.0 421.4L697.7 422.7L704.1 423.3L705.0 423.1L705.6 422.4L705.4 419.2L704.9 418.3Z"/><path d="M711.8 423.6L712.8 423.5L714.2 422.6L716.0 416.3L715.5 414.7L713.7 413.2L712.2 413.5L706.1 418.7L706.4 421.6L706.8 422.5Z"/><path d="M717.3 423.7L718.3 423.8L719.2 423.3L721.8 419.7L722.7 417.2L722.5 416.4L721.5 415.6L718.0 415.5L717.1 415.8L716.5 416.7L715.3 422.1L715.6 422.8Z"/><path d="M653.5 427.1L652.7 426.9L650.4 430.1L650.2 431.8L650.6 432.4L654.3 430.5Z"/><path d="M654.2 425.3L653.9 426.8L654.7 429.7L655.4 430.6L658.3 432.3L659.6 431.9L664.8 426.7L664.4 425.2L661.8 422.8L655.4 424.4Z"/><path d="M670.0 424.0L666.8 426.2L666.9 427.8L670.8 433.1L671.7 433.2L676.5 431.9L676.9 431.2L676.8 430.3L674.4 424.4L671.0 423.8Z"/><path d="M683.3 431.5L684.2 430.3L685.1 425.7L684.8 424.3L679.3 421.5L678.4 421.3L677.5 421.8L675.5 424.1L677.9 431.4L678.6 432.3L680.0 432.8Z"/><path d="M693.6 431.4L695.0 430.5L695.1 429.6L694.1 423.9L690.6 422.0L689.0 422.2L686.5 424.1L685.9 425.1L684.9 430.6L685.9 431.7L687.0 432.0Z"/><path d="M703.3 423.8L695.9 423.6L695.2 424.3L695.1 425.2L695.9 430.9L697.2 432.6L698.0 433.0L699.0 432.8L703.4 430.5L704.7 424.9L704.2 424.2Z"/><path d="M704.4 429.5L704.5 430.5L705.2 431.2L707.0 432.1L711.7 429.8L712.4 429.1L712.6 428.2L711.8 424.6L710.9 424.1L707.5 423.5L706.0 424.0Z"/><path d="M712.9 425.7L713.9 427.1L714.7 427.2L716.0 426.3L716.6 424.9L715.7 423.7L714.6 423.4L713.0 424.4Z"/><path d="M653.5 431.6L652.7 433.0L653.5 434.3L656.1 435.2L657.3 434.3L657.5 433.5L656.8 432.2L654.6 431.1Z"/><path d="M659.7 432.6L659.3 434.2L660.2 436.3L665.1 438.0L667.6 437.5L668.6 436.8L669.9 433.8L666.7 428.6L666.0 428.0L665.1 427.9L664.3 428.4Z"/><path d="M670.4 439.2L671.3 439.7L675.2 440.3L679.3 435.4L679.6 434.6L679.4 433.7L678.3 432.8L677.2 432.6L670.8 434.2L669.4 436.5L669.2 437.5Z"/><path d="M687.9 440.1L688.5 439.2L688.5 438.2L686.3 432.6L684.3 431.8L680.5 433.7L680.4 435.4L683.6 440.9L686.6 440.9Z"/><path d="M691.8 439.6L693.1 439.2L697.4 435.5L697.5 433.9L695.5 432.0L689.1 432.4L687.9 433.1L687.8 434.5L689.2 438.3L689.6 439.0Z"/><path d="M704.9 434.5L705.4 433.9L705.4 432.3L703.7 431.3L699.1 433.4L698.5 434.0L698.2 435.1L698.6 436.2L699.8 436.9Z"/><path d="M679.0 437.1L677.4 439.2L678.1 440.7L680.0 441.1L681.4 440.4L681.5 438.7L680.5 437.3Z"/><path d="M695.4 438.0L695.2 438.5L695.8 438.8L698.5 437.8L698.8 437.3L697.7 436.2Z"/></g>
</g>
<path d="M661.2 360.5L661.7 359.7L665.0 360.5L667.7 356.6L668.4 356.5L669.1 357.3L672.0 364.0L676.5 372.2L692.7 395.6L693.5 398.0L693.8 400.7L693.1 406.3L692.2 408.9L691.0 411.0L689.3 412.7L684.8 415.3L680.0 416.5L675.3 416.0L670.8 414.0L669.0 412.5L667.6 410.5L665.7 405.3L664.1 397.8L661.2 364.8Z" fill="url(#gCanal)" stroke="#3c8a2e" stroke-width="0.6"/>
<circle cx="679.2" cy="401.6" r="14.1" fill="#4f9a40"/>
<circle cx="679.2" cy="401.6" r="12.3" fill="url(#gZyg)" stroke="#c98674" stroke-width="0.7"/>
<circle cx="683.2" cy="403.1" r="2.6" fill="#7a78c6" opacity="0.75" filter="url(#fBlur1)"/>
<circle cx="683.2" cy="403.1" r="1.2" fill="#7a78c6"/>
<defs><path id="spm" d="M-1.800 -2.600C0.500 -3.600 2.400 -2.400 1.400 -0.800C0.600 0.400 -1.600 0.200 -1.200 1.600C-0.800 2.800 1.200 2.800 2 2" fill="none" stroke-linecap="round"/></defs>
<g stroke="#a8641a" stroke-width="2.1"><use href="#spm" transform="translate(852.6 177.7) rotate(90) scale(0.99)"/><use href="#spm" transform="translate(847.4 187.0) rotate(140) scale(0.93)"/><use href="#spm" transform="translate(838.0 198.6) rotate(0) scale(0.96)"/><use href="#spm" transform="translate(857.8 201.8) rotate(0) scale(0.87)"/><use href="#spm" transform="translate(848.4 210.0) rotate(0) scale(0.98)"/><use href="#spm" transform="translate(833.8 216.4) rotate(40) scale(0.81)"/><use href="#spm" transform="translate(811.9 216.4) rotate(140) scale(0.88)"/><use href="#spm" transform="translate(799.3 218.5) rotate(40) scale(0.82)"/><use href="#spm" transform="translate(793.0 227.9) rotate(140) scale(0.81)"/><use href="#spm" transform="translate(844.2 231.0) rotate(200) scale(0.82)"/><use href="#spm" transform="translate(823.4 245.6) rotate(40) scale(0.93)"/><use href="#spm" transform="translate(791.0 243.5) rotate(200) scale(0.99)"/><use href="#spm" transform="translate(857.8 250.8) rotate(200) scale(0.92)"/><use href="#spm" transform="translate(864.0 300.6) rotate(0) scale(1.00)"/><use href="#spm" transform="translate(846.3 320.4) rotate(0) scale(0.91)"/><use href="#spm" transform="translate(853.6 336.0) rotate(40) scale(0.86)"/><use href="#spm" transform="translate(742.0 312.0) rotate(40) scale(0.91)"/><use href="#spm" transform="translate(762.8 311.0) rotate(200) scale(0.86)"/><use href="#spm" transform="translate(723.0 321.4) rotate(310) scale(0.94)"/><use href="#spm" transform="translate(754.5 324.6) rotate(0) scale(0.92)"/><use href="#spm" transform="translate(656.6 350.4) rotate(250) scale(0.84)"/><use href="#spm" transform="translate(672.6 342.0) rotate(0) scale(0.91)"/><use href="#spm" transform="translate(793.7 385.4) rotate(0) scale(0.91)"/><use href="#spm" transform="translate(825.5 386.7) rotate(200) scale(0.84)"/><use href="#spm" transform="translate(747.5 402.0) rotate(250) scale(0.91)"/><use href="#spm" transform="translate(777.7 405.0) rotate(310) scale(0.86)"/></g><g stroke="#dd9234" stroke-width="1.1"><use href="#spm" transform="translate(852.6 177.7) rotate(90) scale(0.99)"/><use href="#spm" transform="translate(847.4 187.0) rotate(140) scale(0.93)"/><use href="#spm" transform="translate(838.0 198.6) rotate(0) scale(0.96)"/><use href="#spm" transform="translate(857.8 201.8) rotate(0) scale(0.87)"/><use href="#spm" transform="translate(848.4 210.0) rotate(0) scale(0.98)"/><use href="#spm" transform="translate(833.8 216.4) rotate(40) scale(0.81)"/><use href="#spm" transform="translate(811.9 216.4) rotate(140) scale(0.88)"/><use href="#spm" transform="translate(799.3 218.5) rotate(40) scale(0.82)"/><use href="#spm" transform="translate(793.0 227.9) rotate(140) scale(0.81)"/><use href="#spm" transform="translate(844.2 231.0) rotate(200) scale(0.82)"/><use href="#spm" transform="translate(823.4 245.6) rotate(40) scale(0.93)"/><use href="#spm" transform="translate(791.0 243.5) rotate(200) scale(0.99)"/><use href="#spm" transform="translate(857.8 250.8) rotate(200) scale(0.92)"/><use href="#spm" transform="translate(864.0 300.6) rotate(0) scale(1.00)"/><use href="#spm" transform="translate(846.3 320.4) rotate(0) scale(0.91)"/><use href="#spm" transform="translate(853.6 336.0) rotate(40) scale(0.86)"/><use href="#spm" transform="translate(742.0 312.0) rotate(40) scale(0.91)"/><use href="#spm" transform="translate(762.8 311.0) rotate(200) scale(0.86)"/><use href="#spm" transform="translate(723.0 321.4) rotate(310) scale(0.94)"/><use href="#spm" transform="translate(754.5 324.6) rotate(0) scale(0.92)"/><use href="#spm" transform="translate(656.6 350.4) rotate(250) scale(0.84)"/><use href="#spm" transform="translate(672.6 342.0) rotate(0) scale(0.91)"/><use href="#spm" transform="translate(793.7 385.4) rotate(0) scale(0.91)"/><use href="#spm" transform="translate(825.5 386.7) rotate(200) scale(0.84)"/><use href="#spm" transform="translate(747.5 402.0) rotate(250) scale(0.91)"/><use href="#spm" transform="translate(777.7 405.0) rotate(310) scale(0.86)"/></g>
<g fill="none" stroke="#76bf68" stroke-width="1.6" stroke-linecap="round"><path d="M450.0 498Q450.2 506.9 449.9 512.9"/><path d="M455.0 498Q455.5 509.5 454.5 517.2"/><path d="M461.0 498Q462.3 505.3 462.3 510.2"/><path d="M468.0 498Q470.0 506.9 470.9 512.8"/><path d="M474.0 498Q473.9 511.2 474.3 520.0"/><path d="M480.0 498Q480.5 506.3 481.9 511.8"/><path d="M486.0 498Q487.0 509.0 488.0 516.3"/><path d="M492.0 498Q493.0 505.7 493.8 510.8"/><path d="M497.0 498Q495.1 507.4 495.3 513.6"/><path d="M503.0 498Q503.9 508.6 505.4 515.7"/><path d="M508.0 498Q509.7 510.3 510.2 518.6"/><path d="M513.0 498Q512.8 511.0 514.0 519.6"/><path d="M518.0 498Q516.4 511.5 514.5 520.5"/><path d="M523.0 498Q524.9 506.8 525.6 512.6"/><path d="M528.0 498Q527.2 509.7 526.8 517.5"/></g>
<defs><linearGradient id="gGP" x1="0" y1="0" x2="0" y2="1"><stop offset="0" stop-color="#a4d98f"/><stop offset="0.55" stop-color="#86c873"/><stop offset="1" stop-color="#6cb75e"/></linearGradient></defs>
<path d="M405.3 485.6C406.4 481.0 405.3 482.7 415.6 478.7C425.9 474.7 426.0 477.0 436.3 473.6C446.6 470.2 440.3 469.0 446.6 468.4C452.9 467.8 450.9 467.9 455.2 471.8C459.5 475.7 455.9 476.9 459.5 480.0C463.1 483.1 461.7 483.1 466.0 481.0C470.3 478.9 466.2 474.9 472.4 473.6C478.6 472.3 472.4 474.1 484.5 477.0C496.6 479.9 494.8 481.6 508.6 482.2C522.4 482.8 515.5 481.0 525.8 478.7C536.1 476.4 532.6 474.7 539.5 475.3C546.4 475.9 546.4 475.2 546.4 480.4C546.4 485.6 547.5 483.9 539.5 490.8C531.5 497.7 536.1 496.4 522.3 501.0C508.5 505.6 513.1 502.2 498.2 504.5C483.3 506.8 490.2 506.8 477.6 508.0C465.0 509.2 470.7 510.3 460.4 508.0C450.1 505.7 456.9 505.0 446.6 501.0C436.3 497.0 440.9 498.8 429.4 496.0C417.9 493.2 420.2 496.0 412.2 492.5C404.2 489.0 404.2 490.2 405.3 485.6Z" fill="url(#gGP)" stroke="#5fae55" stroke-width="0.8"/>
<path d="M415 481Q436 476 447 471Q454 474 457 483Q440 480 432 488Q420 486 415 481Z" fill="#b5e2a2" opacity="0.8"/>
<path d="M474 476Q490 480 509 485Q527 481 539 478Q530 488 510 491Q490 490 476 484Z" fill="#b5e2a2" opacity="0.75"/>
<path d="M446 500Q460 504 478 505Q500 502 522 499" fill="none" stroke="#5aa850" stroke-width="1" opacity="0.6"/>
<g fill="none" stroke="#3a9a55" stroke-width="0.6"><path d="M474.5 530.6Q470.5 531.6 465.7 536.6"/><path d="M474.5 536.9Q472.5 539.8 467.6 546.8"/><path d="M474.5 537.9Q474.4 539.7 471.4 545.5"/><path d="M474.5 537.6Q477.1 540.4 478.0 547.2"/><path d="M474.5 528.5Q477.4 530.8 482.0 537.0"/><path d="M474.5 526.8Q478.5 528.2 485.9 533.7"/><path d="M474.5 535.6Q478.8 535.1 484.8 538.6"/><path d="M474.5 535.2Q468.4 534.7 461.5 538.1"/></g>
<path d="M459.7 423.7C460.3 431.1 460.1 430.6 461.5 446.0C462.9 461.4 461.6 455.1 463.8 470.0C466.0 484.9 465.1 477.0 468.0 490.8C470.9 504.6 469.9 496.7 472.4 511.4C474.9 526.1 473.8 521.8 475.5 535.0C477.2 548.2 476.9 545.7 477.6 551.0" fill="none" stroke="#0f7c3e" stroke-width="5.2" stroke-linecap="round"/>
<path d="M459.7 423.7C460.3 431.1 460.1 430.6 461.5 446.0C462.9 461.4 461.6 455.1 463.8 470.0C466.0 484.9 465.1 477.0 468.0 490.8C470.9 504.6 469.9 496.7 472.4 511.4C474.9 526.1 473.8 521.8 475.5 535.0C477.2 548.2 476.9 545.7 477.6 551.0" fill="none" stroke="#1fa254" stroke-width="3.6" stroke-linecap="round"/>
<path d="M467 478Q470 468 474 461Q477 456 475.500 452.500Q472.500 449.500 471.500 453Q472 456.500 475 455" fill="none" stroke="#0f7c3e" stroke-width="4.2" stroke-linecap="round"/>
<path d="M467 478Q470 468 474 461Q477 456 475.500 452.500Q472.500 449.500 471.500 453Q472 456.500 475 455" fill="none" stroke="#1fa254" stroke-width="2.8" stroke-linecap="round"/>
<path d="M457.0 423.7C452.7 425.1 451.1 425.4 446.6 428.8C442.1 432.2 443.9 432.6 441.0 436.0C438.1 439.4 440.0 440.5 436.3 440.9C432.6 441.3 429.6 441.7 427.7 437.4C425.8 433.1 430.9 430.7 429.4 425.4C427.9 420.1 425.4 423.3 422.5 418.5C419.6 413.7 418.0 412.5 419.0 408.2C420.0 403.9 421.2 403.0 426.0 403.0C430.8 403.0 432.1 407.1 436.3 408.2C440.5 409.3 437.9 405.9 441.0 407.0C444.1 408.1 447.4 413.4 447.5 412.0C447.6 410.6 445.6 406.9 441.5 402.0C437.4 397.1 437.2 398.0 432.9 394.4C428.6 390.8 427.0 392.6 426.0 389.2C425.0 385.8 425.6 383.9 429.4 382.4C433.2 380.9 437.3 385.5 439.7 384.0C442.1 382.5 436.1 380.1 438.0 377.2C439.9 374.3 443.0 372.7 446.6 373.8C450.2 374.9 448.7 375.1 450.8 381.0C452.9 386.9 453.1 395.0 454.2 395.0C455.3 395.0 454.5 386.9 454.8 381.0C455.1 375.1 452.7 375.3 455.2 373.8C457.7 372.3 460.4 372.6 463.8 375.5C467.2 378.4 467.8 379.2 467.3 384.0C466.8 388.8 463.5 386.8 462.1 392.7C460.7 398.6 461.1 403.5 462.3 405.0C463.5 406.5 463.2 401.0 466.5 398.0C469.8 395.0 469.6 394.9 474.1 394.4C478.6 393.9 479.3 393.7 482.7 396.1C486.1 398.5 486.7 399.1 486.2 403.0C485.7 406.9 481.0 406.0 481.0 409.9C481.0 413.8 485.4 412.0 486.2 416.8C487.0 421.6 486.4 422.2 484.0 427.0C481.6 431.8 480.8 434.0 477.6 434.0C474.4 434.0 475.8 431.0 472.4 427.1C469.0 423.2 468.4 421.2 465.5 420.2C462.6 419.2 464.5 422.7 462.1 423.7C459.7 424.7 461.3 422.3 457.0 423.7Z" fill="#1fa254" stroke="#0f7c3e" stroke-width="1"/>
<g fill="none" stroke="#0f7c3e" stroke-width="0.8" opacity="0.8"><path d="M459.500 424Q450 415 432 410"/><path d="M459.500 424Q450 404 437 388"/><path d="M459.500 424Q459 400 459 382"/><path d="M460 424Q468 410 479 402"/><path d="M460 424Q470 420 479 424"/></g>
<path d="M440 386Q447 392 452 402M428 408Q438 412 446 418" fill="none" stroke="#45bf74" stroke-width="1.2" opacity="0.6"/>
<path d="M149.3 296.5C146.1 292.6 146.9 292.9 137.3 289.3C127.7 285.7 132.5 286.9 120.4 285.7C108.3 284.5 113.9 284.1 101.1 285.7C88.3 287.3 93.9 286.9 81.9 290.5C69.9 294.1 72.3 293.9 65.0 296.5C57.7 299.1 63.2 297.3 60.0 298.2C56.8 299.1 58.7 297.1 55.5 299.2C52.3 301.3 53.8 301.4 50.5 304.5C47.2 307.6 52.1 303.9 45.7 308.5C39.3 313.1 40.1 310.2 31.3 318.2C22.5 326.2 26.1 321.4 19.3 332.6C12.5 343.8 15.0 339.1 10.8 351.9C6.6 364.7 8.3 359.9 6.7 371.1C5.1 382.3 4.6 379.0 6.0 385.6C7.4 392.2 7.6 391.0 10.8 391.0C14.0 391.0 13.3 393.8 15.7 385.6C18.1 377.4 15.6 378.3 18.0 366.3C20.4 354.3 18.5 359.9 22.9 349.5C27.3 339.1 23.7 343.4 31.3 335.0C38.9 326.6 38.6 328.9 45.7 324.2C52.8 319.5 48.2 322.0 52.5 320.8C56.8 319.6 55.2 322.4 58.5 320.5C61.8 318.6 59.5 318.2 62.5 315.0C65.5 311.8 60.9 315.1 67.4 310.9C73.9 306.7 70.7 307.7 81.9 302.5C93.1 297.3 88.3 298.1 101.1 295.3C113.9 292.5 108.3 293.3 120.4 294.1C132.5 294.9 128.5 295.4 137.3 297.7C146.1 300.0 142.9 301.4 146.9 301.0C150.9 300.6 152.5 300.4 149.3 296.5Z" fill="#1fa254" stroke="#128a45" stroke-width="0.8"/>
<path d="M140.0 292.0C133.5 290.7 133.4 289.3 120.4 288.0C107.4 286.7 113.9 286.5 101.1 288.0C88.3 289.5 93.9 289.0 81.9 292.5C69.9 296.0 77.1 292.5 65.0 298.5C52.9 304.5 56.9 303.2 45.7 310.5C34.5 317.8 39.7 312.7 31.3 320.5C22.9 328.3 26.8 323.5 20.5 334.0C14.2 344.5 16.4 339.7 12.5 352.0C8.6 364.3 10.0 364.7 8.7 371.0" fill="none" stroke="#45bf74" stroke-width="1.6" opacity="0.55"/>
<ellipse cx="57" cy="309.700" rx="3.2" ry="2.2" transform="rotate(-30 57 309.700)" fill="#5cc486" stroke="#128a45" stroke-width="0.5"/>
<g stroke="#c98a3a" stroke-width="0.7" fill="none"><path d="M110.8 297.0L95.0 301.3"/><path d="M110.8 297.0L98.7 306.0"/><path d="M110.8 297.0L103.5 309.7"/><path d="M110.8 297.0L108.4 308.5"/><path d="M110.8 297.0L113.2 305.0"/><path d="M110.8 297.0L120.4 300.3"/></g>
<g fill="#eda23a" stroke="#c47a1c" stroke-width="0.6"><ellipse cx="95.0" cy="301.3" rx="3.4" ry="2.3" transform="rotate(165 95.0 301.3)"/><ellipse cx="98.7" cy="306.0" rx="3.4" ry="2.3" transform="rotate(143 98.7 306.0)"/><ellipse cx="103.5" cy="309.7" rx="3.4" ry="2.3" transform="rotate(120 103.5 309.7)"/><ellipse cx="108.4" cy="308.5" rx="3.4" ry="2.3" transform="rotate(102 108.4 308.5)"/><ellipse cx="113.2" cy="305.0" rx="3.4" ry="2.3" transform="rotate(73 113.2 305.0)"/><ellipse cx="120.4" cy="300.3" rx="3.4" ry="2.3" transform="rotate(19 120.4 300.3)"/></g>
<g stroke="#c98a3a" stroke-width="0.7" fill="none"><path d="M31.3 341.5L38.5 336.5"/><path d="M31.3 341.5L41.4 341.8"/><path d="M31.3 341.5L42.1 347.5"/><path d="M31.3 341.5L38.5 353.0"/><path d="M31.3 341.5L32.5 355.5"/><path d="M31.3 341.5L26.5 357.9"/><path d="M31.3 341.5L35.5 346.0"/></g>
<g fill="#eda23a" stroke="#c47a1c" stroke-width="0.6"><ellipse cx="38.5" cy="336.5" rx="3.4" ry="2.3" transform="rotate(-35 38.5 336.5)"/><ellipse cx="41.4" cy="341.8" rx="3.4" ry="2.3" transform="rotate(2 41.4 341.8)"/><ellipse cx="42.1" cy="347.5" rx="3.4" ry="2.3" transform="rotate(29 42.1 347.5)"/><ellipse cx="38.5" cy="353.0" rx="3.4" ry="2.3" transform="rotate(58 38.5 353.0)"/><ellipse cx="32.5" cy="355.5" rx="3.4" ry="2.3" transform="rotate(85 32.5 355.5)"/><ellipse cx="26.5" cy="357.9" rx="3.4" ry="2.3" transform="rotate(106 26.5 357.9)"/><ellipse cx="35.5" cy="346.0" rx="3.4" ry="2.3" transform="rotate(47 35.5 346.0)"/></g>
<circle cx="188.3" cy="496.8" r="4.2" fill="#5cc989"/>
<path d="M198.0 511.5C197.0 509.8 196.8 509.5 195.0 506.5C193.2 503.5 193.8 504.4 192.5 502.5C191.2 500.6 191.1 502.0 191.1 500.8C191.1 499.7 191.9 500.4 192.6 499.1C193.2 497.8 193.1 498.3 193.1 496.9C193.1 495.4 193.2 496.0 192.5 494.7C191.9 493.5 192.3 493.9 191.1 493.1C190.0 492.3 190.5 492.5 189.1 492.3C187.7 492.1 188.3 492.0 187.0 492.5C185.7 492.9 186.1 492.6 185.2 493.6C184.2 494.5 184.5 494.1 184.1 495.4C183.7 496.6 183.8 496.1 184.0 497.4C184.2 498.7 184.0 498.2 184.8 499.3C185.6 500.3 185.2 500.0 186.3 500.5C187.5 501.1 187.0 501.0 188.2 501.0C189.5 501.0 189.0 501.1 190.1 500.5C191.2 499.9 191.1 499.7 191.5 499.2" fill="none" stroke="#0f7c3e" stroke-width="3.4" stroke-linecap="round"/>
<path d="M198.0 511.5C197.0 509.8 196.8 509.5 195.0 506.5C193.2 503.5 193.8 504.4 192.5 502.5C191.2 500.6 191.1 502.0 191.1 500.8C191.1 499.7 191.9 500.4 192.6 499.1C193.2 497.8 193.1 498.3 193.1 496.9C193.1 495.4 193.2 496.0 192.5 494.7C191.9 493.5 192.3 493.9 191.1 493.1C190.0 492.3 190.5 492.5 189.1 492.3C187.7 492.1 188.3 492.0 187.0 492.5C185.7 492.9 186.1 492.6 185.2 493.6C184.2 494.5 184.5 494.1 184.1 495.4C183.7 496.6 183.8 496.1 184.0 497.4C184.2 498.7 184.0 498.2 184.8 499.3C185.6 500.3 185.2 500.0 186.3 500.5C187.5 501.1 187.0 501.0 188.2 501.0C189.5 501.0 189.0 501.1 190.1 500.5C191.2 499.9 191.1 499.7 191.5 499.2" fill="none" stroke="#2eb366" stroke-width="2.3" stroke-linecap="round"/>
<path d="M188.8 498.8q1.800 -1.600 0.500 -3" fill="none" stroke="#0f7c3e" stroke-width="1" stroke-linecap="round"/>
<path d="M364.1 448.6L363.8 447.8L363.5 447.0L363.4 446.2L363.2 445.4L363.1 444.6L362.8 443.8L362.4 443.1L362.0 442.4L361.6 441.7L361.3 441.0L361.0 440.2L360.0 439.9L359.0 441.3L358.6 442.4L358.3 443.5L358.2 444.4L358.3 445.3L358.5 446.1L358.8 446.8L359.0 447.6L359.2 448.4L359.3 449.3L359.5 450.1L360.3 450.5ZM361.7 451.6L362.5 452.2L363.4 452.5L364.3 452.6L365.2 452.5L366.2 452.2L367.1 452.0L368.1 451.7L369.1 451.6L370.0 451.3L371.0 450.8L372.1 450.1L373.4 448.5L372.7 447.6L371.8 447.5L370.9 447.6L369.9 447.7L369.0 447.7L368.1 447.6L367.2 447.4L366.4 447.3L365.4 447.3L364.5 447.4L363.6 447.5L362.7 447.5ZM357.6 455.2L357.5 453.9L357.1 452.8L356.6 451.7L356.0 450.6L355.3 449.6L354.7 448.6L354.1 447.5L353.7 446.4L353.4 445.2L352.8 444.1L352.1 443.2L350.4 442.7L349.3 444.7L349.2 446.2L349.3 447.5L349.5 448.7L349.7 450.0L349.8 451.3L350.0 452.6L350.3 453.8L350.9 454.9L351.6 455.9L352.3 456.9L353.1 457.8ZM354.7 459.1L356.0 460.0L357.4 460.1L358.9 460.1L360.4 460.1L361.8 460.3L363.3 460.5L364.7 460.6L366.2 460.5L367.8 460.1L369.4 459.5L371.1 458.7L372.9 457.2L371.7 456.1L370.3 455.7L369.0 455.3L367.5 454.9L366.1 454.8L364.6 454.8L363.1 454.9L361.7 454.8L360.2 454.6L358.9 454.2L357.5 453.7L356.0 454.0ZM351.5 462.1L351.2 460.3L350.1 459.0L349.0 457.8L348.0 456.5L347.2 455.1L346.5 453.6L345.8 452.1L345.0 450.7L343.9 449.4L342.8 448.3L341.5 447.2L339.5 446.6L338.9 449.1L338.9 451.0L339.1 452.9L339.5 454.7L340.1 456.2L340.9 457.7L341.8 459.0L342.7 460.3L343.5 461.8L344.2 463.3L344.9 464.8L346.4 465.7ZM348.2 466.9L349.9 467.5L351.7 467.9L353.5 468.4L355.2 469.0L357.0 469.4L358.9 469.4L360.9 469.3L362.9 468.9L364.8 468.6L366.8 468.3L368.9 467.8L371.2 466.1L369.8 464.4L368.0 463.7L366.2 463.4L364.3 463.3L362.5 463.1L360.7 462.8L358.9 462.2L357.1 461.7L355.3 461.2L353.5 461.0L351.6 460.9L349.7 460.9ZM345.7 469.7L344.6 468.0L343.5 466.4L342.5 464.7L341.7 462.9L340.6 461.2L339.4 459.7L338.1 458.3L336.7 456.8L335.5 455.3L334.4 453.7L333.0 452.2L330.7 451.6L330.0 454.6L330.3 456.8L331.0 458.8L331.9 460.6L332.9 462.3L333.8 464.0L334.6 465.9L335.4 467.8L336.3 469.5L337.5 471.0L338.9 472.4L340.5 473.7ZM342.2 474.9L344.1 475.9L346.1 476.7L348.1 477.1L350.3 477.2L352.4 477.2L354.6 477.3L356.7 477.5L358.8 477.8L361.0 477.8L363.2 477.4L365.6 476.6L368.3 474.9L366.6 473.1L364.5 472.6L362.5 472.1L360.5 471.6L358.5 470.9L356.5 470.3L354.4 470.0L352.2 469.9L350.1 469.8L348.1 469.4L346.1 468.6L343.9 468.5ZM340.0 477.5L339.1 475.3L337.9 473.3L336.4 471.5L334.8 469.9L333.2 468.2L331.9 466.3L330.8 464.2L329.5 462.2L328.0 460.5L326.3 458.9L324.5 457.4L322.0 456.4L321.6 459.7L322.3 462.1L323.3 464.2L324.3 466.4L325.2 468.6L326.1 470.9L327.3 472.9L328.7 474.7L330.3 476.4L331.8 478.2L333.0 480.2L334.7 481.7ZM336.3 482.8L338.4 484.4L341.0 484.8L343.5 485.2L345.9 486.0L348.2 486.9L350.7 487.5L353.3 487.7L356.0 487.6L358.6 487.7L361.2 487.9L364.0 487.7L367.2 486.1L365.2 484.2L362.8 483.3L360.5 482.3L358.1 481.3L355.7 480.6L353.2 480.2L350.6 479.9L348.2 479.2L345.9 478.1L343.6 477.1L341.1 476.5L338.5 476.5ZM334.3 485.4L333.5 483.0L331.8 481.4L330.1 479.8L328.7 478.0L327.6 475.9L326.4 473.9L325.0 472.1L323.3 470.5L321.6 468.9L320.0 467.2L318.4 465.5L315.8 464.7L315.6 467.8L316.2 470.3L316.9 472.8L317.8 475.1L319.0 477.0L320.5 478.8L321.9 480.7L323.1 482.7L324.1 484.8L325.4 486.8L327.0 488.5L329.0 489.8ZM330.4 490.8L332.8 492.0L335.3 493.0L337.7 494.3L340.1 495.3L342.9 495.8L345.6 496.2L348.3 496.8L350.9 497.6L353.6 498.1L356.5 498.1L359.6 497.8L363.0 496.7L360.9 494.5L358.6 493.0L356.2 491.9L353.5 491.2L350.9 490.6L348.3 489.6L345.9 488.4L343.5 487.3L340.8 486.7L338.1 486.1L335.6 485.2L333.0 484.4ZM328.7 493.2L327.3 491.2L325.8 489.4L324.5 487.3L323.3 485.2L321.7 483.4L319.9 481.7L318.2 480.1L316.7 478.2L315.4 476.2L313.8 474.3L311.8 472.9L309.0 472.2L308.7 475.6L309.4 478.2L310.5 480.4L311.8 482.4L313.0 484.5L314.1 486.8L315.2 489.0L316.6 491.0L318.4 492.7L320.1 494.3L321.6 496.2L323.3 497.9ZM324.4 498.7L326.6 500.5L329.0 502.0L331.6 503.0L334.4 503.6L337.0 504.5L339.5 505.8L342.1 506.9L344.9 507.5L347.9 507.7L350.8 508.1L353.7 508.4L357.3 507.4L355.6 504.8L353.1 503.5L350.5 502.5L348.1 501.2L345.7 499.7L343.2 498.5L340.5 497.7L337.8 496.9L335.3 495.6L333.0 494.1L330.5 492.8L327.6 492.4ZM323.0 501.1L321.9 498.6L320.6 496.3L318.9 494.2L316.9 492.3L315.2 490.2L313.9 487.8L312.6 485.4L310.9 483.3L308.9 481.4L307.0 479.5L305.2 477.5L302.4 476.4L302.0 480.0L303.0 482.7L304.1 485.2L305.1 487.9L306.0 490.5L307.4 492.9L309.1 495.0L310.8 497.0L312.2 499.4L313.4 501.8L314.9 504.1L317.3 505.6ZM318.2 506.4L320.2 508.8L323.0 510.0L325.7 511.3L328.1 513.0L330.6 514.8L333.4 515.9L336.4 516.8L339.2 517.9L341.9 519.2L344.9 520.2L348.2 520.5L352.1 520.0L350.3 517.3L347.9 515.5L345.6 513.6L343.2 511.8L340.5 510.5L337.7 509.3L335.1 507.8L332.8 505.9L330.3 504.2L327.5 503.1L324.8 501.8L322.2 500.3Z" fill="#1fa254" stroke="#0f7c3e" stroke-width="0.7" stroke-linejoin="round"/>
<path d="M361.8 447.1Q361.0 444.4 360.2 441.6M363.3 448.1Q365.7 447.8 369.4 447.8M354.7 453.6Q353.2 450.0 351.6 445.9M357.0 455.2Q361.0 455.3 366.8 455.9M347.9 460.7Q345.4 456.3 342.3 451.0M351.1 462.7Q356.1 463.2 363.4 464.3M341.7 468.2Q338.6 463.2 334.4 457.0M345.5 470.6Q351.2 471.3 359.5 472.7M335.7 475.8Q331.9 470.1 326.8 462.8M340.3 478.9Q347.0 480.3 356.8 482.8M330.0 483.8Q326.0 478.2 320.7 471.0M334.7 487.1Q341.7 489.1 352.0 492.5M324.2 491.7Q320.0 486.0 314.4 478.7M329.0 495.3Q336.0 498.0 346.3 502.3M318.3 499.2Q313.9 492.6 308.0 484.1M323.2 503.6Q330.3 507.3 340.8 513.2" fill="none" stroke="#45bf74" stroke-width="1.6" stroke-linecap="round" opacity="0.55"/>
<path d="M362.2 449.5Q361.0 446.6 360.0 440.6M362.2 449.5Q365.7 450.0 372.6 448.8M355.3 456.5Q353.2 452.2 350.6 443.8M355.3 456.5Q361.0 457.5 371.6 457.4M348.9 463.9Q345.4 458.5 340.1 447.9M348.9 463.9Q356.1 465.4 369.6 466.2M343.1 471.7Q338.6 465.4 331.4 453.1M343.1 471.7Q351.2 473.5 366.4 474.9M337.4 479.6Q331.9 472.3 323.0 458.1M337.4 479.6Q347.0 482.5 365.0 485.9M331.7 487.6Q326.0 480.4 316.8 466.4M331.7 487.6Q341.7 491.3 360.7 496.2M326.0 495.5Q320.0 488.2 310.1 473.9M326.0 495.5Q336.0 500.2 355.1 506.8M320.2 503.4Q313.9 494.8 303.5 478.3M320.2 503.4Q330.3 509.5 349.8 519.0" fill="none" stroke="#0f7c3e" stroke-width="0.7" opacity="0.85"/>
<path d="M367.0 444.8L366.4 445.4L365.7 446.1L364.8 446.9L363.9 447.9L362.9 448.9L361.8 449.9L360.7 451.1L359.5 452.3L358.3 453.5L357.0 454.7L355.8 456.0L354.6 457.3L353.5 458.5L352.4 459.8L351.3 461.0L350.3 462.2L349.3 463.4L348.3 464.7L347.4 465.9L346.4 467.2L345.4 468.5L344.5 469.8L343.5 471.1L342.6 472.4L341.6 473.8L340.6 475.1L339.6 476.5L338.6 477.9L337.6 479.3L336.6 480.7L335.5 482.2L334.4 483.7L333.3 485.2L332.2 486.8L331.0 488.5L329.9 490.1L328.7 491.8L327.6 493.4L326.4 495.0L325.3 496.6L324.1 498.1L323.1 499.6L322.0 501.0L321.0 502.4L320.0 503.6L319.0 504.8L318.1 505.9L317.1 507.0L316.2 508.1L315.2 509.1L314.3 510.1L313.4 511.0L312.5 511.9L311.7 512.7L310.9 513.5L310.2 514.2L309.6 514.9L309.0 515.5L308.4 516.0L308.0 516.5L308.0 516.5" fill="none" stroke="#0f7c3e" stroke-width="3.0" stroke-linecap="round"/>
<path d="M367.0 444.8L366.4 445.4L365.7 446.1L364.8 446.9L363.9 447.9L362.9 448.9L361.8 449.9L360.7 451.1L359.5 452.3L358.3 453.5L357.0 454.7L355.8 456.0L354.6 457.3L353.5 458.5L352.4 459.8L351.3 461.0L350.3 462.2L349.3 463.4L348.3 464.7L347.4 465.9L346.4 467.2L345.4 468.5L344.5 469.8L343.5 471.1L342.6 472.4L341.6 473.8L340.6 475.1L339.6 476.5L338.6 477.9L337.6 479.3L336.6 480.7L335.5 482.2L334.4 483.7L333.3 485.2L332.2 486.8L331.0 488.5L329.9 490.1L328.7 491.8L327.6 493.4L326.4 495.0L325.3 496.6L324.1 498.1L323.1 499.6L322.0 501.0L321.0 502.4L320.0 503.6L319.0 504.8L318.1 505.9L317.1 507.0L316.2 508.1L315.2 509.1L314.3 510.1L313.4 511.0L312.5 511.9L311.7 512.7L310.9 513.5L310.2 514.2L309.6 514.9L309.0 515.5L308.4 516.0L308.0 516.5L308.0 516.5" fill="none" stroke="#25a85a" stroke-width="1.8" stroke-linecap="round"/>
<path d="M368.9 370.6L369.1 369.6L369.4 368.6L369.7 367.6L370.1 366.5L370.3 365.5L370.5 364.5L370.6 363.5L370.8 362.5L371.1 361.5L371.5 360.5L371.8 359.5L371.2 358.4L369.4 359.4L368.2 360.3L367.2 361.3L366.5 362.3L366.0 363.3L365.7 364.3L365.4 365.3L365.0 366.4L364.6 367.4L364.3 368.4L364.0 369.4L364.6 370.4ZM365.7 372.4L366.2 373.2L366.9 373.6L367.7 373.8L368.6 373.8L369.5 373.7L370.4 373.6L371.4 373.5L372.3 373.5L373.3 373.3L374.4 372.8L375.7 372.1L377.4 370.6L377.0 369.9L376.1 369.8L375.2 369.9L374.3 369.8L373.5 369.7L372.7 369.5L371.9 369.3L371.1 369.1L370.2 369.0L369.4 369.0L368.6 368.8L367.8 368.6ZM358.0 375.7L358.3 374.0L358.1 372.3L357.9 370.6L357.5 369.0L357.2 367.3L357.0 365.7L357.0 363.9L357.1 362.2L357.1 360.5L357.0 358.8L356.6 357.2L355.3 355.7L353.5 357.8L352.8 359.6L352.4 361.4L352.1 363.2L351.7 365.0L351.3 366.8L351.1 368.5L351.1 370.2L351.4 371.9L351.8 373.5L352.2 375.2L352.7 376.8ZM354.5 378.8L355.6 379.7L357.0 379.8L358.4 379.9L359.8 380.1L361.1 380.3L362.5 380.5L363.9 380.5L365.4 380.2L367.0 379.7L368.6 379.0L370.3 378.1L372.3 376.4L371.2 375.5L369.9 375.1L368.5 374.8L367.2 374.6L365.8 374.6L364.3 374.7L362.9 374.8L361.5 374.7L360.2 374.4L358.9 374.0L357.6 373.4L356.1 373.7ZM347.7 382.4L347.6 380.0L346.6 377.9L346.0 375.7L345.6 373.4L345.4 371.0L345.0 368.7L344.2 366.5L343.4 364.3L342.8 362.1L342.4 359.8L341.7 357.6L339.8 355.8L338.2 358.7L337.9 361.3L337.9 363.7L337.7 366.2L337.5 368.7L337.6 371.1L338.2 373.4L338.9 375.6L339.6 377.8L340.0 380.1L340.3 382.4L341.6 384.4ZM344.0 386.5L345.8 387.1L347.6 387.5L349.4 388.0L351.2 388.3L353.1 388.4L355.0 388.2L357.0 387.7L359.0 387.2L361.0 386.8L363.0 386.3L365.1 385.5L367.5 383.3L365.9 381.8L364.1 381.4L362.2 381.5L360.3 381.6L358.4 381.5L356.5 381.3L354.7 380.9L352.9 380.5L351.0 380.4L349.1 380.3L347.3 380.3L345.4 380.3ZM338.3 390.2L337.2 387.6L336.4 384.8L335.5 382.1L334.1 379.6L332.5 377.2L331.4 374.6L330.7 371.7L329.7 369.0L328.3 366.6L326.8 364.2L325.4 361.7L323.0 359.7L322.0 363.4L322.3 366.5L322.7 369.5L322.9 372.5L323.5 375.4L324.6 378.1L325.9 380.6L326.8 383.3L327.4 386.2L328.5 388.8L330.1 391.2L331.8 393.5ZM334.7 395.5L337.1 396.5L339.7 396.8L342.2 396.5L344.8 396.1L347.3 396.0L349.9 396.1L352.4 396.1L355.0 395.4L357.7 394.4L360.3 393.3L362.9 392.3L365.7 389.9L363.3 388.2L360.8 388.0L358.3 388.2L355.7 388.4L353.2 388.3L350.7 387.9L348.2 387.8L345.6 388.1L343.0 388.4L340.5 388.4L338.0 387.9L335.4 388.3ZM329.6 399.5L328.8 396.2L327.1 393.5L325.0 390.9L323.5 388.1L322.5 384.9L321.1 382.0L319.1 379.4L317.5 376.6L316.2 373.6L314.8 370.7L312.7 368.2L309.9 366.1L309.4 370.2L309.9 373.6L310.4 377.1L311.3 380.4L312.7 383.3L314.2 386.2L315.1 389.4L316.2 392.5L318.0 395.2L319.9 397.8L321.3 400.7L323.3 403.3ZM326.4 405.1L329.0 405.8L331.6 405.4L334.3 405.2L336.9 405.4L339.5 405.5L342.2 404.9L344.8 403.9L347.5 403.1L350.1 402.5L352.8 401.7L355.5 400.3L358.2 397.4L355.6 396.1L353.0 396.2L350.3 396.1L347.7 395.9L345.1 396.0L342.4 396.6L339.8 397.2L337.1 397.2L334.5 396.9L331.9 396.7L329.2 397.0L326.6 397.7ZM321.5 409.2L320.0 406.1L317.7 403.6L316.2 400.5L314.7 397.4L312.5 394.8L310.4 392.2L308.8 389.1L307.3 386.0L305.2 383.3L302.9 380.8L300.9 378.1L297.9 376.1L297.7 380.4L298.3 384.1L299.6 387.4L301.3 390.3L302.6 393.6L303.7 396.9L305.5 399.8L307.7 402.4L309.4 405.4L310.8 408.6L312.8 411.3L315.4 413.6ZM318.4 415.1L321.3 415.4L324.2 415.7L327.1 416.0L330.1 415.6L333.0 414.8L336.0 414.4L338.9 414.3L341.8 413.8L344.8 412.7L347.8 411.3L350.7 409.9L353.7 407.3L350.8 406.2L347.9 405.8L345.0 405.6L342.0 405.9L339.1 406.6L336.2 406.8L333.2 406.6L330.3 406.5L327.4 406.9L324.4 407.5L321.5 407.4L318.6 407.7ZM313.8 419.4L311.6 415.9L309.7 412.3L307.2 409.1L304.4 406.1L302.5 402.4L300.5 398.9L297.7 395.9L295.4 392.6L293.5 389.0L290.8 385.9L288.0 382.9L284.6 380.5L284.9 385.3L286.0 389.5L287.8 393.3L289.9 396.8L291.4 400.7L293.3 404.4L295.9 407.5L298.0 411.0L299.8 414.7L302.5 417.8L305.1 420.8L307.7 423.9ZM310.6 425.4L313.9 426.5L317.2 426.5L320.5 425.8L323.8 425.6L327.1 425.9L330.4 425.7L333.7 424.7L337.0 423.8L340.3 423.4L343.7 422.6L347.0 420.9L350.4 418.1L347.2 416.8L343.9 416.3L340.6 416.4L337.3 417.0L334.0 417.0L330.7 416.7L327.4 416.8L324.1 417.5L320.8 417.7L317.5 417.2L314.2 417.0L310.9 417.9ZM306.4 429.7L304.6 426.0L301.9 423.2L299.1 420.5L297.0 417.0L294.9 413.7L292.0 411.0L289.6 407.9L287.6 404.5L285.0 401.5L282.2 398.8L279.6 395.8L276.0 393.7L276.4 398.5L278.1 402.2L279.6 406.1L281.3 409.8L283.8 412.9L286.0 416.1L287.7 419.8L290.1 422.9L292.9 425.7L295.1 429.0L297.2 432.3L300.5 434.7ZM303.3 436.0L306.6 436.8L310.0 436.3L313.3 436.4L316.6 436.8L319.9 436.4L323.3 435.5L326.7 435.0L330.0 434.9L333.3 434.0L336.7 432.5L340.1 431.1L343.5 428.4L340.2 426.9L336.9 427.1L333.6 427.1L330.2 426.8L326.9 426.8L323.6 427.6L320.2 427.9L316.9 427.5L313.6 427.3L310.2 427.9L306.9 428.2L303.6 428.3ZM299.5 440.4L296.8 436.8L293.5 433.6L291.1 429.8L287.8 426.8L284.5 423.7L282.1 419.8L278.9 416.6L275.6 413.6L273.0 409.9L269.8 406.7L266.3 403.9L262.2 401.6L263.4 406.8L265.6 410.8L267.6 415.1L270.2 418.8L273.2 422.1L275.5 426.2L278.3 429.7L281.7 432.7L284.2 436.4L287.1 439.9L290.6 442.7L293.9 445.8ZM296.6 447.0L300.0 447.2L303.5 447.7L306.9 448.0L310.4 447.3L313.9 446.7L317.3 446.8L320.8 446.6L324.3 445.5L327.8 444.4L331.3 443.6L334.8 442.4L338.4 439.3L334.9 438.1L331.5 437.7L328.0 437.4L324.5 437.8L321.1 438.4L317.6 438.2L314.2 437.9L310.7 438.4L307.2 439.0L303.7 438.7L300.3 438.2L296.8 439.2ZM293.4 451.5L290.2 448.2L287.4 444.5L283.9 441.7L280.4 438.7L277.7 435.0L274.2 432.0L270.7 429.1L267.9 425.4L264.5 422.4L260.9 419.7L257.7 416.5L253.2 414.6L254.7 419.7L256.8 424.1L259.7 427.7L262.6 431.2L265.1 435.3L268.4 438.4L271.6 441.6L274.3 445.4L277.7 448.4L281.2 451.3L284.0 455.0L288.0 457.3ZM290.6 458.4L294.4 459.4L298.3 459.3L302.2 458.5L306.0 458.6L309.9 458.8L313.7 458.0L317.6 457.0L321.4 456.8L325.3 456.1L329.2 454.5L333.1 453.1L337.0 450.3L333.2 449.0L329.3 448.4L325.5 448.7L321.6 449.3L317.7 449.1L313.9 448.9L310.0 449.6L306.2 450.0L302.3 449.5L298.5 449.5L294.6 450.2L290.8 450.5ZM288.0 463.0L284.9 459.3L281.0 456.7L277.2 454.0L274.1 450.4L270.2 447.8L266.5 445.1L263.3 441.5L259.5 438.9L255.7 436.1L252.3 432.9L248.3 430.5L243.6 428.8L245.5 434.1L248.5 437.8L251.6 441.5L254.4 445.4L258.1 448.3L261.4 451.6L264.5 455.3L268.4 457.9L271.9 460.9L275.1 464.4L279.2 466.8L283.1 469.3ZM285.5 470.2L289.5 470.9L293.5 470.2L297.5 470.5L301.5 470.5L305.5 469.5L309.4 468.9L313.4 468.9L317.4 467.9L321.4 466.4L325.3 465.6L329.3 464.1L333.3 460.9L329.3 459.3L325.3 459.5L321.3 459.9L317.3 459.6L313.4 459.8L309.4 460.8L305.4 460.8L301.4 460.5L297.5 461.2L293.5 461.7L289.5 461.2L285.5 462.1ZM283.5 474.8L280.3 472.0L276.5 470.4L273.3 467.6L269.9 465.3L266.0 463.7L262.6 461.2L259.4 458.5L255.7 456.7L252.0 454.8L248.7 452.3L244.9 450.5L240.5 449.9L242.5 454.6L245.4 457.9L248.7 460.5L251.7 463.7L254.7 466.6L258.4 468.6L261.7 471.1L264.8 474.0L268.5 475.9L272.2 477.7L275.4 480.5L279.4 481.8ZM281.7 482.4L285.3 482.3L289.0 482.5L292.7 482.6L296.3 481.5L300.0 480.7L303.6 480.6L307.3 480.0L310.9 478.4L314.5 477.2L318.1 476.3L321.7 474.4L325.2 471.1L321.5 469.9L317.8 469.6L314.1 470.2L310.5 471.0L306.8 471.0L303.2 471.1L299.5 472.0L295.9 472.8L292.2 472.6L288.5 472.7L284.9 473.6L281.3 474.2Z" fill="#1fa254" stroke="#0f7c3e" stroke-width="0.7" stroke-linejoin="round"/>
<path d="M366.9 367.7Q367.3 364.3 368.8 360.7M367.6 369.2Q369.7 369.3 373.3 369.8M355.1 372.7Q354.5 367.4 354.5 361.1M356.9 375.0Q360.6 375.2 366.2 375.7M343.9 379.2Q342.2 372.4 340.6 363.6M346.9 382.1Q352.0 382.2 359.5 382.6M333.6 387.2Q330.3 379.5 326.3 369.2M338.1 390.4Q345.1 390.1 355.2 389.9M324.6 396.4Q320.2 388.0 314.7 376.8M329.6 399.7Q336.9 399.0 347.4 398.1M316.2 406.5Q310.9 398.1 304.1 386.8M321.9 409.7Q330.1 408.9 341.7 408.0M308.0 416.1Q301.4 406.4 292.7 393.2M314.7 420.0Q323.8 419.4 336.9 418.7M300.5 426.9Q293.7 417.9 284.6 405.6M307.4 430.5Q316.6 429.9 329.8 429.0M293.1 437.6Q284.7 427.8 273.3 414.5M300.8 441.4Q310.4 440.7 324.1 439.9M286.8 449.1Q277.7 439.7 265.3 427.0M295.3 452.7Q305.9 452.0 321.2 451.0M281.2 461.1Q271.2 452.3 257.3 440.4M290.3 464.4Q301.3 463.3 317.1 462.0M277.3 474.1Q267.5 467.5 254.0 458.5M285.8 476.3Q296.0 474.8 310.4 472.9" fill="none" stroke="#45bf74" stroke-width="1.6" stroke-linecap="round" opacity="0.55"/>
<path d="M366.7 370.5Q367.3 366.5 370.6 359.2M366.7 370.5Q369.7 371.5 376.5 370.9M355.3 376.3Q354.5 369.6 355.1 357.2M355.3 376.3Q360.6 377.4 371.0 376.7M344.7 383.4Q342.2 374.6 339.9 357.8M344.7 383.4Q352.0 384.4 365.8 383.6M335.1 391.9Q330.3 381.7 323.6 362.1M335.1 391.9Q345.1 392.3 363.5 390.3M326.5 401.4Q320.2 390.2 310.8 368.7M326.5 401.4Q336.9 401.2 356.0 398.0M318.5 411.4Q310.9 400.3 299.1 378.7M318.5 411.4Q330.1 411.1 351.2 407.9M310.8 421.7Q301.4 408.6 286.2 383.5M310.8 421.7Q323.8 421.6 347.6 418.7M303.4 432.2Q293.7 420.1 277.7 396.6M303.4 432.2Q316.6 432.1 340.7 429.0M296.7 443.1Q284.7 430.0 264.5 404.7M296.7 443.1Q310.4 442.9 335.4 439.9M290.7 454.4Q277.7 441.9 255.6 417.6M290.7 454.4Q305.9 454.2 333.7 450.9M285.5 466.1Q271.2 454.5 246.4 431.6M285.5 466.1Q301.3 465.5 329.9 461.6M281.5 478.3Q267.5 469.7 243.2 452.1M281.5 478.3Q296.0 477.0 322.2 471.9" fill="none" stroke="#0f7c3e" stroke-width="0.7" opacity="0.85"/>
<path d="M376.5 368.0L375.4 368.3L374.1 368.6L372.5 369.0L370.7 369.4L368.7 369.9L366.6 370.6L364.4 371.4L362.1 372.4L359.8 373.6L357.4 375.0L354.8 376.6L352.0 378.3L349.2 380.1L346.4 382.1L343.5 384.3L340.7 386.6L338.0 389.0L335.3 391.6L332.6 394.4L329.9 397.4L327.2 400.6L324.5 403.8L321.8 407.1L319.2 410.4L316.7 413.8L314.2 417.1L311.7 420.4L309.2 423.8L306.7 427.3L304.4 430.8L302.0 434.3L299.8 437.8L297.7 441.3L295.7 444.8L293.8 448.3L292.0 451.8L290.3 455.2L288.7 458.7L287.1 462.2L285.7 465.7L284.4 469.0L283.2 472.4L282.2 475.6L281.3 479.0L280.5 482.4L279.9 485.7L279.4 489.0L278.9 492.1L278.5 495.1L278.1 497.7L277.8 500.0L277.5 502.0L277.3 503.7L277.2 505.1L277.1 506.3L277.1 507.4L277.1 508.3L277.0 509.0L277.0 509.7L277.0 510.0" fill="none" stroke="#0f7c3e" stroke-width="3.4" stroke-linecap="round"/>
<path d="M376.5 368.0L375.4 368.3L374.1 368.6L372.5 369.0L370.7 369.4L368.7 369.9L366.6 370.6L364.4 371.4L362.1 372.4L359.8 373.6L357.4 375.0L354.8 376.6L352.0 378.3L349.2 380.1L346.4 382.1L343.5 384.3L340.7 386.6L338.0 389.0L335.3 391.6L332.6 394.4L329.9 397.4L327.2 400.6L324.5 403.8L321.8 407.1L319.2 410.4L316.7 413.8L314.2 417.1L311.7 420.4L309.2 423.8L306.7 427.3L304.4 430.8L302.0 434.3L299.8 437.8L297.7 441.3L295.7 444.8L293.8 448.3L292.0 451.8L290.3 455.2L288.7 458.7L287.1 462.2L285.7 465.7L284.4 469.0L283.2 472.4L282.2 475.6L281.3 479.0L280.5 482.4L279.9 485.7L279.4 489.0L278.9 492.1L278.5 495.1L278.1 497.7L277.8 500.0L277.5 502.0L277.3 503.7L277.2 505.1L277.1 506.3L277.1 507.4L277.1 508.3L277.0 509.0L277.0 509.7L277.0 510.0" fill="none" stroke="#25a85a" stroke-width="2.2" stroke-linecap="round"/>
<g fill="none" stroke="#b08f6c" stroke-width="1.1" stroke-linecap="round"><path d="M268.2 516.6C268.6 516.1 268.3 516.0 269.2 515.0C270.1 514.0 270.3 514.8 270.9 513.6C271.5 512.5 271.3 513.1 271.0 511.7C270.8 510.2 270.3 510.6 270.2 509.2C270.1 507.8 269.9 508.4 270.7 507.4C271.6 506.4 271.5 507.0 272.9 506.3C274.3 505.5 274.2 506.1 275.0 505.1C275.8 504.1 275.2 503.8 275.4 503.2"/><path d="M189.8 518.4C189.2 518.8 189.0 518.6 188.1 519.6C187.1 520.6 187.5 520.0 187.1 521.5C186.7 523.0 187.5 522.7 186.9 524.1C186.4 525.4 186.8 524.9 185.5 525.5C184.1 526.2 184.5 525.6 182.8 526.0C181.2 526.5 181.6 525.9 180.6 526.9C179.7 527.8 180.2 527.4 180.0 529.0C179.7 530.6 180.0 530.8 180.0 531.7"/><path d="M247.9 507.4C248.2 507.9 247.9 508.2 248.9 508.8C249.8 509.3 249.5 508.9 250.7 509.1C252.0 509.3 251.8 508.7 252.6 509.4C253.4 510.2 252.9 509.9 253.0 511.4C253.2 512.8 252.7 512.5 253.1 513.7C253.5 514.9 253.1 514.5 254.3 514.9C255.4 515.2 255.1 514.8 256.5 514.7C258.0 514.7 257.9 514.8 258.6 514.8"/><path d="M222.9 518.5C222.4 519.0 222.1 518.8 221.5 519.9C220.9 521.0 221.1 520.4 221.1 521.8C221.1 523.2 221.8 522.9 221.4 524.1C221.1 525.4 221.4 524.8 220.1 525.5C218.9 526.3 219.1 525.6 217.7 526.3C216.3 526.9 216.5 526.3 216.0 527.4C215.4 528.5 215.8 528.0 216.0 529.6C216.2 531.1 216.3 531.2 216.5 532.1"/><path d="M267.5 509.1C267.5 508.8 267.8 508.6 267.3 508.1C266.8 507.6 266.9 507.9 266.0 507.7C265.1 507.4 264.9 507.9 264.7 507.3C264.4 506.7 264.7 506.9 265.2 505.8C265.7 504.8 266.0 505.0 266.2 504.1C266.4 503.3 266.5 503.5 265.8 503.2C265.1 502.8 265.1 503.2 263.9 503.1C262.8 503.0 262.8 502.9 262.3 502.9"/><path d="M315.7 525.8C315.5 525.3 315.1 525.3 315.3 524.4C315.4 523.5 315.3 524.0 316.0 523.1C316.8 522.3 317.2 522.8 317.5 521.9C317.8 521.1 317.7 521.5 317.0 520.6C316.3 519.6 316.1 520.0 315.3 519.1C314.5 518.2 314.4 518.6 314.6 517.7C314.8 516.9 314.9 517.3 315.9 516.5C316.9 515.7 317.1 515.7 317.7 515.3"/><path d="M213.0 520.4C213.4 520.0 213.7 520.2 214.2 519.1C214.7 518.0 214.1 518.2 214.5 517.0C214.9 515.8 214.3 516.1 215.4 515.5C216.5 514.8 216.3 515.4 217.8 515.1C219.3 514.8 219.0 515.3 219.9 514.5C220.8 513.7 220.3 514.2 220.5 512.7C220.6 511.3 220.1 511.6 220.2 510.2C220.3 508.8 220.6 509.0 220.8 508.4"/><path d="M233.7 507.8C234.0 508.1 234.3 508.0 234.6 508.7C235.0 509.4 235.1 508.9 234.8 509.9C234.5 510.8 234.0 510.6 233.7 511.5C233.4 512.4 233.2 512.1 233.9 512.7C234.6 513.2 234.6 512.8 235.8 513.2C237.0 513.6 236.9 513.2 237.5 513.9C238.0 514.5 237.9 514.1 237.4 515.1C237.0 516.1 236.6 516.2 236.1 516.8"/><path d="M186.4 521.5C186.3 522.0 186.3 522.0 186.1 522.9C185.9 523.9 186.6 523.7 185.9 524.4C185.2 525.1 185.3 524.6 184.1 524.9C182.9 525.2 182.9 524.7 182.2 525.4C181.5 526.0 181.8 525.7 182.0 526.9C182.2 528.1 182.5 527.7 182.8 529.0C183.0 530.2 183.3 529.8 182.7 530.5C182.1 531.3 181.5 530.9 181.0 531.1"/><path d="M227.7 512.5C227.1 512.8 227.0 512.7 226.0 513.3C224.9 514.0 225.1 513.3 224.6 514.4C224.0 515.6 224.6 515.4 224.3 516.8C223.9 518.1 224.4 517.8 223.5 518.6C222.5 519.3 222.9 518.8 221.3 518.9C219.8 519.0 220.2 518.5 218.9 518.9C217.6 519.2 218.0 518.8 217.5 520.0C217.0 521.2 217.3 521.6 217.3 522.4"/><path d="M285.0 520.5C284.7 520.2 284.5 520.3 284.2 519.7C283.8 519.1 283.6 519.5 284.0 518.7C284.4 517.9 284.8 518.1 285.3 517.3C285.8 516.5 286.0 516.8 285.5 516.2C285.0 515.6 285.0 516.0 283.9 515.5C282.8 515.1 282.7 515.5 282.2 514.9C281.6 514.3 281.7 514.7 282.2 513.9C282.6 513.1 283.1 512.9 283.6 512.5"/><path d="M187.2 513.8C186.9 513.5 186.5 513.7 186.3 512.9C186.1 512.1 186.4 512.4 186.6 511.4C186.7 510.4 187.2 510.5 186.7 509.9C186.2 509.3 186.3 509.7 185.0 509.5C183.8 509.3 183.9 509.7 183.0 509.3C182.1 508.9 182.3 509.2 182.4 508.2C182.5 507.3 182.8 507.5 183.2 506.4C183.7 505.2 183.5 505.3 183.7 504.7"/><path d="M308.7 525.5C308.8 526.0 309.2 526.0 308.9 526.9C308.6 527.8 308.4 527.3 307.8 528.2C307.2 529.1 306.8 528.7 307.0 529.6C307.2 530.5 307.4 530.1 308.4 531.0C309.3 532.0 309.5 531.5 309.9 532.5C310.2 533.4 310.2 533.0 309.6 533.9C308.9 534.8 308.7 534.3 307.8 535.2C306.8 536.1 307.0 536.1 306.6 536.5"/><path d="M200.3 520.1C199.9 519.6 199.8 519.8 199.1 518.6C198.5 517.4 199.2 517.5 198.3 516.7C197.4 515.8 197.9 516.2 196.4 516.0C194.9 515.7 195.2 516.3 193.9 515.8C192.6 515.4 193.0 515.8 192.5 514.6C191.9 513.3 192.5 513.7 192.2 512.1C192.0 510.5 192.5 510.9 191.7 509.8C191.0 508.8 190.5 509.3 189.9 509.0"/><path d="M198.0 515.6C198.0 515.0 197.7 515.1 197.8 513.9C197.9 512.7 198.5 513.1 198.3 512.0C198.0 510.9 198.2 511.5 197.2 510.6C196.1 509.7 196.0 510.3 195.0 509.4C194.1 508.5 194.2 509.1 194.3 507.9C194.4 506.7 194.7 507.2 195.3 505.9C196.0 504.5 196.2 505.0 196.2 503.8C196.2 502.7 195.6 502.8 195.3 502.3"/><path d="M258.0 509.8C258.1 510.3 257.8 510.5 258.5 511.2C259.1 511.8 258.8 511.5 259.9 511.7C261.0 512.0 261.0 511.3 261.8 511.8C262.7 512.3 262.3 512.0 262.3 513.2C262.4 514.4 262.0 514.1 261.9 515.4C261.9 516.6 261.6 516.3 262.2 516.9C262.9 517.5 262.7 517.1 264.0 517.2C265.3 517.2 265.4 517.1 266.2 517.0"/><path d="M277.0 521.1C276.8 521.5 276.9 521.6 276.5 522.3C276.0 523.0 276.6 523.0 275.7 523.2C274.9 523.4 275.0 523.0 273.8 522.9C272.7 522.8 272.9 522.4 272.4 523.0C271.8 523.6 272.2 523.4 272.2 524.6C272.2 525.8 272.6 525.6 272.4 526.7C272.3 527.7 272.6 527.4 271.7 527.6C270.8 527.8 270.4 527.4 269.8 527.2"/><path d="M239.6 507.7C239.4 507.2 239.6 507.2 239.1 506.1C238.6 505.0 238.2 505.6 238.1 504.5C238.0 503.4 238.1 503.9 238.8 502.8C239.6 501.6 239.9 502.1 240.4 501.0C240.8 499.8 240.9 500.4 240.3 499.3C239.7 498.2 239.6 498.8 238.5 497.8C237.5 496.7 237.4 497.3 237.1 496.2C236.8 495.1 237.5 495.1 237.6 494.5"/><path d="M193.4 523.3C193.0 523.4 192.7 523.2 192.3 523.8C191.9 524.4 192.0 524.0 192.2 525.0C192.4 525.9 192.9 525.9 192.8 526.7C192.8 527.4 192.9 527.1 192.0 527.3C191.0 527.5 191.1 527.2 190.0 527.2C188.8 527.3 188.9 527.0 188.6 527.5C188.2 528.1 188.4 527.9 188.8 528.9C189.2 530.0 189.4 530.2 189.7 530.8"/><path d="M282.6 521.4C282.1 521.0 282.2 521.0 281.2 520.3C280.2 519.7 280.2 520.4 279.5 519.5C278.8 518.6 279.2 519.0 279.2 517.6C279.1 516.2 279.6 516.4 279.3 515.2C279.0 514.1 279.3 514.5 278.2 514.0C277.0 513.5 277.2 514.0 275.8 513.7C274.3 513.5 274.6 514.0 273.8 513.2C272.9 512.4 273.4 512.0 273.3 511.4"/><path d="M205.7 520.4C205.4 520.7 205.6 521.0 204.7 521.3C203.8 521.6 203.9 521.0 202.9 521.3C202.0 521.6 202.2 521.1 201.9 522.1C201.6 523.2 202.1 523.1 202.0 524.3C201.9 525.6 202.3 525.4 201.6 525.9C201.0 526.5 201.2 526.2 200.0 526.0C198.7 525.9 199.0 525.5 197.8 525.6C196.7 525.6 197.0 526.0 196.6 526.2"/><path d="M314.8 520.6C314.8 521.1 314.4 521.1 314.8 522.2C315.1 523.2 315.4 522.7 315.9 523.7C316.5 524.7 316.7 524.2 316.4 525.2C316.0 526.3 315.7 525.8 314.8 526.8C313.8 527.9 313.7 527.4 313.6 528.4C313.4 529.5 313.4 528.9 314.3 529.9C315.1 530.9 315.2 530.4 316.1 531.4C317.0 532.4 316.6 532.4 316.9 532.9"/><path d="M239.3 506.7C239.5 506.2 239.3 506.0 239.9 505.3C240.6 504.6 240.1 504.7 241.2 504.5C242.3 504.4 242.3 505.0 243.3 504.7C244.3 504.4 244.0 504.7 244.3 503.6C244.6 502.6 244.2 502.8 244.2 501.5C244.2 500.1 243.8 500.4 244.3 499.6C244.9 498.8 244.6 499.2 245.9 499.1C247.1 499.1 247.4 499.3 248.1 499.4"/><path d="M251.9 509.2C251.7 509.5 252.0 509.6 251.3 510.1C250.7 510.6 250.5 510.1 249.9 510.6C249.2 511.1 249.2 510.7 249.5 511.6C249.7 512.5 250.1 512.3 250.5 513.4C250.9 514.5 251.1 514.2 250.7 514.8C250.3 515.4 250.4 515.0 249.2 515.2C248.0 515.4 248.1 515.0 247.2 515.4C246.3 515.7 246.7 516.0 246.5 516.3"/><path d="M233.7 515.2C233.6 515.9 234.0 516.0 233.5 517.1C232.9 518.3 232.9 517.6 232.0 518.6C231.0 519.7 230.8 518.9 230.6 520.2C230.4 521.4 230.8 520.9 231.3 522.4C231.9 523.8 232.2 523.3 232.4 524.6C232.5 525.9 232.7 525.3 231.8 526.4C230.9 527.4 230.9 526.8 229.6 527.7C228.4 528.6 228.5 528.7 228.0 529.2"/><path d="M234.0 514.2C233.9 514.7 234.3 514.9 233.8 515.6C233.3 516.4 233.6 516.0 232.5 516.4C231.5 516.9 231.4 516.3 230.8 517.0C230.2 517.7 230.5 517.4 230.8 518.5C231.2 519.7 231.5 519.4 231.8 520.5C232.1 521.6 232.4 521.3 231.8 522.0C231.2 522.6 231.3 522.2 230.0 522.6C228.8 522.9 228.7 522.8 228.0 523.0"/></g>
<g fill="none" stroke="#a88360" stroke-width="3" stroke-linecap="round"><path d="M200.0 521.0C199.6 521.7 200.0 521.9 198.9 523.0C197.8 524.2 198.0 523.4 196.8 524.5C195.5 525.5 195.7 524.7 195.2 526.2C194.7 527.7 195.2 527.1 195.3 528.9C195.4 530.7 195.8 530.0 195.6 531.7C195.4 533.3 195.8 532.7 194.7 533.8C193.7 535.0 194.1 534.3 192.4 535.2C190.8 536.0 190.7 536.0 189.8 536.4"/><path d="M213.0 516.0C212.8 516.8 213.1 516.8 212.4 518.3C211.7 519.8 211.5 519.0 210.9 520.5C210.4 522.1 210.3 521.3 210.7 522.9C211.1 524.6 211.3 523.9 212.0 525.6C212.8 527.3 212.9 526.5 212.9 528.1C212.8 529.8 213.0 529.0 212.0 530.4C211.0 531.9 211.2 531.1 210.0 532.6C208.7 534.0 208.9 534.0 208.3 534.7"/><path d="M230.0 513.0C229.8 514.2 230.1 514.3 229.5 516.6C228.9 518.9 229.6 517.9 228.3 519.9C227.0 522.0 227.2 520.8 225.7 522.8C224.2 524.8 224.5 523.7 223.8 525.9C223.1 528.2 223.4 527.1 223.5 529.6C223.6 532.1 224.0 531.0 224.1 533.5C224.2 536.1 224.5 534.9 223.8 537.2C223.1 539.5 222.6 539.3 222.0 540.3"/><path d="M246.0 513.0C245.7 513.9 245.3 513.9 245.0 515.8C244.7 517.7 244.6 516.7 245.1 518.7C245.5 520.7 245.9 519.8 246.2 521.8C246.6 523.8 246.8 522.8 246.2 524.7C245.6 526.6 245.8 525.6 244.5 527.4C243.3 529.2 243.4 528.3 242.5 530.1C241.5 531.9 241.6 531.0 241.6 532.9C241.6 534.8 242.2 534.9 242.5 535.9"/><path d="M260.0 514.0C260.3 515.0 260.0 515.1 260.9 517.0C261.8 518.9 261.9 517.8 262.8 519.7C263.6 521.6 263.6 520.5 263.5 522.7C263.5 524.8 263.1 523.8 262.7 526.1C262.2 528.3 262.0 527.3 262.1 529.4C262.3 531.5 262.0 530.5 263.1 532.3C264.2 534.2 264.0 533.2 265.4 535.0C266.9 536.7 266.9 536.7 267.6 537.6"/><path d="M275.0 517.0C275.0 517.8 275.4 517.9 274.9 519.5C274.4 521.2 274.5 520.3 273.5 521.9C272.6 523.5 272.4 522.6 272.1 524.2C271.8 525.9 272.0 525.1 272.6 526.9C273.2 528.7 273.3 527.8 274.0 529.6C274.6 531.4 274.7 530.6 274.5 532.3C274.3 533.9 274.5 533.1 273.4 534.6C272.3 536.2 272.0 536.1 271.3 536.9"/><path d="M290.0 520.0C290.1 520.9 289.7 521.0 290.2 522.6C290.6 524.2 290.2 523.4 291.3 524.8C292.5 526.2 292.5 525.3 293.6 526.7C294.7 528.1 294.4 527.3 294.6 529.0C294.8 530.7 294.6 529.9 294.1 531.8C293.6 533.6 293.4 532.9 293.2 534.6C293.1 536.4 292.8 535.6 293.6 537.1C294.4 538.7 294.9 538.5 295.5 539.2"/><path d="M304.0 525.0C303.9 525.7 303.6 525.6 303.7 527.0C303.8 528.5 304.2 527.9 304.3 529.3C304.3 530.7 304.6 530.1 303.8 531.3C302.9 532.5 302.9 531.8 301.6 532.9C300.3 534.0 300.5 533.3 299.9 534.6C299.2 535.8 299.4 535.2 299.6 536.7C299.9 538.1 300.1 537.5 300.7 539.1C301.4 540.6 301.3 540.6 301.6 541.4"/><path d="M223.0 514.0C223.7 514.5 223.7 514.6 225.2 515.6C226.6 516.7 226.3 515.8 227.4 517.2C228.5 518.6 227.9 517.9 228.4 519.8C228.9 521.8 228.3 521.2 228.9 522.9C229.6 524.7 229.0 524.0 230.5 525.1C231.9 526.2 231.3 525.6 233.2 526.2C235.1 526.9 234.5 526.3 236.2 527.1C237.9 528.0 237.6 528.3 238.3 528.9"/></g>
<path d="M194.0 521.5C197.3 520.3 196.7 520.8 204.0 518.0C211.3 515.2 208.0 515.2 216.0 513.0C224.0 510.8 219.3 512.3 228.0 511.5C236.7 510.7 232.7 510.7 242.0 510.5C251.3 510.3 246.7 509.8 256.0 511.0C265.3 512.2 260.7 512.0 270.0 514.0C279.3 516.0 275.0 514.7 284.0 517.0C293.0 519.3 289.0 518.0 297.0 521.0C305.0 524.0 301.7 523.3 308.0 526.0C314.3 528.7 313.3 528.0 316.0 529.0" fill="none" stroke="#9a7655" stroke-width="9" stroke-linecap="round"/>
<path d="M194.0 521.5C197.3 520.3 196.7 520.8 204.0 518.0C211.3 515.2 208.0 515.2 216.0 513.0C224.0 510.8 219.3 512.3 228.0 511.5C236.7 510.7 232.7 510.7 242.0 510.5C251.3 510.3 246.7 509.8 256.0 511.0C265.3 512.2 260.7 512.0 270.0 514.0C279.3 516.0 275.0 514.7 284.0 517.0C293.0 519.3 289.0 518.0 297.0 521.0C305.0 524.0 301.7 523.3 308.0 526.0C314.3 528.7 313.3 528.0 316.0 529.0" fill="none" stroke="#bb9872" stroke-width="7.4" stroke-linecap="round"/>
<path d="M194.0 519.0C197.3 517.8 196.7 518.3 204.0 515.5C211.3 512.7 208.0 512.7 216.0 510.5C224.0 508.3 219.3 509.8 228.0 509.0C236.7 508.2 232.7 508.2 242.0 508.0C251.3 507.8 246.7 507.3 256.0 508.5C265.3 509.7 260.7 509.5 270.0 511.5C279.3 513.5 275.0 512.2 284.0 514.5C293.0 516.8 289.0 515.5 297.0 518.5C305.0 521.5 301.7 520.8 308.0 523.5C314.3 526.2 313.3 525.5 316.0 526.5" fill="none" stroke="#d2b692" stroke-width="2.6" stroke-linecap="round" opacity="0.7"/>
<path d="M310 523.500Q316 522.500 319.500 526.500Q320.500 532 315 533" fill="#bb9872" stroke="#9a7655" stroke-width="0.8"/>
<path d="M244.9 303.3L244.3 302.5L243.7 301.6L243.1 300.8L242.5 300.0L241.8 299.2L241.0 298.6L240.3 297.9L239.7 297.1L239.1 296.2L238.5 295.3L237.8 294.6L236.6 294.6L236.1 296.8L236.1 298.3L236.3 299.7L236.6 300.8L237.2 301.8L237.7 302.6L238.3 303.5L238.8 304.4L239.4 305.4L239.9 306.3L240.6 307.0L241.8 307.1ZM243.8 307.7L244.6 308.2L245.3 307.9L245.9 307.5L246.6 307.0L247.2 306.4L247.9 306.0L248.5 305.5L249.2 305.0L249.8 304.3L250.4 303.3L250.9 302.0L251.3 299.8L250.4 299.2L249.7 299.5L249.1 300.0L248.4 300.3L247.7 300.5L247.0 300.7L246.3 300.9L245.6 301.3L245.0 301.8L244.3 302.2L243.6 302.5L242.9 302.8ZM236.9 313.0L235.9 311.3L234.5 310.3L232.9 309.4L231.4 308.5L229.9 307.5L228.6 306.3L227.3 305.0L226.1 303.7L224.8 302.5L223.3 301.5L221.7 300.8L219.5 300.9L219.6 303.9L220.5 305.8L221.5 307.5L222.5 309.2L223.5 310.8L224.6 312.4L225.8 313.9L227.1 315.1L228.6 316.0L230.1 316.9L231.6 317.8L233.2 318.6ZM235.9 319.1L237.3 319.2L238.6 318.5L239.9 318.0L241.3 317.6L242.6 317.2L244.0 316.7L245.2 315.9L246.4 314.8L247.5 313.5L248.6 312.0L249.7 310.5L250.5 307.9L248.8 307.1L247.4 307.2L246.0 307.4L244.7 307.9L243.4 308.6L242.1 309.4L240.9 310.1L239.6 310.6L238.2 310.9L236.8 311.1L235.4 311.3L234.2 312.6ZM230.0 323.8L228.2 322.1L226.0 321.0L224.1 319.4L222.3 317.6L220.4 316.1L218.2 314.9L216.0 313.8L213.9 312.5L212.0 310.9L210.1 309.4L207.8 308.4L204.8 308.7L205.3 312.5L206.8 314.8L208.5 316.8L210.1 318.9L211.6 321.1L213.3 323.0L215.3 324.4L217.5 325.6L219.6 326.9L221.4 328.6L223.3 330.3L225.9 330.8ZM228.8 331.2L230.8 331.1L232.8 330.9L234.7 330.7L236.6 330.2L238.4 329.2L240.2 328.0L242.0 326.8L243.7 325.8L245.6 324.8L247.3 323.6L248.9 321.8L250.2 318.4L247.9 317.0L245.9 317.2L244.0 317.8L242.2 318.6L240.3 319.2L238.4 319.6L236.4 319.9L234.5 320.2L232.6 320.8L230.8 321.7L228.9 322.6L227.1 323.3ZM223.8 335.5L221.3 333.7L218.9 331.8L216.2 330.4L213.3 329.4L210.6 328.2L208.2 326.3L205.7 324.4L203.0 323.2L200.1 322.3L197.4 320.9L194.7 319.6L191.2 319.9L192.6 324.0L194.8 326.3L197.0 328.6L199.2 331.1L201.4 333.3L204.1 334.8L206.8 336.0L209.3 337.8L211.6 339.9L214.2 341.4L217.1 342.3L220.1 343.1ZM223.2 343.4L225.9 343.7L228.2 342.8L230.4 341.4L232.6 340.2L235.0 339.4L237.4 338.7L239.6 337.6L241.7 335.9L243.7 333.9L245.8 332.1L247.8 330.2L249.3 326.7L246.4 325.6L243.9 326.1L241.6 327.2L239.3 328.1L236.9 328.6L234.4 329.1L232.1 330.0L229.9 331.3L227.7 332.6L225.3 333.3L222.8 333.7L220.7 335.3ZM219.0 347.8L215.9 345.5L212.2 344.8L208.7 343.8L205.5 341.8L202.1 340.3L198.5 339.6L195.0 338.3L191.8 336.4L188.3 335.2L184.7 334.6L181.1 333.5L177.1 333.9L179.5 338.2L182.6 340.5L185.8 342.7L188.8 345.3L192.0 347.1L195.5 348.2L198.8 349.9L202.0 352.1L205.5 353.3L209.1 354.0L212.4 355.6L216.1 356.3ZM219.0 356.2L221.7 355.9L223.9 354.6L226.4 353.8L228.9 353.3L231.3 352.3L233.5 350.7L235.6 348.9L237.8 347.3L240.1 346.0L242.2 344.3L244.1 341.9L245.5 338.0L242.5 337.3L240.0 337.9L237.4 338.4L234.9 339.0L232.5 340.1L230.3 341.6L228.0 342.8L225.5 343.5L223.0 344.0L220.5 344.9L218.3 346.3L216.1 347.9ZM215.9 360.7L212.2 359.4L208.4 358.4L204.8 356.6L201.0 355.9L197.1 355.5L193.5 353.9L189.8 352.5L185.9 352.1L182.1 351.3L178.4 350.0L174.5 349.6L170.2 350.7L173.3 354.5L176.8 356.9L180.2 359.5L183.8 361.0L187.6 362.0L191.1 364.0L194.7 365.7L198.6 366.2L202.4 367.2L205.9 369.0L209.7 369.8L213.8 369.8ZM216.6 369.5L219.4 368.8L222.4 368.2L225.1 367.1L227.6 365.3L230.0 363.5L232.7 362.2L235.4 361.1L237.9 359.3L240.1 356.9L242.3 354.6L244.6 352.3L246.1 348.2L242.8 347.8L239.8 348.2L236.9 349.0L234.3 350.4L231.8 352.1L229.1 353.2L226.2 353.9L223.4 355.0L220.9 356.8L218.4 358.4L215.6 359.3L213.1 360.9ZM214.3 373.9L210.3 372.5L206.3 371.0L202.1 370.8L198.0 370.1L194.0 368.3L189.9 367.7L185.7 367.4L181.7 365.9L177.6 364.9L173.4 364.9L169.2 364.4L164.8 365.5L168.3 369.3L172.1 372.1L176.0 373.8L180.0 375.0L183.9 377.1L187.9 378.6L192.0 379.0L196.0 380.4L200.0 382.1L204.2 382.3L208.3 382.9L212.5 383.3ZM215.4 383.0L218.8 382.8L221.5 381.2L224.0 379.1L226.8 377.7L229.8 376.7L232.6 375.1L234.9 372.6L237.4 370.4L240.1 368.7L242.6 366.6L244.7 363.6L246.1 359.2L242.4 358.6L239.3 359.4L236.6 361.0L233.8 362.6L230.7 363.5L227.8 364.6L225.2 366.4L222.6 368.4L219.7 369.6L216.6 370.4L213.8 371.9L211.4 374.3ZM213.6 387.3L209.3 385.4L204.8 385.5L200.4 384.6L196.1 383.1L191.6 383.0L187.2 382.3L182.9 380.7L178.4 380.6L174.0 380.1L169.6 379.0L165.1 379.1L160.4 380.4L164.3 384.5L168.5 386.7L172.8 387.9L177.0 390.1L181.3 391.6L185.8 392.0L190.1 393.6L194.4 395.0L198.9 395.0L203.2 396.1L207.6 397.5L212.2 396.9ZM214.9 396.5L218.2 395.7L221.0 393.8L224.2 392.9L227.4 391.7L230.1 389.5L232.7 387.3L235.7 385.8L238.7 384.2L241.2 381.7L243.6 378.8L246.1 376.2L247.8 371.9L243.9 371.3L240.8 372.7L237.7 373.9L234.4 374.7L231.4 376.3L228.7 378.4L225.7 379.9L222.5 380.8L219.4 382.2L216.7 384.4L213.8 386.0L210.9 387.7ZM213.9 400.7L209.2 399.9L204.6 399.1L199.9 398.0L195.2 398.3L190.5 397.4L185.9 396.3L181.2 396.6L176.5 395.7L171.9 394.9L167.1 395.3L162.4 395.0L157.6 396.6L161.9 400.5L166.5 402.0L171.1 404.0L175.7 405.6L180.4 405.9L184.9 407.5L189.6 408.6L194.3 408.5L198.9 409.8L203.6 410.5L208.3 410.2L213.0 410.4ZM215.4 410.0L218.7 408.9L222.2 408.0L225.3 406.5L228.0 404.2L231.0 402.4L234.3 401.2L237.2 399.3L239.8 396.6L242.5 394.3L245.4 392.3L247.9 389.4L249.6 384.8L245.7 384.6L242.3 385.3L238.9 386.3L236.0 388.2L233.0 390.1L229.7 391.1L226.5 392.3L223.6 394.5L220.7 396.4L217.3 397.4L214.0 398.5L211.4 401.1ZM215.1 414.2L210.2 412.7L205.4 411.5L200.3 411.6L195.4 410.1L190.5 409.2L185.5 409.1L180.7 407.4L175.7 407.0L170.7 406.7L165.8 405.4L160.7 405.6L155.5 406.9L160.0 410.7L164.7 413.0L169.5 415.3L174.4 416.2L179.2 418.0L184.0 419.6L189.1 419.8L193.9 421.7L198.8 422.4L203.8 422.6L208.7 424.3L213.8 423.8ZM216.1 423.6L220.0 423.5L223.3 421.8L226.6 419.8L230.2 418.8L233.7 417.8L236.8 415.5L240.0 413.3L243.5 412.0L246.7 410.1L249.6 407.2L252.6 404.4L255.0 400.2L250.8 399.4L247.1 400.1L243.8 401.7L240.3 403.1L236.6 403.8L233.2 405.2L230.0 407.3L226.5 408.5L222.8 409.2L219.4 410.9L216.2 412.9L212.8 414.4ZM216.2 427.6L211.1 425.5L205.7 425.6L200.5 423.9L195.3 423.1L189.9 422.7L184.8 420.8L179.4 420.7L174.2 419.5L169.0 418.4L163.6 418.4L158.3 417.5L152.7 418.9L157.5 422.8L162.5 425.7L167.6 427.2L172.8 428.9L177.9 431.1L183.2 431.5L188.3 433.5L193.6 434.5L198.9 434.9L204.0 436.9L209.4 436.9L214.7 437.2ZM217.0 437.1L220.9 436.5L224.4 434.8L228.4 434.2L232.0 432.9L235.4 430.6L239.0 429.2L242.8 428.1L246.1 425.8L249.4 423.2L252.9 421.4L256.2 418.8L258.8 414.2L254.4 413.3L250.7 414.5L246.9 415.5L243.0 416.1L239.4 417.8L235.9 419.6L232.1 420.3L228.3 421.4L224.9 423.5L221.2 424.9L217.3 425.3L214.0 427.8ZM217.5 440.9L212.1 440.0L206.8 438.9L201.4 438.1L195.9 438.2L190.6 436.5L185.1 436.6L179.8 435.7L174.4 434.7L168.9 434.9L163.6 433.8L158.1 434.1L152.5 435.6L157.5 439.6L162.8 441.4L168.1 443.1L173.4 445.1L178.8 445.5L184.1 447.4L189.5 448.0L194.9 448.5L200.2 450.2L205.7 449.8L211.0 451.1L216.5 450.7ZM218.4 450.5L222.4 449.7L226.5 449.4L230.3 447.8L233.9 445.8L237.9 445.0L241.8 443.8L245.4 441.4L249.1 439.6L252.9 438.2L256.4 435.6L259.8 432.6L262.9 428.6L258.4 427.9L254.3 428.4L250.3 429.0L246.5 430.7L242.7 432.1L238.6 432.5L234.8 434.1L231.1 436.0L227.1 436.7L223.1 437.5L219.5 439.5L215.7 441.1ZM219.8 454.1L214.5 453.1L209.2 452.0L203.9 452.5L198.6 451.2L193.2 450.9L187.9 450.8L182.6 449.4L177.2 449.8L171.9 449.0L166.6 448.6L161.2 449.2L155.8 450.6L160.9 454.1L166.1 456.5L171.3 458.0L176.6 458.8L181.8 460.8L187.2 460.9L192.5 462.0L197.8 463.1L203.1 462.8L208.4 464.3L213.8 464.3L219.1 464.0ZM220.9 463.8L225.2 463.8L228.9 462.2L232.6 460.2L236.7 459.6L240.6 458.3L244.1 455.9L247.9 454.4L251.8 453.1L255.3 450.6L258.8 448.0L262.4 445.7L265.3 441.2L260.7 440.2L256.7 441.0L252.9 442.6L248.9 443.3L244.9 444.2L241.2 446.2L237.3 447.5L233.2 448.0L229.5 449.8L225.8 451.6L221.7 452.1L218.1 454.3ZM222.8 467.3L217.9 465.5L212.7 465.9L207.7 465.1L202.7 464.0L197.6 464.5L192.6 463.2L187.6 462.6L182.5 462.8L177.5 461.6L172.4 461.7L167.3 461.9L162.1 463.4L166.9 467.4L171.8 468.8L176.7 471.1L181.7 472.2L186.8 472.8L191.7 474.7L196.8 474.9L201.8 475.5L206.8 477.0L211.9 476.6L216.9 477.5L222.0 477.1ZM223.5 477.0L227.4 476.9L231.0 475.4L234.8 475.0L238.6 474.3L242.0 472.4L245.6 470.9L249.3 470.2L252.9 468.6L256.2 466.2L259.7 464.3L263.1 462.3L266.0 457.9L261.9 457.0L258.0 456.9L254.2 457.6L250.6 459.1L246.9 460.0L243.1 460.2L239.5 461.6L236.0 463.3L232.2 463.8L228.4 464.2L224.8 465.9L221.3 467.4ZM225.8 480.3L221.5 479.4L217.2 479.5L212.9 478.3L208.6 478.2L204.3 478.5L200.0 477.4L195.7 476.9L191.4 477.4L187.1 476.8L182.8 476.4L178.5 477.1L174.1 478.9L178.2 482.5L182.5 483.9L186.7 485.8L190.9 487.2L195.2 487.3L199.5 488.5L203.7 489.7L208.1 489.4L212.4 489.8L216.6 491.1L220.9 490.8L225.3 490.3ZM226.4 490.2L229.7 489.8L233.1 489.8L236.5 489.5L239.7 488.2L242.9 486.8L246.2 486.2L249.5 485.6L252.7 483.9L255.8 481.9L258.9 480.4L262.0 478.6L264.8 474.5L261.1 473.2L257.7 473.4L254.3 473.3L250.9 473.7L247.7 475.1L244.5 475.9L241.0 476.0L237.7 476.5L234.5 477.9L231.3 478.9L227.8 478.9L224.7 480.4Z" fill="#1fa254" stroke="#0f7c3e" stroke-width="0.7" stroke-linejoin="round"/>
<path d="M242.5 302.8Q240.5 300.2 238.3 297.1M244.2 303.4Q246.1 302.1 248.7 300.8M233.4 313.0Q229.4 309.4 224.3 304.9M236.6 313.7Q240.3 311.9 245.4 309.7M225.5 324.1Q219.8 319.7 212.2 314.0M230.2 325.1Q235.5 323.0 242.8 320.5M218.8 336.0Q211.4 331.5 201.3 325.5M224.7 336.7Q231.2 333.8 240.3 330.0M213.5 348.9Q203.9 344.7 190.6 339.2M220.4 349.3Q227.1 346.0 236.3 341.8M210.3 362.5Q199.9 359.1 185.2 354.7M218.0 362.2Q225.5 358.2 235.8 353.1M208.5 376.0Q197.2 373.0 181.1 369.0M216.7 375.3Q224.6 370.8 235.4 364.9M207.6 389.6Q195.4 386.9 178.1 383.5M216.4 388.7Q224.8 384.0 236.3 377.8M207.9 403.3Q194.9 401.3 176.5 398.7M217.1 402.1Q225.7 397.3 237.7 390.8M208.6 416.4Q194.9 413.7 175.4 410.1M218.5 415.8Q228.1 411.4 241.5 405.6M209.2 429.7Q194.6 426.6 173.9 422.6M219.8 429.3Q230.0 425.0 244.3 419.5M210.6 443.4Q195.6 441.1 174.3 438.1M221.6 442.7Q232.4 438.8 247.5 433.5M213.2 456.9Q198.4 454.9 177.4 452.6M224.1 455.9Q234.8 451.8 250.0 446.3M216.4 470.0Q202.4 468.0 182.5 465.5M226.8 469.4Q237.0 466.1 251.4 461.8M220.4 483.3Q208.5 481.9 191.5 480.1M229.4 482.9Q238.6 480.4 251.6 477.3" fill="none" stroke="#45bf74" stroke-width="1.6" stroke-linecap="round" opacity="0.55"/>
<path d="M243.3 305.2Q240.5 302.4 236.9 295.5M243.3 305.2Q246.1 304.3 250.7 300.5M235.0 315.8Q229.4 311.6 220.5 302.1M235.0 315.8Q240.3 314.1 249.4 308.7M228.0 327.3Q219.8 321.9 206.3 310.2M228.0 327.3Q235.5 325.2 248.7 319.2M221.9 339.3Q211.4 333.7 193.3 321.5M221.9 339.3Q231.2 336.0 247.5 327.8M217.6 352.1Q203.9 346.9 179.8 335.5M217.6 352.1Q227.1 348.2 243.6 339.2M214.8 365.2Q199.9 361.3 173.3 352.0M214.8 365.2Q225.5 360.4 244.0 349.7M213.4 378.6Q197.2 375.2 168.1 366.7M213.4 378.6Q224.6 373.0 244.0 360.8M212.9 392.1Q195.4 389.1 164.0 381.5M212.9 392.1Q224.8 386.2 245.5 373.5M213.4 405.5Q194.9 403.5 161.5 397.5M213.4 405.5Q225.7 399.5 247.2 386.4M214.4 419.0Q194.9 415.9 159.6 408.0M214.4 419.0Q228.1 413.6 252.3 401.8M215.5 432.4Q194.6 428.8 157.1 420.1M215.5 432.4Q230.0 427.2 255.8 415.7M217.0 445.8Q195.6 443.3 157.0 436.5M217.0 445.8Q232.4 441.0 259.7 430.0M219.5 459.0Q198.4 457.1 160.2 451.5M219.5 459.0Q234.8 454.0 262.2 442.7M222.4 472.2Q202.4 470.2 166.3 464.3M222.4 472.2Q237.0 468.3 263.0 459.1M225.5 485.3Q208.5 484.1 177.7 479.6M225.5 485.3Q238.6 482.6 262.1 475.5" fill="none" stroke="#0f7c3e" stroke-width="0.7" opacity="0.85"/>
<path d="M250.0 297.7L249.0 298.8L247.6 300.4L245.9 302.3L244.2 304.3L242.5 306.2L241.0 308.0L239.8 309.4L238.8 310.7L237.8 311.9L236.8 313.2L235.7 314.9L234.3 317.0L232.6 319.7L230.7 322.7L228.6 326.1L226.6 329.7L224.6 333.4L222.9 337.0L221.4 340.6L220.0 344.2L218.8 348.0L217.6 351.8L216.6 355.8L215.7 360.0L214.9 364.4L214.3 369.1L213.8 374.0L213.4 378.9L213.1 383.8L212.9 388.6L212.9 393.3L213.0 398.1L213.3 402.8L213.6 407.5L213.9 412.3L214.3 417.0L214.6 421.8L215.0 426.5L215.4 431.3L215.8 436.1L216.3 440.9L217.0 445.7L217.8 450.5L218.7 455.5L219.8 460.4L220.8 465.2L221.9 469.9L222.9 474.3L223.9 478.6L224.9 482.8L225.9 486.8L226.9 490.6L227.8 494.0L228.6 497.0L229.3 499.5L230.0 501.5L230.7 503.2L231.2 504.5L231.7 505.6L232.0 506.5L232.0 506.5" fill="none" stroke="#0f7c3e" stroke-width="3.6" stroke-linecap="round"/>
<path d="M250.0 297.7L249.0 298.8L247.6 300.4L245.9 302.3L244.2 304.3L242.5 306.2L241.0 308.0L239.8 309.4L238.8 310.7L237.8 311.9L236.8 313.2L235.7 314.9L234.3 317.0L232.6 319.7L230.7 322.7L228.6 326.1L226.6 329.7L224.6 333.4L222.9 337.0L221.4 340.6L220.0 344.2L218.8 348.0L217.6 351.8L216.6 355.8L215.7 360.0L214.9 364.4L214.3 369.1L213.8 374.0L213.4 378.9L213.1 383.8L212.9 388.6L212.9 393.3L213.0 398.1L213.3 402.8L213.6 407.5L213.9 412.3L214.3 417.0L214.6 421.8L215.0 426.5L215.4 431.3L215.8 436.1L216.3 440.9L217.0 445.7L217.8 450.5L218.7 455.5L219.8 460.4L220.8 465.2L221.9 469.9L222.9 474.3L223.9 478.6L224.9 482.8L225.9 486.8L226.9 490.6L227.8 494.0L228.6 497.0L229.3 499.5L230.0 501.5L230.7 503.2L231.2 504.5L231.7 505.6L232.0 506.5L232.0 506.5" fill="none" stroke="#25a85a" stroke-width="2.4" stroke-linecap="round"/>
<g fill="#d2aa3c"><circle cx="240.0" cy="303.7" r="1.1"/><circle cx="241.7" cy="301.6" r="1.1"/><circle cx="237.6" cy="299.7" r="1.1"/><circle cx="239.3" cy="297.6" r="1.1"/><circle cx="245.7" cy="303.0" r="1.1"/><circle cx="246.2" cy="305.7" r="1.1"/><circle cx="248.8" cy="300.9" r="1.1"/><circle cx="249.3" cy="303.6" r="1.1"/><circle cx="230.2" cy="314.6" r="1.1"/><circle cx="232.2" cy="311.5" r="1.1"/><circle cx="225.7" cy="310.7" r="1.1"/><circle cx="227.7" cy="307.6" r="1.1"/><circle cx="221.5" cy="306.3" r="1.1"/><circle cx="223.5" cy="303.2" r="1.1"/><circle cx="239.4" cy="312.4" r="1.1"/><circle cx="240.3" cy="316.0" r="1.1"/><circle cx="245.1" cy="309.4" r="1.1"/><circle cx="246.0" cy="313.0" r="1.1"/><circle cx="222.3" cy="326.2" r="1.1"/><circle cx="224.6" cy="322.4" r="1.1"/><circle cx="216.8" cy="322.3" r="1.1"/><circle cx="219.2" cy="318.5" r="1.1"/><circle cx="211.6" cy="318.0" r="1.1"/><circle cx="214.0" cy="314.2" r="1.1"/><circle cx="206.6" cy="313.4" r="1.1"/><circle cx="208.9" cy="309.6" r="1.1"/><circle cx="232.6" cy="323.7" r="1.1"/><circle cx="233.6" cy="328.1" r="1.1"/><circle cx="238.8" cy="321.5" r="1.1"/><circle cx="239.8" cy="325.8" r="1.1"/><circle cx="244.9" cy="318.6" r="1.1"/><circle cx="245.9" cy="322.9" r="1.1"/><circle cx="216.1" cy="339.0" r="1.1"/><circle cx="218.1" cy="334.8" r="1.1"/><circle cx="210.1" cy="335.8" r="1.1"/><circle cx="212.1" cy="331.6" r="1.1"/><circle cx="204.2" cy="332.4" r="1.1"/><circle cx="206.2" cy="328.2" r="1.1"/><circle cx="198.4" cy="328.7" r="1.1"/><circle cx="200.4" cy="324.5" r="1.1"/><circle cx="192.8" cy="324.8" r="1.1"/><circle cx="194.8" cy="320.6" r="1.1"/><circle cx="226.1" cy="335.5" r="1.1"/><circle cx="227.4" cy="339.9" r="1.1"/><circle cx="232.0" cy="333.1" r="1.1"/><circle cx="233.4" cy="337.6" r="1.1"/><circle cx="237.8" cy="330.5" r="1.1"/><circle cx="239.2" cy="334.9" r="1.1"/><circle cx="243.6" cy="327.4" r="1.1"/><circle cx="244.9" cy="331.9" r="1.1"/><circle cx="211.9" cy="352.6" r="1.1"/><circle cx="213.6" cy="348.0" r="1.1"/><circle cx="206.0" cy="350.2" r="1.1"/><circle cx="207.6" cy="345.6" r="1.1"/><circle cx="200.1" cy="347.7" r="1.1"/><circle cx="201.7" cy="343.1" r="1.1"/><circle cx="194.2" cy="345.0" r="1.1"/><circle cx="195.9" cy="340.4" r="1.1"/><circle cx="188.5" cy="342.1" r="1.1"/><circle cx="190.1" cy="337.5" r="1.1"/><circle cx="182.8" cy="339.0" r="1.1"/><circle cx="184.4" cy="334.4" r="1.1"/><circle cx="221.0" cy="348.1" r="1.1"/><circle cx="222.7" cy="352.7" r="1.1"/><circle cx="226.4" cy="345.7" r="1.1"/><circle cx="228.1" cy="350.3" r="1.1"/><circle cx="231.6" cy="343.2" r="1.1"/><circle cx="233.3" cy="347.8" r="1.1"/><circle cx="236.8" cy="340.4" r="1.1"/><circle cx="238.5" cy="345.0" r="1.1"/><circle cx="241.8" cy="337.3" r="1.1"/><circle cx="243.5" cy="341.9" r="1.1"/><circle cx="209.4" cy="366.5" r="1.1"/><circle cx="210.7" cy="361.5" r="1.1"/><circle cx="203.6" cy="364.8" r="1.1"/><circle cx="204.8" cy="359.8" r="1.1"/><circle cx="197.7" cy="363.0" r="1.1"/><circle cx="199.0" cy="358.0" r="1.1"/><circle cx="191.9" cy="361.0" r="1.1"/><circle cx="193.1" cy="356.1" r="1.1"/><circle cx="186.1" cy="358.9" r="1.1"/><circle cx="187.3" cy="354.0" r="1.1"/><circle cx="180.3" cy="356.7" r="1.1"/><circle cx="181.6" cy="351.8" r="1.1"/><circle cx="174.6" cy="354.4" r="1.1"/><circle cx="175.9" cy="349.4" r="1.1"/><circle cx="218.5" cy="360.8" r="1.1"/><circle cx="220.5" cy="365.5" r="1.1"/><circle cx="224.3" cy="358.0" r="1.1"/><circle cx="226.2" cy="362.7" r="1.1"/><circle cx="229.9" cy="355.0" r="1.1"/><circle cx="231.9" cy="359.7" r="1.1"/><circle cx="235.5" cy="351.7" r="1.1"/><circle cx="237.5" cy="356.4" r="1.1"/><circle cx="240.9" cy="348.2" r="1.1"/><circle cx="242.9" cy="352.9" r="1.1"/><circle cx="207.6" cy="380.1" r="1.1"/><circle cx="208.7" cy="375.0" r="1.1"/><circle cx="201.2" cy="378.7" r="1.1"/><circle cx="202.2" cy="373.5" r="1.1"/><circle cx="194.7" cy="377.1" r="1.1"/><circle cx="195.7" cy="371.9" r="1.1"/><circle cx="188.3" cy="375.3" r="1.1"/><circle cx="189.3" cy="370.1" r="1.1"/><circle cx="181.8" cy="373.4" r="1.1"/><circle cx="182.9" cy="368.3" r="1.1"/><circle cx="175.5" cy="371.4" r="1.1"/><circle cx="176.5" cy="366.2" r="1.1"/><circle cx="169.1" cy="369.3" r="1.1"/><circle cx="170.1" cy="364.1" r="1.1"/><circle cx="217.4" cy="373.9" r="1.1"/><circle cx="219.5" cy="378.8" r="1.1"/><circle cx="223.6" cy="370.8" r="1.1"/><circle cx="225.7" cy="375.7" r="1.1"/><circle cx="229.8" cy="367.5" r="1.1"/><circle cx="231.9" cy="372.4" r="1.1"/><circle cx="235.8" cy="364.0" r="1.1"/><circle cx="237.9" cy="368.8" r="1.1"/><circle cx="241.8" cy="360.2" r="1.1"/><circle cx="243.9" cy="365.0" r="1.1"/><circle cx="207.5" cy="393.9" r="1.1"/><circle cx="208.3" cy="388.7" r="1.1"/><circle cx="201.4" cy="392.9" r="1.1"/><circle cx="202.2" cy="387.6" r="1.1"/><circle cx="195.3" cy="391.7" r="1.1"/><circle cx="196.0" cy="386.5" r="1.1"/><circle cx="189.2" cy="390.5" r="1.1"/><circle cx="189.9" cy="385.2" r="1.1"/><circle cx="183.1" cy="389.1" r="1.1"/><circle cx="183.8" cy="383.9" r="1.1"/><circle cx="177.0" cy="387.6" r="1.1"/><circle cx="177.7" cy="382.4" r="1.1"/><circle cx="170.9" cy="386.0" r="1.1"/><circle cx="171.7" cy="380.8" r="1.1"/><circle cx="164.8" cy="384.3" r="1.1"/><circle cx="165.6" cy="379.1" r="1.1"/><circle cx="216.4" cy="387.6" r="1.1"/><circle cx="218.5" cy="392.4" r="1.1"/><circle cx="222.0" cy="384.9" r="1.1"/><circle cx="224.1" cy="389.7" r="1.1"/><circle cx="227.5" cy="381.9" r="1.1"/><circle cx="229.7" cy="386.8" r="1.1"/><circle cx="233.0" cy="378.9" r="1.1"/><circle cx="235.2" cy="383.7" r="1.1"/><circle cx="238.4" cy="375.6" r="1.1"/><circle cx="240.6" cy="380.5" r="1.1"/><circle cx="243.8" cy="372.2" r="1.1"/><circle cx="245.9" cy="377.1" r="1.1"/></g>
<rect x="-9.8" y="-5.900" width="19.6" height="11.8" transform="translate(218.500 319) rotate(39)" fill="none" stroke="#231f20" stroke-width="0.8"/>
<g stroke="#231f20" stroke-width="0.9" fill="none"><path d="M760.7 290.7L799.0 290.7"/><path d="M637.0 343.0L678.0 400.0"/><path d="M614.0 221.0L648.5 202.5"/><path d="M442.0 355.0L452.5 381.0"/><path d="M542.0 503.0L521.0 487.0"/><path d="M271.0 356.5L251.5 372.5"/><path d="M120.4 305.6L120.4 318.0"/><path d="M156.5 545.0L191.5 506.0"/></g>
<rect x="115" y="295.300" width="10.7" height="10.3" fill="none" stroke="#231f20" stroke-width="0.8"/>
<path d="M47 334.500Q52.500 341 51.500 347Q50 353 47 355.500Q43.500 357.500 41.500 362Q39 366.500 31.300 366.300M47 355.500L59 368.700" fill="none" stroke="#231f20" stroke-width="0.9"/>
<rect x="5.3" y="5.3" width="107.5" height="33.0" fill="#fdf1b4" stroke="#e9c68c" stroke-width="1.6"/>
<rect x="80.8" y="133.3" width="95.0" height="32.6" fill="#fddd7a" stroke="#d09a44" stroke-width="1.6"/>
<rect x="697.0" y="335.0" width="136.5" height="33.0" fill="#fddd7a" stroke="#d09a44" stroke-width="1.6"/>
<path d="M4.7 49.2 H16.8 V46.5 L32.3 54.6 L16.8 62.7 V60.0 H4.7Z" fill="#8fd3cf"/>
<path d="M4.7 75.3 H16.8 V72.6 L32.3 80.7 L16.8 88.8 V86.1 H4.7Z" fill="#e8b4a6"/>
<text x="44.8" y="28.3" font-size="16.6" font-weight="bold" >Key</text>
<text x="39.0" y="60.0" font-size="16.9" font-weight="bold" >Haploid (<tspan font-style="italic">n</tspan>)</text>
<text x="39.0" y="86.0" font-size="16.9" font-weight="bold" >Diploid (2<tspan font-style="italic">n</tspan>)</text>
<text x="93.5" y="154.8" font-size="16.9" font-weight="bold" >MEIOSIS</text>
<text x="87.0" y="218.8" font-size="16.9" font-weight="bold" >Sporangium</text>
<text x="252.0" y="137.0" font-size="16.9" font-weight="bold" >Spore</text>
<text x="252.0" y="157.7" font-size="16.9" font-weight="bold" >dispersal</text>
<text x="360.7" y="113.5" font-size="16.9" font-weight="bold" >Spore</text>
<text x="360.7" y="135.0" font-size="16.9" font-weight="bold" >(<tspan font-style="italic">n</tspan>)</text>
<text x="434.0" y="117.0" font-size="16.9" font-weight="bold" >Young</text>
<text x="434.0" y="137.0" font-size="16.9" font-weight="bold" >gametophyte</text>
<text x="557.5" y="228.0" font-size="16.9" font-weight="bold" >Mature</text>
<text x="557.5" y="248.2" font-size="16.9" font-weight="bold" >gametophyte</text>
<text x="557.5" y="269.0" font-size="16.9" font-weight="bold" >(<tspan font-style="italic">n</tspan>)</text>
<text x="660.0" y="271.6" font-size="16.9" font-weight="bold" >Archegonium</text>
<text x="726.0" y="296.4" font-size="16.9" font-weight="bold" >Egg</text>
<text x="806.7" y="109.7" font-size="16.9" font-weight="bold" >Antheridium</text>
<text x="854.7" y="229.3" font-size="16.9" font-weight="bold" >Sperm</text>
<text x="703.5" y="356.7" font-size="16.9" font-weight="bold" >FERTILIZATION</text>
<text x="581.4" y="342.0" font-size="16.9" font-weight="bold" >Zygote</text>
<text x="581.4" y="363.0" font-size="16.9" font-weight="bold" >(2<tspan font-style="italic">n</tspan>)</text>
<text x="405.0" y="332.0" font-size="16.9" font-weight="bold" >New</text>
<text x="405.0" y="352.0" font-size="16.9" font-weight="bold" >sporophyte</text>
<text x="544.0" y="511.5" font-size="16.9" font-weight="bold" >Gametophyte</text>
<text x="272.0" y="317.0" font-size="16.9" font-weight="bold" >Mature</text>
<text x="272.0" y="337.0" font-size="16.9" font-weight="bold" >sporophyte</text>
<text x="272.0" y="357.7" font-size="16.9" font-weight="bold" >(2<tspan font-style="italic">n</tspan>)</text>
<text x="72.0" y="333.6" font-size="16.9" font-weight="bold" >Sporangium</text>
<text x="40.4" y="385.0" font-size="16.9" font-weight="bold" >Sorus</text>
<text x="110.0" y="559.8" font-size="16.9" font-weight="bold" >Fiddlehead</text>
<text x="3.2" y="572.7" font-size="8.1" font-weight="normal" style="fill:#3a3a3a">Copyright © 2008 Pearson Education, Inc., publishing as Pearson Benjamin Cummings.</text>
</svg>
</body></html>
